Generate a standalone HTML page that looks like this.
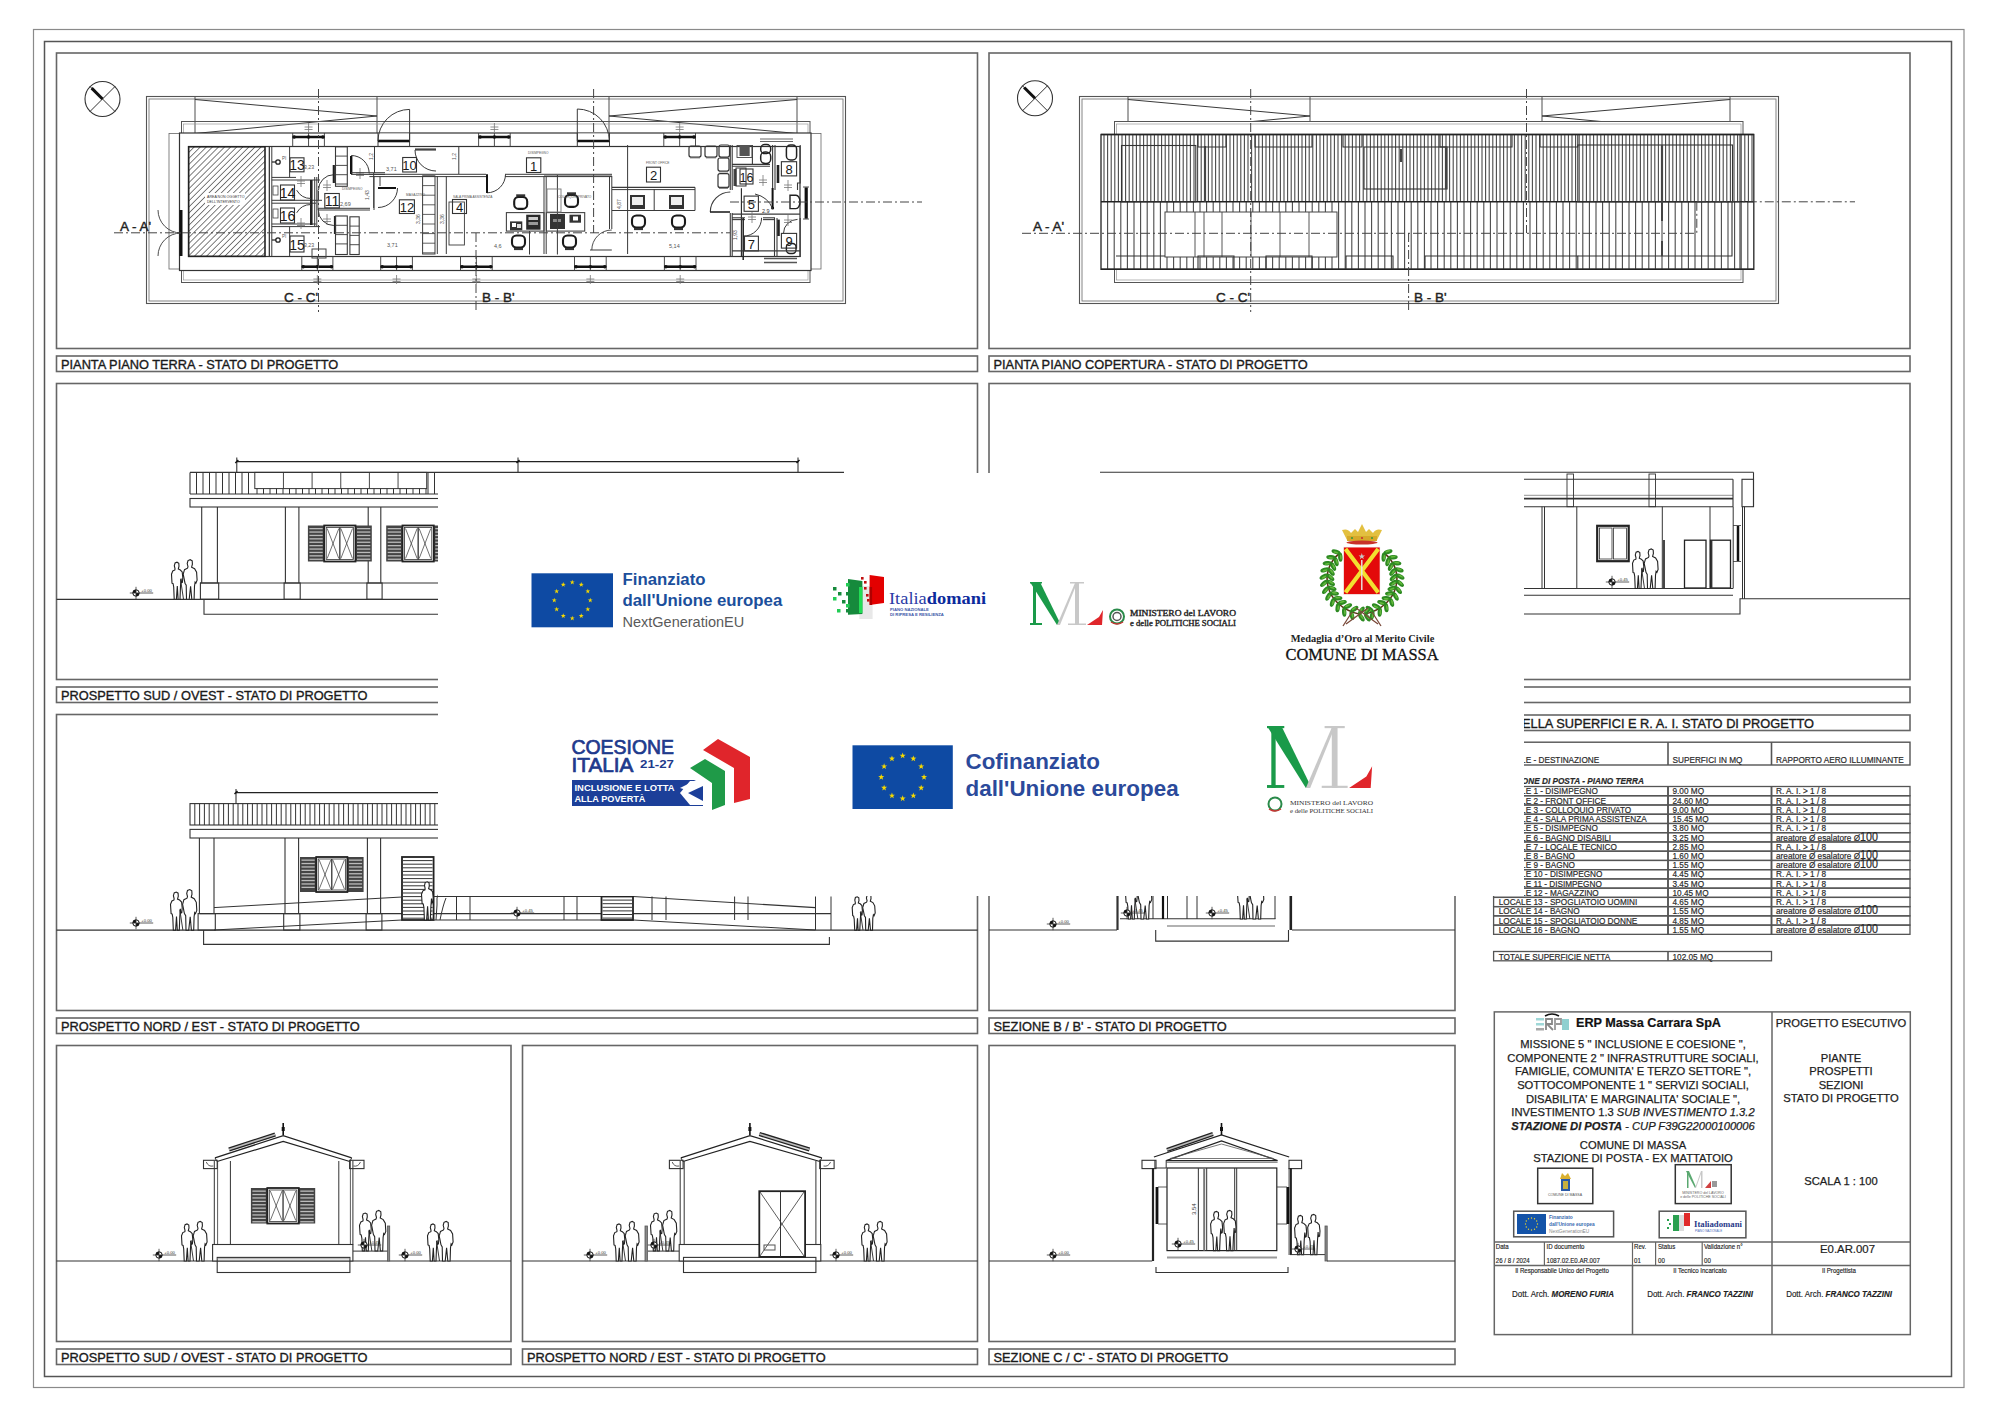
<!DOCTYPE html>
<html><head><meta charset="utf-8"><style>
html,body{margin:0;padding:0;background:#fff;width:2000px;height:1414px;overflow:hidden}
svg{display:block}
</style></head><body>
<svg width="2000" height="1414" viewBox="0 0 2000 1414" shape-rendering="auto">
<rect width="2000" height="1414" fill="#fff"/>
<rect x="33.5" y="29.5" width="1930.5" height="1358" stroke="#8a8a8a" stroke-width="1.2" fill="none" />
<rect x="44.5" y="41.5" width="1907" height="1335" stroke="#555" stroke-width="1.5" fill="none" />
<rect x="56.5" y="53" width="921.0" height="295.5" stroke="#666" stroke-width="1.6" fill="none" />
<rect x="56.5" y="356" width="921.0" height="15.5" stroke="#666" stroke-width="1.6" fill="none" />
<text x="61.0" y="368.5" font-family="Liberation Sans" font-size="12.8" font-weight="normal" font-style="normal" fill="#1a1a1a" text-anchor="start" stroke="#1a1a1a" stroke-width="0.35">PIANTA PIANO TERRA - STATO DI PROGETTO</text>
<rect x="989" y="53" width="921" height="295.5" stroke="#666" stroke-width="1.6" fill="none" />
<rect x="989" y="356" width="921" height="15.5" stroke="#666" stroke-width="1.6" fill="none" />
<text x="993.5" y="368.5" font-family="Liberation Sans" font-size="12.8" font-weight="normal" font-style="normal" fill="#1a1a1a" text-anchor="start" stroke="#1a1a1a" stroke-width="0.35">PIANTA PIANO COPERTURA - STATO DI PROGETTO</text>
<rect x="56.5" y="383.5" width="921.0" height="296.0" stroke="#666" stroke-width="1.6" fill="none" />
<rect x="56.5" y="687" width="921.0" height="15.5" stroke="#666" stroke-width="1.6" fill="none" />
<text x="61.0" y="699.5" font-family="Liberation Sans" font-size="12.8" font-weight="normal" font-style="normal" fill="#1a1a1a" text-anchor="start" stroke="#1a1a1a" stroke-width="0.35">PROSPETTO SUD / OVEST - STATO DI PROGETTO</text>
<rect x="989" y="383.5" width="921" height="296.0" stroke="#666" stroke-width="1.6" fill="none" />
<rect x="989" y="687" width="921" height="15.5" stroke="#666" stroke-width="1.6" fill="none" />
<text x="993.5" y="699.5" font-family="Liberation Sans" font-size="12.8" font-weight="normal" font-style="normal" fill="#1a1a1a" text-anchor="start" stroke="#1a1a1a" stroke-width="0.35">SEZIONE A / A' - STATO DI PROGETTO</text>
<rect x="56.5" y="714.5" width="921.0" height="296.0" stroke="#666" stroke-width="1.6" fill="none" />
<rect x="56.5" y="1018" width="921.0" height="15.5" stroke="#666" stroke-width="1.6" fill="none" />
<text x="61.0" y="1030.5" font-family="Liberation Sans" font-size="12.8" font-weight="normal" font-style="normal" fill="#1a1a1a" text-anchor="start" stroke="#1a1a1a" stroke-width="0.35">PROSPETTO NORD / EST - STATO DI PROGETTO</text>
<rect x="989" y="714.5" width="466" height="296.0" stroke="#666" stroke-width="1.6" fill="none" />
<rect x="989" y="1018" width="466" height="15.5" stroke="#666" stroke-width="1.6" fill="none" />
<text x="993.5" y="1030.5" font-family="Liberation Sans" font-size="12.8" font-weight="normal" font-style="normal" fill="#1a1a1a" text-anchor="start" stroke="#1a1a1a" stroke-width="0.35">SEZIONE B / B' - STATO DI PROGETTO</text>
<rect x="1493.6" y="715" width="416.4000000000001" height="15.5" stroke="#666" stroke-width="1.6" fill="none" />
<text x="1498.1" y="727.5" font-family="Liberation Sans" font-size="12.8" font-weight="normal" font-style="normal" fill="#1a1a1a" text-anchor="start" stroke="#1a1a1a" stroke-width="0.35">TABELLA SUPERFICI E R. A. I. STATO DI PROGETTO</text>
<rect x="56.5" y="1045.5" width="454.5" height="296.0" stroke="#666" stroke-width="1.6" fill="none" />
<rect x="56.5" y="1349" width="454.5" height="15.5" stroke="#666" stroke-width="1.6" fill="none" />
<text x="61.0" y="1361.5" font-family="Liberation Sans" font-size="12.8" font-weight="normal" font-style="normal" fill="#1a1a1a" text-anchor="start" stroke="#1a1a1a" stroke-width="0.35">PROSPETTO SUD / OVEST - STATO DI PROGETTO</text>
<rect x="522.5" y="1045.5" width="455.0" height="296.0" stroke="#666" stroke-width="1.6" fill="none" />
<rect x="522.5" y="1349" width="455.0" height="15.5" stroke="#666" stroke-width="1.6" fill="none" />
<text x="527.0" y="1361.5" font-family="Liberation Sans" font-size="12.8" font-weight="normal" font-style="normal" fill="#1a1a1a" text-anchor="start" stroke="#1a1a1a" stroke-width="0.35">PROSPETTO NORD / EST - STATO DI PROGETTO</text>
<rect x="989" y="1045.5" width="466" height="296.0" stroke="#666" stroke-width="1.6" fill="none" />
<rect x="989" y="1349" width="466" height="15.5" stroke="#666" stroke-width="1.6" fill="none" />
<text x="993.5" y="1361.5" font-family="Liberation Sans" font-size="12.8" font-weight="normal" font-style="normal" fill="#1a1a1a" text-anchor="start" stroke="#1a1a1a" stroke-width="0.35">SEZIONE C / C' - STATO DI PROGETTO</text>
<circle cx="102.5" cy="99" r="17.5" fill="none" stroke="#333" stroke-width="1.1"/>
<line x1="89.9" y1="86.4" x2="115.1" y2="111.6" stroke="#333" stroke-width="1" />
<line x1="89.9" y1="111.6" x2="115.1" y2="86.4" stroke="#333" stroke-width="1" />
<line x1="91.65" y1="88.15" x2="102.5" y2="99" stroke="#111" stroke-width="3" />
<rect x="146.5" y="96.5" width="699" height="207" stroke="#555" stroke-width="1.1" fill="none" />
<rect x="149" y="99" width="694" height="202" stroke="#777" stroke-width="0.9" fill="none" />
<line x1="195" y1="97" x2="195" y2="134" stroke="#3a3a3a" stroke-width="0.9" />
<line x1="377" y1="97" x2="377" y2="141" stroke="#3a3a3a" stroke-width="0.9" />
<line x1="195" y1="99.5" x2="377" y2="116" stroke="#3a3a3a" stroke-width="1" />
<line x1="195" y1="133.5" x2="377" y2="116" stroke="#3a3a3a" stroke-width="1" />
<line x1="609" y1="97" x2="609" y2="141" stroke="#3a3a3a" stroke-width="0.9" />
<line x1="797" y1="97" x2="797" y2="134" stroke="#3a3a3a" stroke-width="0.9" />
<line x1="797" y1="99.5" x2="609" y2="116" stroke="#3a3a3a" stroke-width="1" />
<line x1="797" y1="133.5" x2="609" y2="116" stroke="#3a3a3a" stroke-width="1" />
<rect x="181.5" y="121.5" width="628.5" height="161" stroke="#555" stroke-width="1" fill="none" />
<rect x="183.5" y="124" width="624.5" height="156" stroke="#999" stroke-width="0.7" fill="none" />
<rect x="169" y="133.5" width="652" height="135.5" stroke="#666" stroke-width="0.8" fill="none" />
<rect x="179.5" y="133" width="631.5" height="137.5" stroke="#333" stroke-width="1.2" fill="#fff" />
<rect x="188.5" y="146.5" width="611.5" height="110" stroke="#333" stroke-width="1.2" fill="none" />
<defs><pattern id="hatch" width="4.3" height="4.3" patternUnits="userSpaceOnUse" patternTransform="rotate(45)"><rect width="4.3" height="4.3" fill="#fff"/><line x1="0" y1="0" x2="0" y2="4.3" stroke="#333" stroke-width="1.25"/></pattern></defs>
<rect x="188.7" y="146.8" width="76.3" height="109.5" fill="url(#hatch)" stroke="#222" stroke-width="1.6"/>
<line x1="269.5" y1="146.8" x2="269.5" y2="256.3" stroke="#3a3a3a" stroke-width="1" />
<rect x="205" y="193" width="40" height="12" fill="#fff" />
<text x="207" y="198" font-family="Liberation Sans" font-size="3.6" font-weight="normal" font-style="normal" fill="#333" text-anchor="start" >AREA NON OGGETTO</text>
<text x="207" y="203" font-family="Liberation Sans" font-size="3.6" font-weight="normal" font-style="normal" fill="#333" text-anchor="start" >DELL'INTERVENTO</text>
<line x1="181" y1="210" x2="181" y2="256" stroke="#111" stroke-width="3" />
<path d="M158.0,210.0 A23,23 0 0 0 181.0,233.0" stroke="#3a3a3a" stroke-width="0.9" fill="none" />
<path d="M181.0,233.0 A23,23 0 0 0 158.0,256.0" stroke="#3a3a3a" stroke-width="0.9" fill="none" />
<line x1="269.2" y1="147" x2="269.2" y2="256" stroke="#3a3a3a" stroke-width="1" />
<line x1="271.8" y1="147" x2="271.8" y2="256" stroke="#3a3a3a" stroke-width="1" />
<line x1="271.8" y1="177.4" x2="296" y2="177.4" stroke="#3a3a3a" stroke-width="1" />
<line x1="271.8" y1="180" x2="320" y2="180" stroke="#3a3a3a" stroke-width="1" />
<line x1="271.8" y1="200.3" x2="322" y2="200.3" stroke="#3a3a3a" stroke-width="1" />
<line x1="271.8" y1="203.2" x2="316" y2="203.2" stroke="#3a3a3a" stroke-width="1" />
<line x1="271.8" y1="224" x2="316" y2="224" stroke="#3a3a3a" stroke-width="1" />
<line x1="271.8" y1="226.6" x2="320" y2="226.6" stroke="#3a3a3a" stroke-width="1" />
<line x1="289.6" y1="147" x2="289.6" y2="177.4" stroke="#3a3a3a" stroke-width="1" />
<line x1="289.6" y1="226.6" x2="289.6" y2="256" stroke="#3a3a3a" stroke-width="1" />
<line x1="311.3" y1="180" x2="311.3" y2="225" stroke="#222" stroke-width="2.6" />
<line x1="314.7" y1="177" x2="314.7" y2="226.6" stroke="#3a3a3a" stroke-width="1" />
<line x1="316.8" y1="177" x2="316.8" y2="226.6" stroke="#3a3a3a" stroke-width="1" />
<circle cx="278" cy="162" r="2.2" fill="none" stroke="#222" stroke-width="1.3"/>
<line x1="272" y1="162" x2="276" y2="162" stroke="#222" stroke-width="1.2" />
<text x="282" y="160" font-family="Liberation Sans" font-size="4.5" font-weight="normal" font-style="normal" fill="#555" text-anchor="start" >PI</text>
<circle cx="278" cy="240" r="2.2" fill="none" stroke="#222" stroke-width="1.3"/>
<line x1="272" y1="240" x2="276" y2="240" stroke="#222" stroke-width="1.2" />
<text x="282" y="238" font-family="Liberation Sans" font-size="4.5" font-weight="normal" font-style="normal" fill="#555" text-anchor="start" >PI</text>
<rect x="273" y="186" width="5" height="9" stroke="#444" stroke-width="0.8" fill="none" />
<rect x="273" y="209" width="5" height="9" stroke="#444" stroke-width="0.8" fill="none" />
<rect x="290" y="157.8" width="14" height="14" stroke="#333" stroke-width="1.1" fill="none" />
<text x="297.0" y="169.8" font-family="Liberation Sans" font-size="14" font-weight="normal" font-style="normal" fill="#1a1a1a" text-anchor="middle" >13</text>
<rect x="280.5" y="185" width="14" height="15" stroke="#333" stroke-width="1.1" fill="none" />
<text x="287.5" y="198" font-family="Liberation Sans" font-size="14" font-weight="normal" font-style="normal" fill="#1a1a1a" text-anchor="middle" >14</text>
<rect x="280.5" y="208" width="14" height="15" stroke="#333" stroke-width="1.1" fill="none" />
<text x="287.5" y="221" font-family="Liberation Sans" font-size="14" font-weight="normal" font-style="normal" fill="#1a1a1a" text-anchor="middle" >16</text>
<rect x="290" y="236" width="14" height="16" stroke="#333" stroke-width="1.1" fill="none" />
<text x="297.0" y="250" font-family="Liberation Sans" font-size="14" font-weight="normal" font-style="normal" fill="#1a1a1a" text-anchor="middle" >15</text>
<text x="304" y="169" font-family="Liberation Sans" font-size="5.2" font-weight="normal" font-style="normal" fill="#555" text-anchor="start" >3,23</text>
<text x="304" y="247" font-family="Liberation Sans" font-size="5.2" font-weight="normal" font-style="normal" fill="#555" text-anchor="start" >3,23</text>
<path d="M296.7,190.2 A16.5,16.5 0 0 0 311.0,198.5" stroke="#3a3a3a" stroke-width="1" fill="none" />
<path d="M296.7,212.8 A16.5,16.5 0 0 1 311.0,204.5" stroke="#3a3a3a" stroke-width="1" fill="none" />
<line x1="297" y1="181" x2="305" y2="181" stroke="#777" stroke-width="0.8" />
<line x1="297" y1="183.5" x2="305" y2="183.5" stroke="#777" stroke-width="0.8" />
<line x1="301" y1="176" x2="301" y2="187" stroke="#777" stroke-width="0.8" />
<line x1="297" y1="223" x2="305" y2="223" stroke="#777" stroke-width="0.8" />
<line x1="297" y1="225.5" x2="305" y2="225.5" stroke="#777" stroke-width="0.8" />
<line x1="301" y1="218" x2="301" y2="229" stroke="#777" stroke-width="0.8" />
<line x1="323" y1="185" x2="331" y2="185" stroke="#777" stroke-width="0.8" />
<line x1="323" y1="187.5" x2="331" y2="187.5" stroke="#777" stroke-width="0.8" />
<line x1="327" y1="180" x2="327" y2="191" stroke="#777" stroke-width="0.8" />
<line x1="323" y1="219" x2="331" y2="219" stroke="#777" stroke-width="0.8" />
<line x1="323" y1="221.5" x2="331" y2="221.5" stroke="#777" stroke-width="0.8" />
<line x1="327" y1="214" x2="327" y2="225" stroke="#777" stroke-width="0.8" />
<line x1="356" y1="173" x2="364" y2="173" stroke="#777" stroke-width="0.8" />
<line x1="356" y1="175.5" x2="364" y2="175.5" stroke="#777" stroke-width="0.8" />
<line x1="360" y1="168" x2="360" y2="179" stroke="#777" stroke-width="0.8" />
<rect x="312" y="249" width="14" height="9" stroke="#444" stroke-width="1" fill="none" />
<path d="M333.8,174.7 A15.3,15.3 0 0 0 318.5,190.0" stroke="#3a3a3a" stroke-width="1" fill="none" />
<path d="M318.3,210.0 A15.5,15.5 0 0 0 333.8,225.5" stroke="#3a3a3a" stroke-width="1" fill="none" />
<line x1="333.8" y1="165" x2="333.8" y2="183" stroke="#222" stroke-width="2.2" />
<line x1="335" y1="216" x2="335" y2="234" stroke="#222" stroke-width="2.2" />
<line x1="318" y1="190" x2="318" y2="210" stroke="#3a3a3a" stroke-width="0.8" />
<rect x="324.8" y="193.5" width="14.5" height="14.4" stroke="#333" stroke-width="1.1" fill="none" />
<text x="332.05" y="205.9" font-family="Liberation Sans" font-size="14" font-weight="normal" font-style="normal" fill="#1a1a1a" text-anchor="middle" >11</text>
<text x="340" y="206" font-family="Liberation Sans" font-size="5.5" font-weight="normal" font-style="normal" fill="#555" text-anchor="start" >2,69</text>
<text x="342" y="190" font-family="Liberation Sans" font-size="3.2" font-weight="normal" font-style="normal" fill="#555" text-anchor="start" >DISIMPEGNO</text>
<line x1="318" y1="208.3" x2="370" y2="208.3" stroke="#3a3a3a" stroke-width="1" />
<line x1="318" y1="210" x2="370" y2="210" stroke="#3a3a3a" stroke-width="1" />
<line x1="373.7" y1="173" x2="373.7" y2="208" stroke="#3a3a3a" stroke-width="1" />
<rect x="335.5" y="146.8" width="11.8" height="39.5" stroke="#3a3a3a" stroke-width="1.1" fill="none" />
<line x1="335.5" y1="156.10000000000002" x2="347.3" y2="156.10000000000002" stroke="#3a3a3a" stroke-width="0.9" />
<line x1="335.5" y1="165.40000000000003" x2="347.3" y2="165.40000000000003" stroke="#3a3a3a" stroke-width="0.9" />
<line x1="335.5" y1="174.70000000000005" x2="347.3" y2="174.70000000000005" stroke="#3a3a3a" stroke-width="0.9" />
<line x1="335.5" y1="184.00000000000006" x2="347.3" y2="184.00000000000006" stroke="#3a3a3a" stroke-width="0.9" />
<rect x="335.5" y="216" width="11.8" height="38.5" stroke="#3a3a3a" stroke-width="1.1" fill="none" />
<line x1="335.5" y1="225.3" x2="347.3" y2="225.3" stroke="#3a3a3a" stroke-width="0.9" />
<line x1="335.5" y1="234.60000000000002" x2="347.3" y2="234.60000000000002" stroke="#3a3a3a" stroke-width="0.9" />
<line x1="335.5" y1="243.90000000000003" x2="347.3" y2="243.90000000000003" stroke="#3a3a3a" stroke-width="0.9" />
<rect x="349.9" y="216.8" width="9.3" height="37.69999999999999" stroke="#3a3a3a" stroke-width="1.1" fill="none" />
<line x1="349.9" y1="226.10000000000002" x2="359.2" y2="226.10000000000002" stroke="#3a3a3a" stroke-width="0.9" />
<line x1="349.9" y1="235.40000000000003" x2="359.2" y2="235.40000000000003" stroke="#3a3a3a" stroke-width="0.9" />
<line x1="349.9" y1="244.70000000000005" x2="359.2" y2="244.70000000000005" stroke="#3a3a3a" stroke-width="0.9" />
<line x1="351.2" y1="156" x2="351.2" y2="174" stroke="#111" stroke-width="2.4" />
<path d="M351.2,155.5 A18,18 0 0 1 369.2,173.5" stroke="#3a3a3a" stroke-width="1" fill="none" />
<line x1="351" y1="172.7" x2="385" y2="172.7" stroke="#3a3a3a" stroke-width="1" />
<line x1="351" y1="174.4" x2="385" y2="174.4" stroke="#3a3a3a" stroke-width="1" />
<line x1="374.5" y1="147" x2="374.5" y2="173" stroke="#3a3a3a" stroke-width="1" />
<line x1="369.4" y1="174.3" x2="486" y2="174.3" stroke="#3a3a3a" stroke-width="1" />
<line x1="505" y1="174.3" x2="612" y2="174.3" stroke="#3a3a3a" stroke-width="1" />
<line x1="369.4" y1="176.6" x2="486" y2="176.6" stroke="#3a3a3a" stroke-width="1" />
<line x1="505" y1="176.6" x2="612" y2="176.6" stroke="#3a3a3a" stroke-width="1" />
<line x1="458.8" y1="147" x2="458.8" y2="174" stroke="#3a3a3a" stroke-width="1" />
<path d="M397.5,188.0 A19.5,19.5 0 0 1 378.0,207.5" stroke="#3a3a3a" stroke-width="1" fill="none" />
<line x1="374" y1="176" x2="374" y2="210" stroke="#3a3a3a" stroke-width="1" />
<line x1="380" y1="176" x2="380" y2="186" stroke="#3a3a3a" stroke-width="1" />
<path d="M415.0,150.0 A21,21 0 0 0 436.0,171.0" stroke="#3a3a3a" stroke-width="1" fill="none" />
<line x1="415" y1="149.5" x2="436" y2="149.5" stroke="#444" stroke-width="2.2" />
<line x1="378" y1="188" x2="396" y2="188" stroke="#111" stroke-width="2" />
<rect x="402.7" y="157.5" width="13.8" height="14.5" stroke="#333" stroke-width="1.1" fill="none" />
<text x="409.59999999999997" y="170.0" font-family="Liberation Sans" font-size="13" font-weight="normal" font-style="normal" fill="#1a1a1a" text-anchor="middle" >10</text>
<rect x="399.4" y="199.8" width="15" height="13.7" stroke="#333" stroke-width="1.1" fill="none" />
<text x="406.9" y="211.5" font-family="Liberation Sans" font-size="13" font-weight="normal" font-style="normal" fill="#1a1a1a" text-anchor="middle" >12</text>
<rect x="452.5" y="199.5" width="14" height="14" stroke="#333" stroke-width="1.1" fill="none" />
<text x="459.5" y="211.5" font-family="Liberation Sans" font-size="13" font-weight="normal" font-style="normal" fill="#1a1a1a" text-anchor="middle" >4</text>
<text x="386" y="171" font-family="Liberation Sans" font-size="5.5" font-weight="normal" font-style="normal" fill="#555" text-anchor="start" >3,71</text>
<text x="387" y="247" font-family="Liberation Sans" font-size="5.5" font-weight="normal" font-style="normal" fill="#555" text-anchor="start" >3,71</text>
<text x="494" y="248" font-family="Liberation Sans" font-size="5.5" font-weight="normal" font-style="normal" fill="#555" text-anchor="start" >4,6</text>
<text x="373" y="160" font-family="Liberation Sans" font-size="5" font-weight="normal" font-style="normal" fill="#555" text-anchor="start" transform="rotate(-90 373 160)">1,2</text>
<text x="456" y="160" font-family="Liberation Sans" font-size="5" font-weight="normal" font-style="normal" fill="#555" text-anchor="start" transform="rotate(-90 456 160)">1,2</text>
<text x="369" y="200" font-family="Liberation Sans" font-size="5" font-weight="normal" font-style="normal" fill="#555" text-anchor="start" transform="rotate(-90 369 200)">1,43</text>
<text x="420" y="224" font-family="Liberation Sans" font-size="5" font-weight="normal" font-style="normal" fill="#555" text-anchor="start" transform="rotate(-90 420 224)">3,36</text>
<text x="444" y="224" font-family="Liberation Sans" font-size="5" font-weight="normal" font-style="normal" fill="#555" text-anchor="start" transform="rotate(-90 444 224)">3,36</text>
<text x="406" y="196" font-family="Liberation Sans" font-size="3.2" font-weight="normal" font-style="normal" fill="#555" text-anchor="start" >MAGAZZINO</text>
<text x="453" y="198" font-family="Liberation Sans" font-size="3.2" font-weight="normal" font-style="normal" fill="#555" text-anchor="start" >SALA PRIMA ASSISTENZA</text>
<rect x="422.6" y="176" width="12.4" height="78" stroke="#3a3a3a" stroke-width="1" fill="none" />
<line x1="422.6" y1="176" x2="435" y2="176" stroke="#3a3a3a" stroke-width="0.8" />
<line x1="422.6" y1="185.6" x2="435" y2="185.6" stroke="#3a3a3a" stroke-width="0.8" />
<line x1="422.6" y1="195.2" x2="435" y2="195.2" stroke="#3a3a3a" stroke-width="0.8" />
<line x1="422.6" y1="204.79999999999998" x2="435" y2="204.79999999999998" stroke="#3a3a3a" stroke-width="0.8" />
<line x1="422.6" y1="214.39999999999998" x2="435" y2="214.39999999999998" stroke="#3a3a3a" stroke-width="0.8" />
<line x1="422.6" y1="223.99999999999997" x2="435" y2="223.99999999999997" stroke="#3a3a3a" stroke-width="0.8" />
<line x1="422.6" y1="233.59999999999997" x2="435" y2="233.59999999999997" stroke="#3a3a3a" stroke-width="0.8" />
<line x1="422.6" y1="243.19999999999996" x2="435" y2="243.19999999999996" stroke="#3a3a3a" stroke-width="0.8" />
<line x1="422.6" y1="252.79999999999995" x2="435" y2="252.79999999999995" stroke="#3a3a3a" stroke-width="0.8" />
<line x1="437.3" y1="176" x2="437.3" y2="254" stroke="#3a3a3a" stroke-width="1" />
<line x1="446.3" y1="176" x2="446.3" y2="254" stroke="#3a3a3a" stroke-width="1" />
<rect x="449" y="202" width="15.4" height="43" stroke="#3a3a3a" stroke-width="0.9" fill="none" />
<path d="M487.0,192.8 A18.5,18.5 0 0 0 505.5,174.3" stroke="#3a3a3a" stroke-width="1" fill="none" />
<line x1="487" y1="174.3" x2="487" y2="193" stroke="#111" stroke-width="2" />
<line x1="544" y1="176" x2="544" y2="254" stroke="#3a3a3a" stroke-width="1" />
<line x1="546.2" y1="176" x2="546.2" y2="254" stroke="#3a3a3a" stroke-width="1" />
<line x1="544" y1="176" x2="612" y2="176" stroke="#3a3a3a" stroke-width="1" />
<line x1="609.5" y1="176" x2="609.5" y2="229" stroke="#3a3a3a" stroke-width="1" />
<line x1="611.8" y1="176" x2="611.8" y2="229" stroke="#3a3a3a" stroke-width="1" />
<path d="M591.8,250.0 A20,20 0 0 1 611.8,230.0" stroke="#3a3a3a" stroke-width="0.9" fill="none" />
<line x1="590" y1="250" x2="611.8" y2="250" stroke="#3a3a3a" stroke-width="1" />
<rect x="506.4" y="212.6" width="37.6" height="18.5" stroke="#444" stroke-width="1.1" fill="none" />
<rect x="546.4" y="212.6" width="38.3" height="18.5" stroke="#444" stroke-width="1.1" fill="none" />
<rect x="514.2" y="196.9" width="13" height="12" rx="4.5" fill="none" stroke="#1a1a1a" stroke-width="2.1"/>
<line x1="516.2" y1="195.4" x2="525.2" y2="195.4" stroke="#333" stroke-width="2.2" />
<rect x="512" y="235.5" width="13" height="12" rx="4.5" fill="none" stroke="#1a1a1a" stroke-width="2.1"/>
<line x1="514" y1="249" x2="523" y2="249" stroke="#333" stroke-width="2.2" />
<rect x="563" y="235.5" width="13" height="12" rx="4.5" fill="none" stroke="#1a1a1a" stroke-width="2.1"/>
<line x1="565" y1="249" x2="574" y2="249" stroke="#333" stroke-width="2.2" />
<rect x="565" y="194.9" width="13" height="12" rx="4.5" fill="none" stroke="#1a1a1a" stroke-width="2.1"/>
<line x1="567" y1="193.4" x2="576" y2="193.4" stroke="#333" stroke-width="2.2" />
<rect x="510" y="221.4" width="12.3" height="8.9" fill="#333" />
<rect x="512" y="223" width="4" height="4" fill="#fff" />
<rect x="517" y="224" width="4" height="4" fill="#ddd" />
<rect x="526.2" y="214.7" width="14.3" height="15" fill="#2a2a2a" />
<rect x="528.5" y="217" width="9.5" height="3" fill="#ccc" />
<rect x="528.5" y="222" width="9.5" height="3" fill="#999" />
<rect x="550" y="214" width="15" height="15" fill="#333" />
<rect x="553" y="219" width="8" height="3" fill="#888" />
<rect x="569.5" y="214.7" width="11.5" height="8" fill="#333" />
<rect x="573" y="216.5" width="5" height="4" fill="#fff" />
<line x1="529.5" y1="231" x2="529.5" y2="254.5" stroke="#3a3a3a" stroke-width="1" />
<line x1="557.4" y1="175" x2="557.4" y2="254.5" stroke="#3a3a3a" stroke-width="1" />
<rect x="547" y="189" width="14" height="23" stroke="#777" stroke-width="0.9" fill="none" />
<rect x="526.5" y="157.8" width="14.3" height="14.7" stroke="#333" stroke-width="1.1" fill="none" />
<text x="533.65" y="170.5" font-family="Liberation Sans" font-size="13" font-weight="normal" font-style="normal" fill="#1a1a1a" text-anchor="middle" >1</text>
<rect x="646.5" y="167.2" width="14" height="14.8" stroke="#333" stroke-width="1.1" fill="none" />
<text x="653.5" y="180.0" font-family="Liberation Sans" font-size="13" font-weight="normal" font-style="normal" fill="#1a1a1a" text-anchor="middle" >2</text>
<text x="528" y="154" font-family="Liberation Sans" font-size="3.2" font-weight="normal" font-style="normal" fill="#555" text-anchor="start" >DISIMPEGNO</text>
<text x="646" y="164" font-family="Liberation Sans" font-size="3.2" font-weight="normal" font-style="normal" fill="#555" text-anchor="start" >FRONT OFFICE</text>
<text x="558" y="198" font-family="Liberation Sans" font-size="3.2" font-weight="normal" font-style="normal" fill="#555" text-anchor="start" >COLLOQUIO PRIVATO</text>
<line x1="627.6" y1="145" x2="627.6" y2="254" stroke="#3a3a3a" stroke-width="1" />
<line x1="612" y1="187.3" x2="695" y2="187.3" stroke="#3a3a3a" stroke-width="1.2" />
<line x1="612" y1="189.6" x2="695" y2="189.6" stroke="#3a3a3a" stroke-width="1" />
<line x1="612" y1="210.5" x2="695" y2="210.5" stroke="#3a3a3a" stroke-width="1" />
<line x1="695" y1="187.3" x2="695" y2="210.5" stroke="#3a3a3a" stroke-width="1" />
<line x1="654.2" y1="189" x2="654.2" y2="210" stroke="#3a3a3a" stroke-width="1" />
<rect x="630" y="195" width="15" height="14" fill="#333" />
<rect x="632" y="197" width="11" height="8" fill="#eee" />
<rect x="669" y="195" width="15" height="14" fill="#333" />
<rect x="671" y="197" width="11" height="8" fill="#eee" />
<rect x="632" y="215.5" width="13" height="12" rx="4.5" fill="none" stroke="#1a1a1a" stroke-width="2.1"/>
<line x1="634" y1="229" x2="643" y2="229" stroke="#333" stroke-width="2.2" />
<rect x="672" y="215.5" width="13" height="12" rx="4.5" fill="none" stroke="#1a1a1a" stroke-width="2.1"/>
<line x1="674" y1="229" x2="683" y2="229" stroke="#333" stroke-width="2.2" />
<text x="669" y="248" font-family="Liberation Sans" font-size="5.5" font-weight="normal" font-style="normal" fill="#555" text-anchor="start" >5,14</text>
<text x="621" y="209" font-family="Liberation Sans" font-size="5" font-weight="normal" font-style="normal" fill="#555" text-anchor="start" transform="rotate(-90 621 209)">4,87</text>
<rect x="689" y="146" width="12" height="11" rx="2" fill="none" stroke="#333" stroke-width="1.2"/>
<line x1="690" y1="157.8" x2="700" y2="157.8" stroke="#555" stroke-width="1" />
<rect x="705" y="146" width="12" height="11" rx="2" fill="none" stroke="#333" stroke-width="1.2"/>
<line x1="706" y1="157.8" x2="716" y2="157.8" stroke="#555" stroke-width="1" />
<rect x="719" y="145" width="10.5" height="12" rx="2" fill="none" stroke="#333" stroke-width="1.2"/>
<line x1="720" y1="157.8" x2="728.5" y2="157.8" stroke="#555" stroke-width="1" />
<rect x="718" y="158" width="11" height="13" rx="2" fill="none" stroke="#333" stroke-width="1.2"/>
<line x1="719" y1="171.8" x2="728" y2="171.8" stroke="#555" stroke-width="1" />
<rect x="718" y="173.6" width="11" height="13.8" rx="2" fill="none" stroke="#333" stroke-width="1.2"/>
<line x1="719" y1="188.20000000000002" x2="728" y2="188.20000000000002" stroke="#555" stroke-width="1" />
<line x1="730.3" y1="145" x2="730.3" y2="190" stroke="#3a3a3a" stroke-width="1.1" />
<line x1="732.2" y1="145" x2="732.2" y2="190" stroke="#3a3a3a" stroke-width="1.1" />
<line x1="730.3" y1="213" x2="730.3" y2="257" stroke="#3a3a3a" stroke-width="1.1" />
<line x1="732.2" y1="213" x2="732.2" y2="257" stroke="#3a3a3a" stroke-width="1.1" />
<path d="M710.3,212.0 A20,20 0 0 1 730.3,192.0" stroke="#3a3a3a" stroke-width="1.1" fill="none" />
<line x1="710" y1="212" x2="730" y2="212" stroke="#222" stroke-width="1.6" />
<line x1="732" y1="164.4" x2="770" y2="164.4" stroke="#3a3a3a" stroke-width="1.1" />
<line x1="732" y1="166.2" x2="770" y2="166.2" stroke="#3a3a3a" stroke-width="1.1" />
<line x1="752.4" y1="145" x2="752.4" y2="164" stroke="#3a3a3a" stroke-width="1.1" />
<rect x="739.5" y="146" width="10.2" height="10" fill="#555" />
<rect x="737" y="145.5" width="15" height="12" stroke="#444" stroke-width="0.9" fill="none" />
<rect x="733.5" y="169" width="3" height="17" fill="#444" />
<rect x="736" y="168" width="10" height="18" stroke="#333" stroke-width="1" fill="none" />
<rect x="740" y="169" width="13" height="15" stroke="#333" stroke-width="1.1" fill="none" />
<text x="746.5" y="182" font-family="Liberation Sans" font-size="12.5" font-weight="normal" font-style="normal" fill="#1a1a1a" text-anchor="middle" >16</text>
<rect x="760.7" y="144.5" width="10" height="9" rx="4" fill="none" stroke="#222" stroke-width="1.5"/>
<rect x="760.7" y="152" width="10" height="11.5" rx="4.5" fill="none" stroke="#222" stroke-width="1.5"/>
<line x1="772.6" y1="145" x2="772.6" y2="190" stroke="#3a3a3a" stroke-width="1.1" />
<line x1="775" y1="145" x2="775" y2="190" stroke="#3a3a3a" stroke-width="1.1" />
<line x1="778" y1="165" x2="778" y2="183" stroke="#222" stroke-width="2.6" />
<rect x="781.4" y="161.7" width="15.2" height="14.2" stroke="#333" stroke-width="1.1" fill="none" />
<text x="789.0" y="173.89999999999998" font-family="Liberation Sans" font-size="13" font-weight="normal" font-style="normal" fill="#1a1a1a" text-anchor="middle" >8</text>
<rect x="786.4" y="145" width="10.2" height="15" rx="4" fill="none" stroke="#222" stroke-width="1.5"/>
<polyline points="800.2,145 800.2,183 797.5,183 797.5,190" stroke="#3a3a3a" stroke-width="1.1" fill="none" />
<line x1="806.2" y1="187.4" x2="806.2" y2="218.7" stroke="#111" stroke-width="3.2" />
<line x1="803" y1="187" x2="809" y2="187" stroke="#3a3a3a" stroke-width="0.9" />
<line x1="803" y1="219" x2="809" y2="219" stroke="#3a3a3a" stroke-width="0.9" />
<path d="M790,195.2 H796 A4,6.7 0 0 1 796,208.6 H790 Z" fill="none" stroke="#222" stroke-width="1.4"/>
<rect x="744.1" y="196.1" width="14.3" height="15.2" stroke="#333" stroke-width="1.1" fill="none" />
<text x="751.25" y="209.29999999999998" font-family="Liberation Sans" font-size="13" font-weight="normal" font-style="normal" fill="#1a1a1a" text-anchor="middle" >5</text>
<line x1="741.4" y1="188.3" x2="741.4" y2="257" stroke="#222" stroke-width="1.1" />
<line x1="772.6" y1="188" x2="772.6" y2="208.6" stroke="#111" stroke-width="2" />
<circle cx="772.6" cy="208" r="1.5" fill="#111"/>
<path d="M755,194 Q768,197 772.6,208.6" stroke="#3a3a3a" stroke-width="1" fill="none" />
<text x="762" y="213" font-family="Liberation Sans" font-size="5.5" font-weight="normal" font-style="normal" fill="#333" text-anchor="start" >2,9</text>
<line x1="732" y1="214.1" x2="800" y2="214.1" stroke="#3a3a3a" stroke-width="1.1" />
<line x1="732" y1="217.8" x2="745" y2="217.8" stroke="#3a3a3a" stroke-width="1.1" />
<line x1="732" y1="219.6" x2="745" y2="219.6" stroke="#3a3a3a" stroke-width="1.1" />
<line x1="763" y1="217.8" x2="775" y2="217.8" stroke="#3a3a3a" stroke-width="1.1" />
<line x1="763" y1="219.6" x2="775" y2="219.6" stroke="#3a3a3a" stroke-width="1.1" />
<path d="M761.6,217.8 A18.4,18.4 0 0 1 743.2,236.2" stroke="#3a3a3a" stroke-width="1" fill="none" />
<line x1="743.2" y1="218" x2="743.2" y2="260" stroke="#222" stroke-width="1.5" />
<rect x="744.5" y="236.2" width="13.9" height="14.7" stroke="#333" stroke-width="1.1" fill="none" />
<text x="751.45" y="248.89999999999998" font-family="Liberation Sans" font-size="13" font-weight="normal" font-style="normal" fill="#1a1a1a" text-anchor="middle" >7</text>
<line x1="774.5" y1="218" x2="774.5" y2="257" stroke="#3a3a3a" stroke-width="1.1" />
<line x1="777" y1="218" x2="777" y2="257" stroke="#3a3a3a" stroke-width="1.1" />
<line x1="778.5" y1="219.6" x2="778.5" y2="236" stroke="#222" stroke-width="2.6" />
<rect x="781.4" y="233.4" width="15.2" height="14.7" stroke="#333" stroke-width="1.1" fill="none" />
<text x="789.0" y="246.1" font-family="Liberation Sans" font-size="13" font-weight="normal" font-style="normal" fill="#1a1a1a" text-anchor="middle" >9</text>
<path d="M797.5,219.4 A14,14 0 0 0 783.5,233.4" stroke="#3a3a3a" stroke-width="1" fill="none" />
<rect x="786.4" y="243.5" width="9.6" height="10" rx="3.5" fill="none" stroke="#222" stroke-width="1.4"/>
<line x1="732" y1="250.9" x2="800" y2="250.9" stroke="#3a3a3a" stroke-width="1.1" />
<polyline points="800.2,218 800.2,257" stroke="#3a3a3a" stroke-width="1.1" fill="none" />
<text x="737" y="240" font-family="Liberation Sans" font-size="5" font-weight="normal" font-style="normal" fill="#444" text-anchor="start" transform="rotate(-90 737 240)">1,93</text>
<line x1="759" y1="180" x2="767" y2="180" stroke="#777" stroke-width="0.8" />
<line x1="759" y1="182.5" x2="767" y2="182.5" stroke="#777" stroke-width="0.8" />
<line x1="763" y1="175" x2="763" y2="186" stroke="#777" stroke-width="0.8" />
<line x1="748" y1="217" x2="756" y2="217" stroke="#777" stroke-width="0.8" />
<line x1="748" y1="219.5" x2="756" y2="219.5" stroke="#777" stroke-width="0.8" />
<line x1="752" y1="212" x2="752" y2="223" stroke="#777" stroke-width="0.8" />
<line x1="784" y1="185" x2="792" y2="185" stroke="#777" stroke-width="0.8" />
<line x1="784" y1="187.5" x2="792" y2="187.5" stroke="#777" stroke-width="0.8" />
<line x1="788" y1="180" x2="788" y2="191" stroke="#777" stroke-width="0.8" />
<line x1="784" y1="220" x2="792" y2="220" stroke="#777" stroke-width="0.8" />
<line x1="784" y1="222.5" x2="792" y2="222.5" stroke="#777" stroke-width="0.8" />
<line x1="788" y1="215" x2="788" y2="226" stroke="#777" stroke-width="0.8" />
<line x1="764" y1="258.5" x2="797" y2="258.5" stroke="#555" stroke-width="1.6" />
<line x1="764" y1="262.5" x2="797" y2="262.5" stroke="#555" stroke-width="1.6" />
<line x1="760" y1="139" x2="793" y2="139" stroke="#666" stroke-width="1.2" />
<line x1="760" y1="141.5" x2="793" y2="141.5" stroke="#666" stroke-width="1.2" />
<line x1="292.7" y1="133" x2="292.7" y2="147" stroke="#3a3a3a" stroke-width="0.9" />
<line x1="308.54999999999995" y1="133" x2="308.54999999999995" y2="147" stroke="#3a3a3a" stroke-width="0.9" />
<line x1="324.4" y1="133" x2="324.4" y2="147" stroke="#3a3a3a" stroke-width="0.9" />
<line x1="292.7" y1="137" x2="324.4" y2="137" stroke="#111" stroke-width="2.6" />
<circle cx="294.2" cy="137" r="1.8" fill="#111"/>
<circle cx="308.54999999999995" cy="137" r="1.8" fill="#111"/>
<circle cx="322.9" cy="137" r="1.8" fill="#111"/>
<line x1="304.54999999999995" y1="127" x2="312.54999999999995" y2="127" stroke="#777" stroke-width="0.8" />
<line x1="304.54999999999995" y1="129.5" x2="312.54999999999995" y2="129.5" stroke="#777" stroke-width="0.8" />
<line x1="308.54999999999995" y1="123" x2="308.54999999999995" y2="132" stroke="#777" stroke-width="0.8" />
<line x1="478.6" y1="133" x2="478.6" y2="147" stroke="#3a3a3a" stroke-width="0.9" />
<line x1="494.4" y1="133" x2="494.4" y2="147" stroke="#3a3a3a" stroke-width="0.9" />
<line x1="510.2" y1="133" x2="510.2" y2="147" stroke="#3a3a3a" stroke-width="0.9" />
<line x1="478.6" y1="137" x2="510.2" y2="137" stroke="#111" stroke-width="2.6" />
<circle cx="480.1" cy="137" r="1.8" fill="#111"/>
<circle cx="494.4" cy="137" r="1.8" fill="#111"/>
<circle cx="508.7" cy="137" r="1.8" fill="#111"/>
<line x1="490.4" y1="127" x2="498.4" y2="127" stroke="#777" stroke-width="0.8" />
<line x1="490.4" y1="129.5" x2="498.4" y2="129.5" stroke="#777" stroke-width="0.8" />
<line x1="494.4" y1="123" x2="494.4" y2="132" stroke="#777" stroke-width="0.8" />
<line x1="663.8" y1="133" x2="663.8" y2="147" stroke="#3a3a3a" stroke-width="0.9" />
<line x1="679.65" y1="133" x2="679.65" y2="147" stroke="#3a3a3a" stroke-width="0.9" />
<line x1="695.5" y1="133" x2="695.5" y2="147" stroke="#3a3a3a" stroke-width="0.9" />
<line x1="663.8" y1="137" x2="695.5" y2="137" stroke="#111" stroke-width="2.6" />
<circle cx="665.3" cy="137" r="1.8" fill="#111"/>
<circle cx="679.65" cy="137" r="1.8" fill="#111"/>
<circle cx="694.0" cy="137" r="1.8" fill="#111"/>
<line x1="675.65" y1="127" x2="683.65" y2="127" stroke="#777" stroke-width="0.8" />
<line x1="675.65" y1="129.5" x2="683.65" y2="129.5" stroke="#777" stroke-width="0.8" />
<line x1="679.65" y1="123" x2="679.65" y2="132" stroke="#777" stroke-width="0.8" />
<rect x="378" y="133.5" width="31.600000000000023" height="11" fill="#fff" />
<line x1="378" y1="133" x2="378" y2="147" stroke="#3a3a3a" stroke-width="1" />
<line x1="409.6" y1="133" x2="409.6" y2="147" stroke="#3a3a3a" stroke-width="1" />
<line x1="378" y1="141" x2="409.6" y2="141" stroke="#111" stroke-width="2.6" />
<rect x="577.3" y="133.5" width="32.200000000000045" height="11" fill="#fff" />
<line x1="577.3" y1="133" x2="577.3" y2="147" stroke="#3a3a3a" stroke-width="1" />
<line x1="609.5" y1="133" x2="609.5" y2="147" stroke="#3a3a3a" stroke-width="1" />
<line x1="577.3" y1="141" x2="609.5" y2="141" stroke="#111" stroke-width="2.6" />
<path d="M378.0,141.0 A31.6,31.6 0 0 1 409.6,109.4" stroke="#3a3a3a" stroke-width="1" fill="none" />
<line x1="409.6" y1="109.4" x2="409.6" y2="141" stroke="#3a3a3a" stroke-width="1" />
<path d="M577.3,109.0 A32,32 0 0 1 609.3,141.0" stroke="#3a3a3a" stroke-width="1" fill="none" />
<line x1="577.3" y1="109" x2="577.3" y2="141" stroke="#3a3a3a" stroke-width="1" />
<line x1="301.8" y1="256" x2="301.8" y2="270.5" stroke="#3a3a3a" stroke-width="0.9" />
<line x1="317.35" y1="256" x2="317.35" y2="270.5" stroke="#3a3a3a" stroke-width="0.9" />
<line x1="332.9" y1="256" x2="332.9" y2="270.5" stroke="#3a3a3a" stroke-width="0.9" />
<line x1="301.8" y1="266.7" x2="332.9" y2="266.7" stroke="#111" stroke-width="2.6" />
<circle cx="303.3" cy="266.7" r="1.8" fill="#111"/>
<circle cx="317.35" cy="266.7" r="1.8" fill="#111"/>
<circle cx="331.4" cy="266.7" r="1.8" fill="#111"/>
<line x1="313.35" y1="279" x2="321.35" y2="279" stroke="#777" stroke-width="0.8" />
<line x1="313.35" y1="281.5" x2="321.35" y2="281.5" stroke="#777" stroke-width="0.8" />
<line x1="317.35" y1="275" x2="317.35" y2="284" stroke="#777" stroke-width="0.8" />
<line x1="380.7" y1="256" x2="380.7" y2="270.5" stroke="#3a3a3a" stroke-width="0.9" />
<line x1="396.54999999999995" y1="256" x2="396.54999999999995" y2="270.5" stroke="#3a3a3a" stroke-width="0.9" />
<line x1="412.4" y1="256" x2="412.4" y2="270.5" stroke="#3a3a3a" stroke-width="0.9" />
<line x1="380.7" y1="266.7" x2="412.4" y2="266.7" stroke="#111" stroke-width="2.6" />
<circle cx="382.2" cy="266.7" r="1.8" fill="#111"/>
<circle cx="396.54999999999995" cy="266.7" r="1.8" fill="#111"/>
<circle cx="410.9" cy="266.7" r="1.8" fill="#111"/>
<line x1="392.54999999999995" y1="279" x2="400.54999999999995" y2="279" stroke="#777" stroke-width="0.8" />
<line x1="392.54999999999995" y1="281.5" x2="400.54999999999995" y2="281.5" stroke="#777" stroke-width="0.8" />
<line x1="396.54999999999995" y1="275" x2="396.54999999999995" y2="284" stroke="#777" stroke-width="0.8" />
<line x1="460.5" y1="256" x2="460.5" y2="270.5" stroke="#3a3a3a" stroke-width="0.9" />
<line x1="476.35" y1="256" x2="476.35" y2="270.5" stroke="#3a3a3a" stroke-width="0.9" />
<line x1="492.2" y1="256" x2="492.2" y2="270.5" stroke="#3a3a3a" stroke-width="0.9" />
<line x1="460.5" y1="266.7" x2="492.2" y2="266.7" stroke="#111" stroke-width="2.6" />
<circle cx="462.0" cy="266.7" r="1.8" fill="#111"/>
<circle cx="476.35" cy="266.7" r="1.8" fill="#111"/>
<circle cx="490.7" cy="266.7" r="1.8" fill="#111"/>
<line x1="472.35" y1="279" x2="480.35" y2="279" stroke="#777" stroke-width="0.8" />
<line x1="472.35" y1="281.5" x2="480.35" y2="281.5" stroke="#777" stroke-width="0.8" />
<line x1="476.35" y1="275" x2="476.35" y2="284" stroke="#777" stroke-width="0.8" />
<line x1="574.5" y1="256" x2="574.5" y2="270.5" stroke="#3a3a3a" stroke-width="0.9" />
<line x1="590.35" y1="256" x2="590.35" y2="270.5" stroke="#3a3a3a" stroke-width="0.9" />
<line x1="606.2" y1="256" x2="606.2" y2="270.5" stroke="#3a3a3a" stroke-width="0.9" />
<line x1="574.5" y1="266.7" x2="606.2" y2="266.7" stroke="#111" stroke-width="2.6" />
<circle cx="576.0" cy="266.7" r="1.8" fill="#111"/>
<circle cx="590.35" cy="266.7" r="1.8" fill="#111"/>
<circle cx="604.7" cy="266.7" r="1.8" fill="#111"/>
<line x1="586.35" y1="279" x2="594.35" y2="279" stroke="#777" stroke-width="0.8" />
<line x1="586.35" y1="281.5" x2="594.35" y2="281.5" stroke="#777" stroke-width="0.8" />
<line x1="590.35" y1="275" x2="590.35" y2="284" stroke="#777" stroke-width="0.8" />
<line x1="664.4" y1="256" x2="664.4" y2="270.5" stroke="#3a3a3a" stroke-width="0.9" />
<line x1="680.2" y1="256" x2="680.2" y2="270.5" stroke="#3a3a3a" stroke-width="0.9" />
<line x1="696" y1="256" x2="696" y2="270.5" stroke="#3a3a3a" stroke-width="0.9" />
<line x1="664.4" y1="266.7" x2="696" y2="266.7" stroke="#111" stroke-width="2.6" />
<circle cx="665.9" cy="266.7" r="1.8" fill="#111"/>
<circle cx="680.2" cy="266.7" r="1.8" fill="#111"/>
<circle cx="694.5" cy="266.7" r="1.8" fill="#111"/>
<line x1="676.2" y1="279" x2="684.2" y2="279" stroke="#777" stroke-width="0.8" />
<line x1="676.2" y1="281.5" x2="684.2" y2="281.5" stroke="#777" stroke-width="0.8" />
<line x1="680.2" y1="275" x2="680.2" y2="284" stroke="#777" stroke-width="0.8" />
<line x1="318.5" y1="89" x2="318.5" y2="312" stroke="#444" stroke-width="1" stroke-dasharray="9,3,2,3"/>
<line x1="476" y1="233" x2="476" y2="312" stroke="#444" stroke-width="1" stroke-dasharray="9,3,2,3"/>
<line x1="593.6" y1="89" x2="593.6" y2="233" stroke="#444" stroke-width="1" stroke-dasharray="9,3,2,3"/>
<line x1="114" y1="232.8" x2="730" y2="232.8" stroke="#444" stroke-width="1" stroke-dasharray="9,3,2,3"/>
<line x1="730" y1="202" x2="922" y2="202" stroke="#444" stroke-width="1" stroke-dasharray="9,3,2,3"/>
<text x="120" y="231" font-family="Liberation Sans" font-size="13.5" font-weight="normal" font-style="normal" fill="#222" text-anchor="start" stroke="#222" stroke-width="0.4">A - A'</text>
<text x="284" y="302" font-family="Liberation Sans" font-size="13.5" font-weight="normal" font-style="normal" fill="#222" text-anchor="start" stroke="#222" stroke-width="0.4">C - C'</text>
<text x="482" y="302" font-family="Liberation Sans" font-size="13.5" font-weight="normal" font-style="normal" fill="#222" text-anchor="start" stroke="#222" stroke-width="0.4">B - B'</text>
<circle cx="1035" cy="98.3" r="17.5" fill="none" stroke="#333" stroke-width="1.1"/>
<line x1="1022.4" y1="85.7" x2="1047.6" y2="110.89999999999999" stroke="#333" stroke-width="1" />
<line x1="1022.4" y1="110.89999999999999" x2="1047.6" y2="85.7" stroke="#333" stroke-width="1" />
<line x1="1024.15" y1="87.45" x2="1035" y2="98.3" stroke="#111" stroke-width="3" />
<rect x="1079.5" y="96.5" width="699" height="207" stroke="#555" stroke-width="1.1" fill="none" />
<rect x="1082" y="99" width="694" height="202" stroke="#777" stroke-width="0.9" fill="none" />
<line x1="1128" y1="97" x2="1128" y2="134" stroke="#3a3a3a" stroke-width="0.9" />
<line x1="1310" y1="97" x2="1310" y2="141" stroke="#3a3a3a" stroke-width="0.9" />
<line x1="1128" y1="99.5" x2="1310" y2="116" stroke="#3a3a3a" stroke-width="1" />
<line x1="1128" y1="133.5" x2="1310" y2="116" stroke="#3a3a3a" stroke-width="1" />
<line x1="1542" y1="97" x2="1542" y2="141" stroke="#3a3a3a" stroke-width="0.9" />
<line x1="1730" y1="97" x2="1730" y2="134" stroke="#3a3a3a" stroke-width="0.9" />
<line x1="1730" y1="99.5" x2="1542" y2="116" stroke="#3a3a3a" stroke-width="1" />
<line x1="1730" y1="133.5" x2="1542" y2="116" stroke="#3a3a3a" stroke-width="1" />
<rect x="1114.5" y="121.5" width="628.5" height="161" stroke="#555" stroke-width="1" fill="#fff" />
<rect x="1116.5" y="124" width="624.5" height="156" stroke="#999" stroke-width="0.7" fill="none" />
<rect x="1101" y="134.5" width="652.8" height="134.8" stroke="#333" stroke-width="1.4" fill="#fff" />
<path d="M1104.0,134.5V201.8M1107.6,134.5V201.8M1111.2,134.5V201.8M1114.8,134.5V201.8M1118.4,134.5V201.8M1122.0,134.5V201.8M1125.6,134.5V201.8M1129.2,134.5V201.8M1132.8,134.5V201.8M1136.4,134.5V201.8M1140.0,134.5V201.8M1143.6,134.5V201.8M1147.2,134.5V201.8M1150.8,134.5V201.8M1154.4,134.5V201.8M1158.0,134.5V201.8M1161.6,134.5V201.8M1165.2,134.5V201.8M1168.8,134.5V201.8M1172.4,134.5V201.8M1176.0,134.5V201.8M1179.6,134.5V201.8M1183.2,134.5V201.8M1186.8,134.5V201.8M1190.4,134.5V201.8M1194.0,134.5V201.8M1197.6,134.5V201.8M1201.2,134.5V201.8M1204.8,134.5V201.8M1208.4,134.5V201.8M1212.0,134.5V201.8M1215.6,134.5V201.8M1219.2,134.5V201.8M1222.8,134.5V201.8M1226.4,134.5V201.8M1230.0,134.5V201.8M1233.6,134.5V201.8M1237.2,134.5V201.8M1240.8,134.5V201.8M1244.4,134.5V201.8M1248.0,134.5V201.8M1251.6,134.5V201.8M1255.2,134.5V201.8M1258.8,134.5V201.8M1262.4,134.5V201.8M1266.0,134.5V201.8M1269.6,134.5V201.8M1273.2,134.5V201.8M1276.8,134.5V201.8M1280.4,134.5V201.8M1284.0,134.5V201.8M1287.6,134.5V201.8M1291.2,134.5V201.8M1294.8,134.5V201.8M1298.4,134.5V201.8M1302.0,134.5V201.8M1305.6,134.5V201.8M1309.2,134.5V201.8M1312.8,134.5V201.8M1316.4,134.5V201.8M1320.0,134.5V201.8M1323.6,134.5V201.8M1327.2,134.5V201.8M1330.8,134.5V201.8M1334.4,134.5V201.8M1338.0,134.5V201.8M1341.6,134.5V201.8M1345.2,134.5V201.8M1348.8,134.5V201.8M1352.4,134.5V201.8M1356.0,134.5V201.8M1359.6,134.5V201.8M1363.2,134.5V201.8M1366.8,134.5V201.8M1370.4,134.5V201.8M1374.0,134.5V201.8M1377.6,134.5V201.8M1381.2,134.5V201.8M1384.8,134.5V201.8M1388.4,134.5V201.8M1392.0,134.5V201.8M1395.6,134.5V201.8M1399.2,134.5V201.8M1402.8,134.5V201.8M1406.4,134.5V201.8M1410.0,134.5V201.8M1413.6,134.5V201.8M1417.2,134.5V201.8M1420.8,134.5V201.8M1424.4,134.5V201.8M1428.0,134.5V201.8M1431.6,134.5V201.8M1435.2,134.5V201.8M1438.8,134.5V201.8M1442.4,134.5V201.8M1446.0,134.5V201.8M1449.6,134.5V201.8M1453.2,134.5V201.8M1456.8,134.5V201.8M1460.4,134.5V201.8M1464.0,134.5V201.8M1467.6,134.5V201.8M1471.2,134.5V201.8M1474.8,134.5V201.8M1478.4,134.5V201.8M1482.0,134.5V201.8M1485.6,134.5V201.8M1489.2,134.5V201.8M1492.8,134.5V201.8M1496.4,134.5V201.8M1500.0,134.5V201.8M1503.6,134.5V201.8M1507.2,134.5V201.8M1510.8,134.5V201.8M1514.4,134.5V201.8M1518.0,134.5V201.8M1521.6,134.5V201.8M1525.2,134.5V201.8M1528.8,134.5V201.8M1532.4,134.5V201.8M1536.0,134.5V201.8M1539.6,134.5V201.8M1543.2,134.5V201.8M1546.8,134.5V201.8M1550.4,134.5V201.8M1554.0,134.5V201.8M1557.6,134.5V201.8M1561.2,134.5V201.8M1564.8,134.5V201.8M1568.4,134.5V201.8M1572.0,134.5V201.8M1575.6,134.5V201.8M1579.2,134.5V201.8M1582.8,134.5V201.8M1586.4,134.5V201.8M1590.0,134.5V201.8M1593.6,134.5V201.8M1597.2,134.5V201.8M1600.8,134.5V201.8M1604.4,134.5V201.8M1608.0,134.5V201.8M1611.6,134.5V201.8M1615.2,134.5V201.8M1618.8,134.5V201.8M1622.4,134.5V201.8M1626.0,134.5V201.8M1629.6,134.5V201.8M1633.2,134.5V201.8M1636.8,134.5V201.8M1640.4,134.5V201.8M1644.0,134.5V201.8M1647.6,134.5V201.8M1651.2,134.5V201.8M1654.8,134.5V201.8M1658.4,134.5V201.8M1662.0,134.5V201.8M1665.6,134.5V201.8M1669.2,134.5V201.8M1672.8,134.5V201.8M1676.4,134.5V201.8M1680.0,134.5V201.8M1683.6,134.5V201.8M1687.2,134.5V201.8M1690.8,134.5V201.8M1694.4,134.5V201.8M1698.0,134.5V201.8M1701.6,134.5V201.8M1705.2,134.5V201.8M1708.8,134.5V201.8M1712.4,134.5V201.8M1716.0,134.5V201.8M1719.6,134.5V201.8M1723.2,134.5V201.8M1726.8,134.5V201.8M1730.4,134.5V201.8M1734.0,134.5V201.8M1737.6,134.5V201.8M1741.2,134.5V201.8M1744.8,134.5V201.8M1748.4,134.5V201.8M1752.0,134.5V201.8" stroke="#4a4a4a" stroke-width="1.1" fill="none"/>
<path d="M1107.6,201.8V269.3M1114.2,201.8V269.3M1120.8,201.8V269.3M1127.4,201.8V269.3M1134.0,201.8V269.3M1140.6,201.8V269.3M1147.2,201.8V269.3M1153.8,201.8V269.3M1160.4,201.8V269.3M1167.0,201.8V269.3M1173.6,201.8V269.3M1180.2,201.8V269.3M1186.8,201.8V269.3M1193.4,201.8V269.3M1200.0,201.8V269.3M1206.6,201.8V269.3M1213.2,201.8V269.3M1219.8,201.8V269.3M1226.4,201.8V269.3M1233.0,201.8V269.3M1239.6,201.8V269.3M1246.2,201.8V269.3M1252.8,201.8V269.3M1259.4,201.8V269.3M1266.0,201.8V269.3M1272.6,201.8V269.3M1279.2,201.8V269.3M1285.8,201.8V269.3M1292.4,201.8V269.3M1299.0,201.8V269.3M1305.6,201.8V269.3M1312.2,201.8V269.3M1318.8,201.8V269.3M1325.4,201.8V269.3M1332.0,201.8V269.3M1338.6,201.8V269.3M1345.2,201.8V269.3M1351.8,201.8V269.3M1358.4,201.8V269.3M1365.0,201.8V269.3M1371.6,201.8V269.3M1378.2,201.8V269.3M1384.8,201.8V269.3M1391.4,201.8V269.3M1398.0,201.8V269.3M1404.6,201.8V269.3M1411.2,201.8V269.3M1417.8,201.8V269.3M1424.4,201.8V269.3M1431.0,201.8V269.3M1437.6,201.8V269.3M1444.2,201.8V269.3M1450.8,201.8V269.3M1457.4,201.8V269.3M1464.0,201.8V269.3M1470.6,201.8V269.3M1477.2,201.8V269.3M1483.8,201.8V269.3M1490.4,201.8V269.3M1497.0,201.8V269.3M1503.6,201.8V269.3M1510.2,201.8V269.3M1516.8,201.8V269.3M1523.4,201.8V269.3M1530.0,201.8V269.3M1536.6,201.8V269.3M1543.2,201.8V269.3M1549.8,201.8V269.3M1556.4,201.8V269.3M1563.0,201.8V269.3M1569.6,201.8V269.3M1576.2,201.8V269.3M1582.8,201.8V269.3M1589.4,201.8V269.3M1596.0,201.8V269.3M1602.6,201.8V269.3M1609.2,201.8V269.3M1615.8,201.8V269.3M1622.4,201.8V269.3M1629.0,201.8V269.3M1635.6,201.8V269.3M1642.2,201.8V269.3M1648.8,201.8V269.3M1655.4,201.8V269.3M1662.0,201.8V269.3M1668.6,201.8V269.3M1675.2,201.8V269.3M1681.8,201.8V269.3M1688.4,201.8V269.3M1695.0,201.8V269.3M1701.6,201.8V269.3M1708.2,201.8V269.3M1714.8,201.8V269.3M1721.4,201.8V269.3M1728.0,201.8V269.3M1734.6,201.8V269.3M1741.2,201.8V269.3M1747.8,201.8V269.3" stroke="#4a4a4a" stroke-width="1.1" fill="none"/>
<line x1="1101" y1="201.8" x2="1753.8" y2="201.8" stroke="#222" stroke-width="1.6" />
<line x1="1101" y1="134.5" x2="1753.8" y2="134.5" stroke="#222" stroke-width="1.4" />
<line x1="1101" y1="269.3" x2="1753.8" y2="269.3" stroke="#222" stroke-width="1.6" />
<rect x="1165" y="212" width="172" height="45" stroke="#444" stroke-width="1" fill="#fff" />
<line x1="1195" y1="212" x2="1195" y2="257" stroke="#444" stroke-width="0.9" />
<line x1="1204" y1="212" x2="1204" y2="257" stroke="#444" stroke-width="0.9" />
<line x1="1222" y1="212" x2="1222" y2="257" stroke="#444" stroke-width="0.9" />
<line x1="1251" y1="212" x2="1251" y2="257" stroke="#444" stroke-width="0.9" />
<line x1="1280" y1="212" x2="1280" y2="257" stroke="#444" stroke-width="0.9" />
<line x1="1309" y1="212" x2="1309" y2="257" stroke="#444" stroke-width="0.9" />
<rect x="1121.5" y="145.5" width="74.3" height="56.3" stroke="#333" stroke-width="1.1" fill="none" />
<line x1="1205" y1="146" x2="1205" y2="201.8" stroke="#444" stroke-width="2.2" />
<polyline points="1198,134.5 1198,147 1226,147 1226,134.5" stroke="#333" stroke-width="1.1" fill="none" />
<polyline points="1255,134.5 1255,147 1312,147 1312,134.5" stroke="#333" stroke-width="1.1" fill="none" />
<polyline points="1343,134.5 1343,147 1362,147 1362,134.5" stroke="#333" stroke-width="1.1" fill="none" />
<polyline points="1440,134.5 1440,147 1512,147 1512,134.5" stroke="#333" stroke-width="1.1" fill="none" />
<polyline points="1540,134.5 1540,147 1577.8,147 1577.8,134.5" stroke="#333" stroke-width="1.1" fill="none" />
<rect x="1364" y="147" width="83" height="42" stroke="#333" stroke-width="1.1" fill="none" />
<line x1="1401" y1="149" x2="1401" y2="162" stroke="#444" stroke-width="2" />
<line x1="1446" y1="147" x2="1446" y2="189" stroke="#444" stroke-width="2.2" />
<rect x="1577.8" y="145" width="154.7" height="56.8" stroke="#333" stroke-width="1.1" fill="none" />
<line x1="1662" y1="145" x2="1662" y2="201.8" stroke="#444" stroke-width="2.2" />
<line x1="1740" y1="135" x2="1740" y2="269" stroke="#333" stroke-width="1.1" />
<line x1="1116" y1="256" x2="1165" y2="256" stroke="#333" stroke-width="1.1" />
<polyline points="1198,269.3 1198,256 1234,256 1234,269.3" stroke="#333" stroke-width="1.1" fill="none" />
<polyline points="1266,269.3 1266,256 1312,256 1312,269.3" stroke="#333" stroke-width="1.1" fill="none" />
<polyline points="1346,269.3 1346,256 1393,256 1393,269.3" stroke="#333" stroke-width="1.1" fill="none" />
<polyline points="1425,269.3 1425,256 1577.8,256 1577.8,269.3" stroke="#333" stroke-width="1.1" fill="none" />
<polyline points="1577.8,256 1732,256 1732,201.8" stroke="#333" stroke-width="1.1" fill="none" />
<line x1="1662" y1="201.8" x2="1662" y2="221" stroke="#444" stroke-width="2" />
<line x1="1662" y1="241" x2="1662" y2="256" stroke="#444" stroke-width="2" />
<line x1="1250.7" y1="89" x2="1250.7" y2="312" stroke="#444" stroke-width="1" stroke-dasharray="9,3,2,3"/>
<line x1="1408.6" y1="233" x2="1408.6" y2="312" stroke="#444" stroke-width="1" stroke-dasharray="9,3,2,3"/>
<line x1="1526.5" y1="89" x2="1526.5" y2="233" stroke="#444" stroke-width="1" stroke-dasharray="9,3,2,3"/>
<line x1="1022" y1="233.3" x2="1696.8" y2="233.3" stroke="#444" stroke-width="1" stroke-dasharray="9,3,2,3"/>
<line x1="1696.8" y1="201.8" x2="1696.8" y2="233.3" stroke="#444" stroke-width="1" stroke-dasharray="9,3,2,3"/>
<line x1="1696.8" y1="201.8" x2="1855" y2="201.8" stroke="#444" stroke-width="1" stroke-dasharray="9,3,2,3"/>
<text x="1033" y="231" font-family="Liberation Sans" font-size="13.5" font-weight="normal" font-style="normal" fill="#222" text-anchor="start" stroke="#222" stroke-width="0.4">A - A'</text>
<text x="1216" y="302" font-family="Liberation Sans" font-size="13.5" font-weight="normal" font-style="normal" fill="#222" text-anchor="start" stroke="#222" stroke-width="0.4">C - C'</text>
<text x="1414" y="302" font-family="Liberation Sans" font-size="13.5" font-weight="normal" font-style="normal" fill="#222" text-anchor="start" stroke="#222" stroke-width="0.4">B - B'</text>
<line x1="236.8" y1="461.6" x2="798" y2="461.6" stroke="#222" stroke-width="1.2" />
<line x1="236.8" y1="457.5" x2="236.8" y2="473" stroke="#222" stroke-width="1" />
<line x1="235.3" y1="463.1" x2="238.3" y2="460.1" stroke="#111" stroke-width="1.4" />
<line x1="518" y1="457.5" x2="518" y2="473" stroke="#222" stroke-width="1" />
<line x1="516.5" y1="463.1" x2="519.5" y2="460.1" stroke="#111" stroke-width="1.4" />
<line x1="798" y1="457.5" x2="798" y2="473" stroke="#222" stroke-width="1" />
<line x1="796.5" y1="463.1" x2="799.5" y2="460.1" stroke="#111" stroke-width="1.4" />
<line x1="190" y1="472.4" x2="844" y2="472.4" stroke="#333" stroke-width="1.1" />
<line x1="190" y1="494" x2="438" y2="494" stroke="#333" stroke-width="1.1" />
<line x1="190" y1="472.4" x2="190" y2="494" stroke="#333" stroke-width="1.1" />
<path d="M196.5,472.4V494M203.0,472.4V494M209.5,472.4V494M216.0,472.4V494M222.5,472.4V494M229.0,472.4V494M235.5,472.4V494M242.0,472.4V494M248.5,472.4V494" stroke="#333" stroke-width="1" fill="none"/>
<rect x="254.8" y="472.4" width="171.9" height="16.2" stroke="#333" stroke-width="1" fill="none" />
<line x1="283.45" y1="472.4" x2="283.45" y2="488.6" stroke="#333" stroke-width="0.9" />
<line x1="312.1" y1="472.4" x2="312.1" y2="488.6" stroke="#333" stroke-width="0.9" />
<line x1="340.75" y1="472.4" x2="340.75" y2="488.6" stroke="#333" stroke-width="0.9" />
<line x1="369.4" y1="472.4" x2="369.4" y2="488.6" stroke="#333" stroke-width="0.9" />
<line x1="398.05" y1="472.4" x2="398.05" y2="488.6" stroke="#333" stroke-width="0.9" />
<path d="M257.0,488.6V494M263.5,488.6V494M270.0,488.6V494M276.5,488.6V494M283.0,488.6V494M289.5,488.6V494M296.0,488.6V494M302.5,488.6V494M309.0,488.6V494M315.5,488.6V494M322.0,488.6V494M328.5,488.6V494M335.0,488.6V494M341.5,488.6V494M348.0,488.6V494M354.5,488.6V494M361.0,488.6V494M367.5,488.6V494M374.0,488.6V494M380.5,488.6V494M387.0,488.6V494M393.5,488.6V494M400.0,488.6V494M406.5,488.6V494M413.0,488.6V494M419.5,488.6V494M426.0,488.6V494" stroke="#333" stroke-width="1" fill="none"/>
<path d="M428.0,472.4V494M434.5,472.4V494" stroke="#333" stroke-width="1" fill="none"/>
<rect x="190" y="498.5" width="260" height="8.5" stroke="#333" stroke-width="1.1" fill="none" />
<line x1="201.7" y1="507" x2="201.7" y2="583" stroke="#333" stroke-width="1.1" />
<line x1="217.4" y1="507" x2="217.4" y2="583" stroke="#333" stroke-width="1.1" />
<rect x="200.39999999999998" y="583" width="18.30000000000002" height="16.3" stroke="#333" stroke-width="1.1" fill="#fff" />
<line x1="285.4" y1="507" x2="285.4" y2="583" stroke="#333" stroke-width="1.1" />
<line x1="298.9" y1="507" x2="298.9" y2="583" stroke="#333" stroke-width="1.1" />
<rect x="284.09999999999997" y="583" width="16.1" height="16.3" stroke="#333" stroke-width="1.1" fill="#fff" />
<line x1="368.2" y1="507" x2="368.2" y2="583" stroke="#333" stroke-width="1.1" />
<line x1="380.8" y1="507" x2="380.8" y2="583" stroke="#333" stroke-width="1.1" />
<rect x="366.9" y="583" width="15.200000000000022" height="16.3" stroke="#333" stroke-width="1.1" fill="#fff" />
<line x1="200" y1="583" x2="438" y2="583" stroke="#333" stroke-width="1" />
<rect x="307.9" y="525.5" width="16.2945" height="36" fill="#444" />
<rect x="309.4" y="528.0" width="13.2945" height="1.3" fill="#bbb" />
<rect x="309.4" y="531.4" width="13.2945" height="1.3" fill="#bbb" />
<rect x="309.4" y="534.8" width="13.2945" height="1.3" fill="#bbb" />
<rect x="309.4" y="538.1999999999999" width="13.2945" height="1.3" fill="#bbb" />
<rect x="309.4" y="541.5999999999999" width="13.2945" height="1.3" fill="#bbb" />
<rect x="309.4" y="544.9999999999999" width="13.2945" height="1.3" fill="#bbb" />
<rect x="309.4" y="548.3999999999999" width="13.2945" height="1.3" fill="#bbb" />
<rect x="309.4" y="551.7999999999998" width="13.2945" height="1.3" fill="#bbb" />
<rect x="309.4" y="555.1999999999998" width="13.2945" height="1.3" fill="#bbb" />
<rect x="309.4" y="558.5999999999998" width="13.2945" height="1.3" fill="#bbb" />
<rect x="355.5055" y="525.5" width="16.2945" height="36" fill="#444" />
<rect x="357.0055" y="528.0" width="13.2945" height="1.3" fill="#bbb" />
<rect x="357.0055" y="531.4" width="13.2945" height="1.3" fill="#bbb" />
<rect x="357.0055" y="534.8" width="13.2945" height="1.3" fill="#bbb" />
<rect x="357.0055" y="538.1999999999999" width="13.2945" height="1.3" fill="#bbb" />
<rect x="357.0055" y="541.5999999999999" width="13.2945" height="1.3" fill="#bbb" />
<rect x="357.0055" y="544.9999999999999" width="13.2945" height="1.3" fill="#bbb" />
<rect x="357.0055" y="548.3999999999999" width="13.2945" height="1.3" fill="#bbb" />
<rect x="357.0055" y="551.7999999999998" width="13.2945" height="1.3" fill="#bbb" />
<rect x="357.0055" y="555.1999999999998" width="13.2945" height="1.3" fill="#bbb" />
<rect x="357.0055" y="558.5999999999998" width="13.2945" height="1.3" fill="#bbb" />
<rect x="324.19449999999995" y="525.5" width="31.311" height="36" stroke="#222" stroke-width="1.8" fill="#fff" />
<rect x="326.19449999999995" y="527.5" width="27.311" height="32" stroke="#333" stroke-width="0.8" fill="none" />
<line x1="339.84999999999997" y1="527.5" x2="339.84999999999997" y2="559.5" stroke="#222" stroke-width="1.2" />
<line x1="327.19449999999995" y1="528.5" x2="338.84999999999997" y2="558.5" stroke="#333" stroke-width="0.7" />
<line x1="338.84999999999997" y1="528.5" x2="327.19449999999995" y2="558.5" stroke="#333" stroke-width="0.7" />
<line x1="340.84999999999997" y1="528.5" x2="352.5054999999999" y2="558.5" stroke="#333" stroke-width="0.7" />
<line x1="352.5054999999999" y1="528.5" x2="340.84999999999997" y2="558.5" stroke="#333" stroke-width="0.7" />
<rect x="386.2" y="525.5" width="16.2945" height="36" fill="#444" />
<rect x="387.7" y="528.0" width="13.2945" height="1.3" fill="#bbb" />
<rect x="387.7" y="531.4" width="13.2945" height="1.3" fill="#bbb" />
<rect x="387.7" y="534.8" width="13.2945" height="1.3" fill="#bbb" />
<rect x="387.7" y="538.1999999999999" width="13.2945" height="1.3" fill="#bbb" />
<rect x="387.7" y="541.5999999999999" width="13.2945" height="1.3" fill="#bbb" />
<rect x="387.7" y="544.9999999999999" width="13.2945" height="1.3" fill="#bbb" />
<rect x="387.7" y="548.3999999999999" width="13.2945" height="1.3" fill="#bbb" />
<rect x="387.7" y="551.7999999999998" width="13.2945" height="1.3" fill="#bbb" />
<rect x="387.7" y="555.1999999999998" width="13.2945" height="1.3" fill="#bbb" />
<rect x="387.7" y="558.5999999999998" width="13.2945" height="1.3" fill="#bbb" />
<rect x="433.80549999999994" y="525.5" width="16.2945" height="36" fill="#444" />
<rect x="435.30549999999994" y="528.0" width="13.2945" height="1.3" fill="#bbb" />
<rect x="435.30549999999994" y="531.4" width="13.2945" height="1.3" fill="#bbb" />
<rect x="435.30549999999994" y="534.8" width="13.2945" height="1.3" fill="#bbb" />
<rect x="435.30549999999994" y="538.1999999999999" width="13.2945" height="1.3" fill="#bbb" />
<rect x="435.30549999999994" y="541.5999999999999" width="13.2945" height="1.3" fill="#bbb" />
<rect x="435.30549999999994" y="544.9999999999999" width="13.2945" height="1.3" fill="#bbb" />
<rect x="435.30549999999994" y="548.3999999999999" width="13.2945" height="1.3" fill="#bbb" />
<rect x="435.30549999999994" y="551.7999999999998" width="13.2945" height="1.3" fill="#bbb" />
<rect x="435.30549999999994" y="555.1999999999998" width="13.2945" height="1.3" fill="#bbb" />
<rect x="435.30549999999994" y="558.5999999999998" width="13.2945" height="1.3" fill="#bbb" />
<rect x="402.4945" y="525.5" width="31.311" height="36" stroke="#222" stroke-width="1.8" fill="#fff" />
<rect x="404.4945" y="527.5" width="27.311" height="32" stroke="#333" stroke-width="0.8" fill="none" />
<line x1="418.15000000000003" y1="527.5" x2="418.15000000000003" y2="559.5" stroke="#222" stroke-width="1.2" />
<line x1="405.4945" y1="528.5" x2="417.15000000000003" y2="558.5" stroke="#333" stroke-width="0.7" />
<line x1="417.15000000000003" y1="528.5" x2="405.4945" y2="558.5" stroke="#333" stroke-width="0.7" />
<line x1="419.15000000000003" y1="528.5" x2="430.8055" y2="558.5" stroke="#333" stroke-width="0.7" />
<line x1="430.8055" y1="528.5" x2="419.15000000000003" y2="558.5" stroke="#333" stroke-width="0.7" />
<line x1="56.5" y1="599.3" x2="438" y2="599.3" stroke="#333" stroke-width="1.2" />
<polyline points="204,599.3 204,614.2 438,614.2" stroke="#333" stroke-width="1.1" fill="none" />
<path d="M174.2,599.3 L173.7,587.0 L173.1,583.7 L172.0,583.2 L171.5,574.2 L172.8,570.9 L174.9,570.0 L175.0,568.6 L174.3,565.7 L175.1,563.0 L177.0,562.2 L178.8,563.4 L179.0,566.2 L178.3,569.0 L180.3,570.0 L182.2,571.9 L182.8,577.5 L182.4,582.3 L181.5,582.7 L181.1,578.5 L180.5,586.1 L180.0,599.3 L178.1,599.3 L177.3,586.1 L176.4,599.3 Z" stroke="#222" stroke-width="1.1" fill="#fff" />
<path d="M186.5,599.3 L186.2,585.2 L185.0,583.2 L183.2,574.2 L184.5,569.7 L187.5,568.2 L188.0,566.7 L187.2,563.6 L188.0,560.6 L190.2,559.7 L192.2,560.9 L192.4,564.2 L191.6,567.2 L194.6,568.7 L196.6,572.2 L197.1,580.2 L195.9,583.2 L195.1,582.2 L194.5,586.2 L194.1,599.3 L191.8,599.3 L190.6,586.2 L189.2,599.3 Z" stroke="#222" stroke-width="1.1" fill="#fff" />
<line x1="180.5" y1="579.3" x2="183.5" y2="599.3" stroke="#222" stroke-width="0.9" />
<circle cx="136" cy="593" r="3.2" fill="#fff" stroke="#111" stroke-width="1"/>
<path d="M136,593 L139.2,593 A3.2,3.2 0 0 1 136,596.2 Z M136,593 L132.8,593 A3.2,3.2 0 0 1 136,589.8 Z" fill="#111"/>
<line x1="129.8" y1="593" x2="153.2" y2="593" stroke="#333" stroke-width="0.8" />
<line x1="136" y1="586.8" x2="136" y2="599.2" stroke="#333" stroke-width="0.8" />
<text x="141.2" y="591.8" font-family="Liberation Sans" font-size="4.2" font-weight="normal" font-style="normal" fill="#333" text-anchor="start" >+0.00</text>
<line x1="1100" y1="472.3" x2="1753.5" y2="472.3" stroke="#333" stroke-width="1.1" />
<line x1="1524" y1="479.3" x2="1733" y2="479.3" stroke="#333" stroke-width="1.1" />
<line x1="1524" y1="495.3" x2="1733" y2="495.3" stroke="#888" stroke-width="0.9" />
<line x1="1524" y1="498.6" x2="1733" y2="498.6" stroke="#333" stroke-width="1.8" />
<line x1="1524" y1="506.7" x2="1733" y2="506.7" stroke="#333" stroke-width="1.1" />
<line x1="1733" y1="479.3" x2="1733" y2="506.7" stroke="#333" stroke-width="1.1" />
<rect x="1742" y="479.3" width="11.5" height="27.4" stroke="#333" stroke-width="1.1" fill="none" />
<line x1="1753.5" y1="472.3" x2="1753.5" y2="506.7" stroke="#333" stroke-width="1.1" />
<rect x="1567" y="474" width="6.5" height="32.7" stroke="#333" stroke-width="0.9" fill="none" />
<rect x="1649" y="474" width="6.5" height="32.7" stroke="#333" stroke-width="0.9" fill="none" />
<line x1="1542" y1="506.7" x2="1542" y2="588.5" stroke="#333" stroke-width="1.0" />
<line x1="1544.5" y1="506.7" x2="1544.5" y2="588.5" stroke="#333" stroke-width="1.0" />
<line x1="1576.8" y1="506.7" x2="1576.8" y2="588.5" stroke="#333" stroke-width="1.0" />
<line x1="1662.3" y1="506.7" x2="1662.3" y2="588.5" stroke="#333" stroke-width="1.0" />
<line x1="1710" y1="506.7" x2="1710" y2="588.5" stroke="#333" stroke-width="1.0" />
<line x1="1733.2" y1="506.7" x2="1733.2" y2="588.5" stroke="#333" stroke-width="1.0" />
<line x1="1742.5" y1="506.7" x2="1742.5" y2="598.8" stroke="#333" stroke-width="1.0" />
<line x1="1744.5" y1="506.7" x2="1744.5" y2="598.8" stroke="#333" stroke-width="1.0" />
<line x1="1664" y1="540" x2="1664" y2="588" stroke="#333" stroke-width="1.8" />
<rect x="1597.2" y="525.8" width="31.5" height="35.4" stroke="#222" stroke-width="2.2" fill="none" />
<rect x="1599.5" y="528" width="12.5" height="31" stroke="#333" stroke-width="0.8" fill="none" />
<rect x="1613.5" y="528" width="13" height="31" stroke="#333" stroke-width="0.8" fill="none" />
<rect x="1684.5" y="540.2" width="21.5" height="47.8" stroke="#222" stroke-width="1.3" fill="none" />
<rect x="1710.5" y="540.2" width="20" height="47.8" stroke="#222" stroke-width="1.3" fill="none" />
<line x1="1711.5" y1="540" x2="1711.5" y2="588" stroke="#333" stroke-width="1.8" />
<line x1="1738" y1="526" x2="1738" y2="561" stroke="#111" stroke-width="2.5" />
<line x1="1733" y1="525.5" x2="1741" y2="525.5" stroke="#333" stroke-width="0.8" />
<line x1="1733" y1="561.5" x2="1741" y2="561.5" stroke="#333" stroke-width="0.8" />
<line x1="1524" y1="588.5" x2="1733" y2="588.5" stroke="#333" stroke-width="1.1" />
<line x1="1524" y1="595.2" x2="1733" y2="595.2" stroke="#333" stroke-width="1.1" />
<polyline points="1524,614 1740,614 1740,598.8 1910,598.8" stroke="#333" stroke-width="1.1" fill="none" />
<path d="M1635.2,588.5 L1634.7,576.2 L1634.1,572.9 L1633.0,572.4 L1632.5,563.4 L1633.8,560.1 L1635.9,559.2 L1636.0,557.8 L1635.3,554.9 L1636.1,552.2 L1638.0,551.4 L1639.8,552.6 L1640.0,555.4 L1639.3,558.2 L1641.3,559.2 L1643.2,561.1 L1643.8,566.7 L1643.4,571.5 L1642.5,571.9 L1642.1,567.7 L1641.5,575.3 L1641.0,588.5 L1639.1,588.5 L1638.3,575.3 L1637.4,588.5 Z" stroke="#222" stroke-width="1.1" fill="#fff" />
<path d="M1647.5,588.5 L1647.2,574.4 L1646.0,572.4 L1644.2,563.4 L1645.5,558.9 L1648.5,557.4 L1649.0,555.9 L1648.2,552.8 L1649.0,549.8 L1651.2,548.9 L1653.2,550.1 L1653.4,553.4 L1652.6,556.4 L1655.6,557.9 L1657.6,561.4 L1658.1,569.4 L1656.9,572.4 L1656.1,571.4 L1655.5,575.4 L1655.1,588.5 L1652.8,588.5 L1651.6,575.4 L1650.2,588.5 Z" stroke="#222" stroke-width="1.1" fill="#fff" />
<line x1="1641.5" y1="568.5" x2="1644.5" y2="588.5" stroke="#222" stroke-width="0.9" />
<circle cx="1612" cy="582" r="3.2" fill="#fff" stroke="#111" stroke-width="1"/>
<path d="M1612,582 L1615.2,582 A3.2,3.2 0 0 1 1612,585.2 Z M1612,582 L1608.8,582 A3.2,3.2 0 0 1 1612,578.8 Z" fill="#111"/>
<line x1="1605.8" y1="582" x2="1629.2" y2="582" stroke="#333" stroke-width="0.8" />
<line x1="1612" y1="575.8" x2="1612" y2="588.2" stroke="#333" stroke-width="0.8" />
<text x="1617.2" y="580.8" font-family="Liberation Sans" font-size="4.2" font-weight="normal" font-style="normal" fill="#333" text-anchor="start" >+0.45</text>
<line x1="236" y1="792.6" x2="840" y2="792.6" stroke="#222" stroke-width="1.2" />
<line x1="236" y1="789" x2="236" y2="804" stroke="#222" stroke-width="1" />
<line x1="234.5" y1="794.1" x2="237.5" y2="791.1" stroke="#111" stroke-width="1.4" />
<rect x="190" y="803.6" width="650" height="21.4" stroke="#333" stroke-width="1.1" fill="none" />
<path d="M194.8,803.6V825M199.6,803.6V825M204.4,803.6V825M209.2,803.6V825M214.0,803.6V825M218.8,803.6V825M223.6,803.6V825M228.4,803.6V825M233.2,803.6V825M238.0,803.6V825M242.8,803.6V825M247.6,803.6V825M252.4,803.6V825M257.2,803.6V825M262.0,803.6V825M266.8,803.6V825M271.6,803.6V825M276.4,803.6V825M281.2,803.6V825M286.0,803.6V825M290.8,803.6V825M295.6,803.6V825M300.4,803.6V825M305.2,803.6V825M310.0,803.6V825M314.8,803.6V825M319.6,803.6V825M324.4,803.6V825M329.2,803.6V825M334.0,803.6V825M338.8,803.6V825M343.6,803.6V825M348.4,803.6V825M353.2,803.6V825M358.0,803.6V825M362.8,803.6V825M367.6,803.6V825M372.4,803.6V825M377.2,803.6V825M382.0,803.6V825M386.8,803.6V825M391.6,803.6V825M396.4,803.6V825M401.2,803.6V825M406.0,803.6V825M410.8,803.6V825M415.6,803.6V825M420.4,803.6V825M425.2,803.6V825M430.0,803.6V825M434.8,803.6V825M439.6,803.6V825M444.4,803.6V825M449.2,803.6V825M454.0,803.6V825M458.8,803.6V825M463.6,803.6V825M468.4,803.6V825M473.2,803.6V825M478.0,803.6V825M482.8,803.6V825M487.6,803.6V825M492.4,803.6V825M497.2,803.6V825M502.0,803.6V825M506.8,803.6V825M511.6,803.6V825M516.4,803.6V825M521.2,803.6V825M526.0,803.6V825M530.8,803.6V825M535.6,803.6V825M540.4,803.6V825M545.2,803.6V825M550.0,803.6V825M554.8,803.6V825M559.6,803.6V825M564.4,803.6V825M569.2,803.6V825M574.0,803.6V825M578.8,803.6V825M583.6,803.6V825M588.4,803.6V825M593.2,803.6V825M598.0,803.6V825M602.8,803.6V825M607.6,803.6V825M612.4,803.6V825M617.2,803.6V825M622.0,803.6V825M626.8,803.6V825M631.6,803.6V825M636.4,803.6V825M641.2,803.6V825M646.0,803.6V825M650.8,803.6V825M655.6,803.6V825M660.4,803.6V825M665.2,803.6V825M670.0,803.6V825M674.8,803.6V825M679.6,803.6V825M684.4,803.6V825M689.2,803.6V825M694.0,803.6V825M698.8,803.6V825M703.6,803.6V825M708.4,803.6V825M713.2,803.6V825M718.0,803.6V825M722.8,803.6V825M727.6,803.6V825M732.4,803.6V825M737.2,803.6V825M742.0,803.6V825M746.8,803.6V825M751.6,803.6V825M756.4,803.6V825M761.2,803.6V825M766.0,803.6V825M770.8,803.6V825M775.6,803.6V825M780.4,803.6V825M785.2,803.6V825M790.0,803.6V825M794.8,803.6V825M799.6,803.6V825M804.4,803.6V825M809.2,803.6V825M814.0,803.6V825M818.8,803.6V825M823.6,803.6V825M828.4,803.6V825M833.2,803.6V825M838.0,803.6V825" stroke="#333" stroke-width="1" fill="none"/>
<rect x="190" y="829.4" width="650" height="8.6" stroke="#333" stroke-width="1.1" fill="none" />
<line x1="199.4" y1="838" x2="199.4" y2="913.6" stroke="#333" stroke-width="1.1" />
<line x1="214" y1="838" x2="214" y2="913.6" stroke="#333" stroke-width="1.1" />
<rect x="198.1" y="913.6" width="17.199999999999996" height="16.5" stroke="#333" stroke-width="1.1" fill="none" />
<line x1="285" y1="838" x2="285" y2="913.6" stroke="#333" stroke-width="1.1" />
<line x1="298.6" y1="838" x2="298.6" y2="913.6" stroke="#333" stroke-width="1.1" />
<rect x="283.7" y="913.6" width="16.200000000000024" height="16.5" stroke="#333" stroke-width="1.1" fill="none" />
<line x1="367.4" y1="838" x2="367.4" y2="913.6" stroke="#333" stroke-width="1.1" />
<line x1="380.6" y1="838" x2="380.6" y2="913.6" stroke="#333" stroke-width="1.1" />
<rect x="366.09999999999997" y="913.6" width="15.800000000000045" height="16.5" stroke="#333" stroke-width="1.1" fill="none" />
<line x1="199.4" y1="913.6" x2="831" y2="913.6" stroke="#333" stroke-width="1.1" />
<rect x="300" y="857" width="16.218" height="35" fill="#444" />
<rect x="301.5" y="859.5" width="13.218" height="1.3" fill="#bbb" />
<rect x="301.5" y="862.9" width="13.218" height="1.3" fill="#bbb" />
<rect x="301.5" y="866.3" width="13.218" height="1.3" fill="#bbb" />
<rect x="301.5" y="869.6999999999999" width="13.218" height="1.3" fill="#bbb" />
<rect x="301.5" y="873.0999999999999" width="13.218" height="1.3" fill="#bbb" />
<rect x="301.5" y="876.4999999999999" width="13.218" height="1.3" fill="#bbb" />
<rect x="301.5" y="879.8999999999999" width="13.218" height="1.3" fill="#bbb" />
<rect x="301.5" y="883.2999999999998" width="13.218" height="1.3" fill="#bbb" />
<rect x="301.5" y="886.6999999999998" width="13.218" height="1.3" fill="#bbb" />
<rect x="347.382" y="857" width="16.218" height="35" fill="#444" />
<rect x="348.882" y="859.5" width="13.218" height="1.3" fill="#bbb" />
<rect x="348.882" y="862.9" width="13.218" height="1.3" fill="#bbb" />
<rect x="348.882" y="866.3" width="13.218" height="1.3" fill="#bbb" />
<rect x="348.882" y="869.6999999999999" width="13.218" height="1.3" fill="#bbb" />
<rect x="348.882" y="873.0999999999999" width="13.218" height="1.3" fill="#bbb" />
<rect x="348.882" y="876.4999999999999" width="13.218" height="1.3" fill="#bbb" />
<rect x="348.882" y="879.8999999999999" width="13.218" height="1.3" fill="#bbb" />
<rect x="348.882" y="883.2999999999998" width="13.218" height="1.3" fill="#bbb" />
<rect x="348.882" y="886.6999999999998" width="13.218" height="1.3" fill="#bbb" />
<rect x="316.218" y="857" width="31.164" height="35" stroke="#222" stroke-width="1.8" fill="#fff" />
<rect x="318.218" y="859" width="27.164" height="31" stroke="#333" stroke-width="0.8" fill="none" />
<line x1="331.8" y1="859" x2="331.8" y2="890" stroke="#222" stroke-width="1.2" />
<line x1="319.218" y1="860" x2="330.8" y2="889" stroke="#333" stroke-width="0.7" />
<line x1="330.8" y1="860" x2="319.218" y2="889" stroke="#333" stroke-width="0.7" />
<line x1="332.8" y1="860" x2="344.382" y2="889" stroke="#333" stroke-width="0.7" />
<line x1="344.382" y1="860" x2="332.8" y2="889" stroke="#333" stroke-width="0.7" />
<rect x="402" y="857" width="31.6" height="63" stroke="#222" stroke-width="1.8" fill="#fff" />
<path d="M403.0,860.6H432.6M403.0,864.2H432.6M403.0,867.8H432.6M403.0,871.4H432.6M403.0,875.0H432.6M403.0,878.6H432.6M403.0,882.2H432.6M403.0,885.8H432.6M403.0,889.4H432.6M403.0,893.0H432.6M403.0,896.6H432.6M403.0,900.2H432.6M403.0,903.8H432.6M403.0,907.4H432.6M403.0,911.0H432.6M403.0,914.6H432.6M403.0,918.2H432.6" stroke="#333" stroke-width="1" fill="none"/>
<line x1="214" y1="907.6" x2="402" y2="897" stroke="#333" stroke-width="1" />
<line x1="214" y1="930" x2="402" y2="920" stroke="#333" stroke-width="1" />
<line x1="433.6" y1="896.5" x2="633" y2="896.5" stroke="#333" stroke-width="1.1" />
<line x1="633" y1="896.5" x2="815.5" y2="907.6" stroke="#333" stroke-width="1.1" />
<line x1="633" y1="920" x2="815.5" y2="930" stroke="#333" stroke-width="1.1" />
<line x1="420" y1="920" x2="633" y2="920" stroke="#333" stroke-width="1.1" />
<line x1="456.5" y1="896.5" x2="456.5" y2="920" stroke="#333" stroke-width="1.0" />
<line x1="470" y1="896.5" x2="470" y2="920" stroke="#333" stroke-width="1.0" />
<line x1="564" y1="896.5" x2="564" y2="920" stroke="#333" stroke-width="1.0" />
<line x1="577" y1="896.5" x2="577" y2="920" stroke="#333" stroke-width="1.0" />
<line x1="652" y1="896.5" x2="652" y2="920" stroke="#333" stroke-width="1.0" />
<line x1="666" y1="896.5" x2="666" y2="920" stroke="#333" stroke-width="1.0" />
<line x1="734.6" y1="896.5" x2="734.6" y2="920" stroke="#333" stroke-width="1.0" />
<line x1="748" y1="896.5" x2="748" y2="920" stroke="#333" stroke-width="1.0" />
<line x1="815.5" y1="896.5" x2="815.5" y2="930" stroke="#333" stroke-width="1.0" />
<line x1="831" y1="896.5" x2="831" y2="930" stroke="#333" stroke-width="1.0" />
<rect x="601.5" y="896.5" width="31.5" height="23.5" stroke="#222" stroke-width="1.8" fill="#fff" />
<path d="M602.5,900.1H632.0M602.5,903.7H632.0M602.5,907.3H632.0M602.5,910.9H632.0M602.5,914.5H632.0M602.5,918.1H632.0" stroke="#333" stroke-width="1" fill="none"/>
<line x1="56.5" y1="930.1" x2="977.5" y2="930.1" stroke="#333" stroke-width="1.2" />
<polyline points="203.6,930 203.6,944.4 829.4,944.4 829.4,937" stroke="#333" stroke-width="1.1" fill="none" />
<path d="M173.3,930.1 L172.8,917.5 L172.2,914.1 L171.1,913.6 L170.5,904.4 L171.9,901.0 L174.0,900.0 L174.1,898.6 L173.4,895.7 L174.2,892.9 L176.2,892.1 L178.1,893.2 L178.3,896.1 L177.5,899.1 L179.6,900.0 L181.6,902.0 L182.2,907.8 L181.8,912.6 L180.8,913.1 L180.4,908.8 L179.8,916.5 L179.3,930.1 L177.3,930.1 L176.5,916.5 L175.6,930.1 Z" stroke="#222" stroke-width="1.1" fill="#fff" />
<path d="M186.0,930.1 L185.7,915.7 L184.4,913.6 L182.6,904.4 L183.9,899.7 L187.0,898.2 L187.5,896.6 L186.7,893.5 L187.5,890.4 L189.8,889.5 L191.8,890.8 L192.0,894.1 L191.2,897.1 L194.2,898.7 L196.3,902.3 L196.8,910.5 L195.5,913.6 L194.7,912.6 L194.1,916.7 L193.7,930.1 L191.4,930.1 L190.2,916.7 L188.7,930.1 Z" stroke="#222" stroke-width="1.1" fill="#fff" />
<line x1="179.7948717948718" y1="909.5871794871795" x2="182.87179487179486" y2="930.1" stroke="#222" stroke-width="0.9" />
<path d="M854.7,930.1 L854.2,919.1 L853.6,916.1 L852.7,915.7 L852.2,907.6 L853.4,904.6 L855.3,903.8 L855.3,902.5 L854.8,900.0 L855.4,897.5 L857.2,896.8 L858.8,897.8 L859.0,900.4 L858.3,902.9 L860.2,903.8 L861.9,905.5 L862.4,910.6 L862.1,914.8 L861.2,915.2 L860.9,911.4 L860.4,918.2 L859.8,930.1 L858.1,930.1 L857.5,918.2 L856.6,930.1 Z" stroke="#222" stroke-width="1.1" fill="#fff" />
<path d="M865.7,930.1 L865.5,917.5 L864.4,915.7 L862.7,907.6 L863.9,903.5 L866.6,902.2 L867.1,900.8 L866.4,898.1 L867.1,895.4 L869.1,894.6 L870.9,895.7 L871.0,898.6 L870.3,901.3 L872.9,902.6 L874.7,905.8 L875.2,913.0 L874.1,915.7 L873.4,914.8 L872.8,918.4 L872.5,930.1 L870.5,930.1 L869.4,918.4 L868.2,930.1 Z" stroke="#222" stroke-width="1.1" fill="#fff" />
<line x1="860.3205128205128" y1="912.1512820512821" x2="863.0128205128206" y2="930.1" stroke="#222" stroke-width="0.9" />
<path d="M424.4,920.0 L423.9,907.3 L423.2,903.9 L422.1,903.4 L421.5,894.2 L422.9,890.8 L425.0,889.8 L425.1,888.3 L424.5,885.4 L425.2,882.6 L427.3,881.8 L429.1,883.0 L429.3,885.9 L428.6,888.8 L430.7,889.8 L432.6,891.7 L433.2,897.6 L432.8,902.5 L431.9,902.9 L431.5,898.5 L430.9,906.4 L430.3,920.0 L428.4,920.0 L427.6,906.4 L426.6,920.0 Z" stroke="#222" stroke-width="1.1" fill="#fff" />
<path d="M436,920 L437,905 Q436,897 439,893 M440,920 Q443,905 446,898" stroke="#333" stroke-width="1" fill="none" />
<circle cx="136" cy="923" r="3.2" fill="#fff" stroke="#111" stroke-width="1"/>
<path d="M136,923 L139.2,923 A3.2,3.2 0 0 1 136,926.2 Z M136,923 L132.8,923 A3.2,3.2 0 0 1 136,919.8 Z" fill="#111"/>
<line x1="129.8" y1="923" x2="153.2" y2="923" stroke="#333" stroke-width="0.8" />
<line x1="136" y1="916.8" x2="136" y2="929.2" stroke="#333" stroke-width="0.8" />
<text x="141.2" y="921.8" font-family="Liberation Sans" font-size="4.2" font-weight="normal" font-style="normal" fill="#333" text-anchor="start" >+0.00</text>
<circle cx="517" cy="913" r="3.2" fill="#fff" stroke="#111" stroke-width="1"/>
<path d="M517,913 L520.2,913 A3.2,3.2 0 0 1 517,916.2 Z M517,913 L513.8,913 A3.2,3.2 0 0 1 517,909.8 Z" fill="#111"/>
<line x1="510.79999999999995" y1="913" x2="534.2" y2="913" stroke="#333" stroke-width="0.8" />
<line x1="517" y1="906.8" x2="517" y2="919.2" stroke="#333" stroke-width="0.8" />
<text x="522.2" y="911.8" font-family="Liberation Sans" font-size="4.2" font-weight="normal" font-style="normal" fill="#333" text-anchor="start" >+0.45</text>
<line x1="989" y1="930" x2="1117" y2="930" stroke="#333" stroke-width="1.2" />
<line x1="1117.5" y1="896" x2="1117.5" y2="930" stroke="#333" stroke-width="2.2" />
<line x1="1120" y1="918.8" x2="1275.5" y2="918.8" stroke="#333" stroke-width="1.1" />
<line x1="1290.8" y1="896" x2="1290.8" y2="930" stroke="#222" stroke-width="2.6" />
<line x1="1292" y1="930" x2="1455" y2="930" stroke="#333" stroke-width="1.2" />
<polyline points="1155.7,930 1155.7,941.1 1288.5,941.1 1288.5,930" stroke="#333" stroke-width="1.1" fill="none" />
<line x1="1167" y1="926" x2="1275" y2="926" stroke="#999" stroke-width="1.6" />
<line x1="1153" y1="896" x2="1153" y2="919" stroke="#333" stroke-width="1.0" />
<line x1="1167.5" y1="896" x2="1167.5" y2="919" stroke="#333" stroke-width="1.0" />
<line x1="1187" y1="896" x2="1187" y2="919" stroke="#333" stroke-width="1.0" />
<line x1="1197" y1="896" x2="1197" y2="919" stroke="#333" stroke-width="1.0" />
<line x1="1275" y1="896" x2="1275" y2="919" stroke="#333" stroke-width="1.0" />
<line x1="1163" y1="896" x2="1163" y2="919" stroke="#111" stroke-width="2.2" />
<line x1="1148" y1="896" x2="1148" y2="919" stroke="#555" stroke-width="1.6" />
<path d="M1128.3,919.0 L1127.8,906.4 L1127.2,903.0 L1126.1,902.5 L1125.5,893.3 L1126.9,889.9 L1129.0,888.9 L1129.1,887.5 L1128.4,884.6 L1129.2,881.8 L1131.2,881.0 L1133.1,882.1 L1133.3,885.0 L1132.5,888.0 L1134.6,888.9 L1136.6,890.9 L1137.2,896.7 L1136.8,901.5 L1135.8,902.0 L1135.4,897.7 L1134.8,905.4 L1134.3,919.0 L1132.3,919.0 L1131.5,905.4 L1130.6,919.0 Z" stroke="#222" stroke-width="1.1" fill="#fff" />
<path d="M1141.0,919.0 L1140.7,904.6 L1139.4,902.5 L1137.6,893.2 L1138.9,888.6 L1142.0,887.1 L1142.5,885.5 L1141.7,882.4 L1142.5,879.3 L1144.8,878.4 L1146.8,879.7 L1147.0,883.0 L1146.2,886.0 L1149.2,887.6 L1151.3,891.2 L1151.8,899.4 L1150.5,902.5 L1149.7,901.5 L1149.1,905.6 L1148.7,919.0 L1146.4,919.0 L1145.2,905.6 L1143.7,919.0 Z" stroke="#222" stroke-width="1.1" fill="#fff" />
<line x1="1134.7948717948718" y1="898.4871794871794" x2="1137.871794871795" y2="919" stroke="#222" stroke-width="0.9" />
<path d="M1240.3,919.0 L1239.8,906.4 L1239.2,903.0 L1238.1,902.5 L1237.5,893.3 L1238.9,889.9 L1241.0,888.9 L1241.1,887.5 L1240.4,884.6 L1241.2,881.8 L1243.2,881.0 L1245.1,882.1 L1245.3,885.0 L1244.5,888.0 L1246.6,888.9 L1248.6,890.9 L1249.2,896.7 L1248.8,901.5 L1247.8,902.0 L1247.4,897.7 L1246.8,905.4 L1246.3,919.0 L1244.3,919.0 L1243.5,905.4 L1242.6,919.0 Z" stroke="#222" stroke-width="1.1" fill="#fff" />
<path d="M1253.0,919.0 L1252.7,904.6 L1251.4,902.5 L1249.6,893.2 L1250.9,888.6 L1254.0,887.1 L1254.5,885.5 L1253.7,882.4 L1254.5,879.3 L1256.8,878.4 L1258.8,879.7 L1259.0,883.0 L1258.2,886.0 L1261.2,887.6 L1263.3,891.2 L1263.8,899.4 L1262.5,902.5 L1261.7,901.5 L1261.1,905.6 L1260.7,919.0 L1258.4,919.0 L1257.2,905.6 L1255.7,919.0 Z" stroke="#222" stroke-width="1.1" fill="#fff" />
<line x1="1246.7948717948718" y1="898.4871794871794" x2="1249.871794871795" y2="919" stroke="#222" stroke-width="0.9" />
<circle cx="1053" cy="924" r="3.2" fill="#fff" stroke="#111" stroke-width="1"/>
<path d="M1053,924 L1056.2,924 A3.2,3.2 0 0 1 1053,927.2 Z M1053,924 L1049.8,924 A3.2,3.2 0 0 1 1053,920.8 Z" fill="#111"/>
<line x1="1046.8" y1="924" x2="1070.2" y2="924" stroke="#333" stroke-width="0.8" />
<line x1="1053" y1="917.8" x2="1053" y2="930.2" stroke="#333" stroke-width="0.8" />
<text x="1058.2" y="922.8" font-family="Liberation Sans" font-size="4.2" font-weight="normal" font-style="normal" fill="#333" text-anchor="start" >+0.00</text>
<circle cx="1127" cy="913" r="3.2" fill="#fff" stroke="#111" stroke-width="1"/>
<path d="M1127,913 L1130.2,913 A3.2,3.2 0 0 1 1127,916.2 Z M1127,913 L1123.8,913 A3.2,3.2 0 0 1 1127,909.8 Z" fill="#111"/>
<line x1="1120.8" y1="913" x2="1144.2" y2="913" stroke="#333" stroke-width="0.8" />
<line x1="1127" y1="906.8" x2="1127" y2="919.2" stroke="#333" stroke-width="0.8" />
<text x="1132.2" y="911.8" font-family="Liberation Sans" font-size="4.2" font-weight="normal" font-style="normal" fill="#333" text-anchor="start" >+0.45</text>
<circle cx="1212" cy="913" r="3.2" fill="#fff" stroke="#111" stroke-width="1"/>
<path d="M1212,913 L1215.2,913 A3.2,3.2 0 0 1 1212,916.2 Z M1212,913 L1208.8,913 A3.2,3.2 0 0 1 1212,909.8 Z" fill="#111"/>
<line x1="1205.8" y1="913" x2="1229.2" y2="913" stroke="#333" stroke-width="0.8" />
<line x1="1212" y1="906.8" x2="1212" y2="919.2" stroke="#333" stroke-width="0.8" />
<text x="1217.2" y="911.8" font-family="Liberation Sans" font-size="4.2" font-weight="normal" font-style="normal" fill="#333" text-anchor="start" >+0.45</text>
<polyline points="215.0,1157.9 283.2,1135.6 351.7,1157.9" stroke="#222" stroke-width="1.2" fill="none" />
<polyline points="217.0,1161.5 283.2,1141.4 349.79999999999995,1161.5" stroke="#222" stroke-width="1.2" fill="none" />
<line x1="215.0" y1="1157.9" x2="217.0" y2="1161.5" stroke="#333" stroke-width="1" />
<line x1="351.7" y1="1157.9" x2="349.79999999999995" y2="1161.5" stroke="#333" stroke-width="1" />
<rect x="203.5" y="1160.3" width="13.7" height="8.3" stroke="#333" stroke-width="1.1" fill="none" />
<rect x="349.59999999999997" y="1160.3" width="14.4" height="8.3" stroke="#333" stroke-width="1.1" fill="none" />
<path d="M206.3,1162 Q208.3,1167 213.3,1166" stroke="#333" stroke-width="0.8" fill="none" />
<path d="M360.4,1162 Q358.4,1167 353.4,1166" stroke="#333" stroke-width="0.8" fill="none" />
<line x1="283.2" y1="1123" x2="283.2" y2="1135" stroke="#111" stroke-width="1.6" />
<rect x="281.7" y="1127" width="3" height="4" fill="#111" />
<line x1="229.0" y1="1149.6" x2="275.2" y2="1134.4" stroke="#222" stroke-width="4.2" />
<line x1="229.0" y1="1149.6" x2="275.2" y2="1134.4" stroke="#bbb" stroke-width="1.6" />
<line x1="56.5" y1="1261" x2="511" y2="1261" stroke="#333" stroke-width="1.2" />
<rect x="212.6" y="1244.5" width="140.3" height="16.5" stroke="#333" stroke-width="1.1" fill="#fff" />
<rect x="217.2" y="1257.4" width="132.7" height="15.1" stroke="#333" stroke-width="1.1" fill="none" />
<line x1="217.2" y1="1258.8" x2="349.9" y2="1258.8" stroke="#888" stroke-width="0.8" />
<line x1="214.3" y1="1161" x2="214.3" y2="1244.5" stroke="#333" stroke-width="1.0" />
<line x1="217.6" y1="1161" x2="217.6" y2="1244.5" stroke="#333" stroke-width="0.8" />
<line x1="230.4" y1="1161" x2="230.4" y2="1244.5" stroke="#333" stroke-width="1.0" />
<line x1="338.8" y1="1161" x2="338.8" y2="1244.5" stroke="#333" stroke-width="1.0" />
<line x1="350.4" y1="1161" x2="350.4" y2="1244.5" stroke="#333" stroke-width="0.8" />
<line x1="352.9" y1="1161" x2="352.9" y2="1244.5" stroke="#333" stroke-width="1.0" />
<rect x="250.9" y="1188" width="16.3965" height="35.5" fill="#444" />
<rect x="252.4" y="1190.5" width="13.3965" height="1.3" fill="#bbb" />
<rect x="252.4" y="1193.9" width="13.3965" height="1.3" fill="#bbb" />
<rect x="252.4" y="1197.3000000000002" width="13.3965" height="1.3" fill="#bbb" />
<rect x="252.4" y="1200.7000000000003" width="13.3965" height="1.3" fill="#bbb" />
<rect x="252.4" y="1204.1000000000004" width="13.3965" height="1.3" fill="#bbb" />
<rect x="252.4" y="1207.5000000000005" width="13.3965" height="1.3" fill="#bbb" />
<rect x="252.4" y="1210.9000000000005" width="13.3965" height="1.3" fill="#bbb" />
<rect x="252.4" y="1214.3000000000006" width="13.3965" height="1.3" fill="#bbb" />
<rect x="252.4" y="1217.7000000000007" width="13.3965" height="1.3" fill="#bbb" />
<rect x="252.4" y="1221.1000000000008" width="13.3965" height="1.3" fill="#bbb" />
<rect x="298.8035" y="1188" width="16.3965" height="35.5" fill="#444" />
<rect x="300.3035" y="1190.5" width="13.3965" height="1.3" fill="#bbb" />
<rect x="300.3035" y="1193.9" width="13.3965" height="1.3" fill="#bbb" />
<rect x="300.3035" y="1197.3000000000002" width="13.3965" height="1.3" fill="#bbb" />
<rect x="300.3035" y="1200.7000000000003" width="13.3965" height="1.3" fill="#bbb" />
<rect x="300.3035" y="1204.1000000000004" width="13.3965" height="1.3" fill="#bbb" />
<rect x="300.3035" y="1207.5000000000005" width="13.3965" height="1.3" fill="#bbb" />
<rect x="300.3035" y="1210.9000000000005" width="13.3965" height="1.3" fill="#bbb" />
<rect x="300.3035" y="1214.3000000000006" width="13.3965" height="1.3" fill="#bbb" />
<rect x="300.3035" y="1217.7000000000007" width="13.3965" height="1.3" fill="#bbb" />
<rect x="300.3035" y="1221.1000000000008" width="13.3965" height="1.3" fill="#bbb" />
<rect x="267.2965" y="1188" width="31.506999999999998" height="35.5" stroke="#222" stroke-width="1.8" fill="#fff" />
<rect x="269.2965" y="1190" width="27.506999999999998" height="31.5" stroke="#333" stroke-width="0.8" fill="none" />
<line x1="283.04999999999995" y1="1190" x2="283.04999999999995" y2="1221.5" stroke="#222" stroke-width="1.2" />
<line x1="270.2965" y1="1191" x2="282.04999999999995" y2="1220.5" stroke="#333" stroke-width="0.7" />
<line x1="282.04999999999995" y1="1191" x2="270.2965" y2="1220.5" stroke="#333" stroke-width="0.7" />
<line x1="284.04999999999995" y1="1191" x2="295.8035" y2="1220.5" stroke="#333" stroke-width="0.7" />
<line x1="295.8035" y1="1191" x2="284.04999999999995" y2="1220.5" stroke="#333" stroke-width="0.7" />
<path d="M184.2,1261.0 L183.7,1248.7 L183.1,1245.4 L182.0,1244.9 L181.5,1235.9 L182.8,1232.6 L184.9,1231.7 L185.0,1230.3 L184.3,1227.4 L185.1,1224.7 L187.0,1223.9 L188.8,1225.1 L189.0,1227.9 L188.3,1230.7 L190.3,1231.7 L192.2,1233.6 L192.8,1239.2 L192.4,1244.0 L191.5,1244.4 L191.1,1240.2 L190.5,1247.8 L190.0,1261.0 L188.1,1261.0 L187.3,1247.8 L186.4,1261.0 Z" stroke="#222" stroke-width="1.1" fill="#fff" />
<path d="M196.5,1261.0 L196.2,1246.9 L195.0,1244.9 L193.2,1235.9 L194.5,1231.4 L197.5,1229.9 L198.0,1228.4 L197.2,1225.3 L198.0,1222.3 L200.2,1221.4 L202.2,1222.6 L202.4,1225.9 L201.6,1228.9 L204.6,1230.4 L206.6,1233.9 L207.1,1241.9 L205.9,1244.9 L205.1,1243.9 L204.5,1247.9 L204.1,1261.0 L201.8,1261.0 L200.6,1247.9 L199.2,1261.0 Z" stroke="#222" stroke-width="1.1" fill="#fff" />
<line x1="190.5" y1="1241.0" x2="193.5" y2="1261" stroke="#222" stroke-width="0.9" />
<path d="M362.3,1251.0 L361.9,1238.4 L361.2,1235.0 L360.1,1234.5 L359.5,1225.3 L360.9,1221.9 L363.0,1220.9 L363.1,1219.5 L362.4,1216.6 L363.2,1213.8 L365.2,1213.0 L367.1,1214.1 L367.3,1217.0 L366.5,1220.0 L368.6,1220.9 L370.6,1222.9 L371.2,1228.7 L370.8,1233.5 L369.8,1234.0 L369.4,1229.7 L368.8,1237.4 L368.3,1251.0 L366.3,1251.0 L365.5,1237.4 L364.6,1251.0 Z" stroke="#222" stroke-width="1.1" fill="#fff" />
<path d="M375.0,1251.0 L374.7,1236.6 L373.4,1234.5 L371.6,1225.2 L372.9,1220.6 L376.0,1219.1 L376.5,1217.5 L375.7,1214.4 L376.5,1211.3 L378.8,1210.4 L380.8,1211.7 L381.0,1215.0 L380.2,1218.0 L383.2,1219.6 L385.3,1223.2 L385.8,1231.4 L384.5,1234.5 L383.7,1233.5 L383.1,1237.6 L382.7,1251.0 L380.4,1251.0 L379.2,1237.6 L377.7,1251.0 Z" stroke="#222" stroke-width="1.1" fill="#fff" />
<line x1="368.7948717948718" y1="1230.4871794871794" x2="371.87179487179486" y2="1251" stroke="#222" stroke-width="0.9" />
<line x1="353" y1="1251.1" x2="389" y2="1251.1" stroke="#333" stroke-width="1" />
<rect x="387.5" y="1226" width="2.2" height="35" stroke="#555" stroke-width="0.8" fill="#888" />
<path d="M430.2,1261.0 L429.7,1248.7 L429.1,1245.4 L428.0,1244.9 L427.5,1235.9 L428.8,1232.6 L430.9,1231.7 L431.0,1230.3 L430.3,1227.4 L431.1,1224.7 L433.0,1223.9 L434.8,1225.1 L435.0,1227.9 L434.3,1230.7 L436.3,1231.7 L438.2,1233.6 L438.8,1239.2 L438.4,1244.0 L437.5,1244.4 L437.1,1240.2 L436.5,1247.8 L436.0,1261.0 L434.1,1261.0 L433.3,1247.8 L432.4,1261.0 Z" stroke="#222" stroke-width="1.1" fill="#fff" />
<path d="M442.5,1261.0 L442.2,1246.9 L441.0,1244.9 L439.2,1235.9 L440.5,1231.4 L443.5,1229.9 L444.0,1228.4 L443.2,1225.3 L444.0,1222.3 L446.2,1221.4 L448.2,1222.6 L448.4,1225.9 L447.6,1228.9 L450.6,1230.4 L452.6,1233.9 L453.1,1241.9 L451.9,1244.9 L451.1,1243.9 L450.5,1247.9 L450.1,1261.0 L447.8,1261.0 L446.6,1247.9 L445.2,1261.0 Z" stroke="#222" stroke-width="1.1" fill="#fff" />
<line x1="436.5" y1="1241.0" x2="439.5" y2="1261" stroke="#222" stroke-width="0.9" />
<circle cx="159" cy="1255" r="3.2" fill="#fff" stroke="#111" stroke-width="1"/>
<path d="M159,1255 L162.2,1255 A3.2,3.2 0 0 1 159,1258.2 Z M159,1255 L155.8,1255 A3.2,3.2 0 0 1 159,1251.8 Z" fill="#111"/>
<line x1="152.8" y1="1255" x2="176.2" y2="1255" stroke="#333" stroke-width="0.8" />
<line x1="159" y1="1248.8" x2="159" y2="1261.2" stroke="#333" stroke-width="0.8" />
<text x="164.2" y="1253.8" font-family="Liberation Sans" font-size="4.2" font-weight="normal" font-style="normal" fill="#333" text-anchor="start" >+0.00</text>
<circle cx="405" cy="1255" r="3.2" fill="#fff" stroke="#111" stroke-width="1"/>
<path d="M405,1255 L408.2,1255 A3.2,3.2 0 0 1 405,1258.2 Z M405,1255 L401.8,1255 A3.2,3.2 0 0 1 405,1251.8 Z" fill="#111"/>
<line x1="398.8" y1="1255" x2="422.2" y2="1255" stroke="#333" stroke-width="0.8" />
<line x1="405" y1="1248.8" x2="405" y2="1261.2" stroke="#333" stroke-width="0.8" />
<text x="410.2" y="1253.8" font-family="Liberation Sans" font-size="4.2" font-weight="normal" font-style="normal" fill="#333" text-anchor="start" >+0.00</text>
<circle cx="364" cy="1245" r="3.2" fill="#fff" stroke="#111" stroke-width="1"/>
<path d="M364,1245 L367.2,1245 A3.2,3.2 0 0 1 364,1248.2 Z M364,1245 L360.8,1245 A3.2,3.2 0 0 1 364,1241.8 Z" fill="#111"/>
<line x1="357.8" y1="1245" x2="381.2" y2="1245" stroke="#333" stroke-width="0.8" />
<line x1="364" y1="1238.8" x2="364" y2="1251.2" stroke="#333" stroke-width="0.8" />
<text x="369.2" y="1243.8" font-family="Liberation Sans" font-size="4.2" font-weight="normal" font-style="normal" fill="#333" text-anchor="start" >+0.45</text>
<polyline points="680.9000000000001,1157.9 749.9,1135.6 821.8,1157.9" stroke="#222" stroke-width="1.2" fill="none" />
<polyline points="682.9000000000001,1161.5 749.9,1141.4 819.9,1161.5" stroke="#222" stroke-width="1.2" fill="none" />
<line x1="680.9000000000001" y1="1157.9" x2="682.9000000000001" y2="1161.5" stroke="#333" stroke-width="1" />
<line x1="821.8" y1="1157.9" x2="819.9" y2="1161.5" stroke="#333" stroke-width="1" />
<rect x="669.4000000000001" y="1160.3" width="13.7" height="8.3" stroke="#333" stroke-width="1.1" fill="none" />
<rect x="819.7" y="1160.3" width="14.4" height="8.3" stroke="#333" stroke-width="1.1" fill="none" />
<path d="M672.2,1162 Q674.2,1167 679.2,1166" stroke="#333" stroke-width="0.8" fill="none" />
<path d="M830.5,1162 Q828.5,1167 823.5,1166" stroke="#333" stroke-width="0.8" fill="none" />
<line x1="749.9" y1="1123" x2="749.9" y2="1135" stroke="#111" stroke-width="1.6" />
<rect x="748.4" y="1127" width="3" height="4" fill="#111" />
<line x1="759.4" y1="1134" x2="809.5" y2="1149.6" stroke="#222" stroke-width="4.2" />
<line x1="759.4" y1="1134" x2="809.5" y2="1149.6" stroke="#bbb" stroke-width="1.6" />
<line x1="522.5" y1="1261" x2="977.5" y2="1261" stroke="#333" stroke-width="1.2" />
<rect x="679.2" y="1244.5" width="141.6" height="16.5" stroke="#333" stroke-width="1.1" fill="#fff" />
<rect x="683.5" y="1257.4" width="132.4" height="15.1" stroke="#333" stroke-width="1.1" fill="none" />
<line x1="680.2" y1="1161" x2="680.2" y2="1244.5" stroke="#333" stroke-width="1.0" />
<line x1="684.2" y1="1161" x2="684.2" y2="1244.5" stroke="#333" stroke-width="1.0" />
<line x1="815.9" y1="1161" x2="815.9" y2="1244.5" stroke="#333" stroke-width="1.0" />
<line x1="820.5" y1="1161" x2="820.5" y2="1244.5" stroke="#333" stroke-width="1.0" />
<rect x="759.3" y="1191.2" width="45.8" height="65.7" stroke="#222" stroke-width="1.8" fill="#fff" />
<line x1="780.5" y1="1191.2" x2="780.5" y2="1256.9" stroke="#333" stroke-width="1" />
<line x1="760" y1="1192" x2="804" y2="1256" stroke="#333" stroke-width="0.8" />
<line x1="804" y1="1192" x2="760" y2="1256" stroke="#333" stroke-width="0.8" />
<rect x="764" y="1245" width="11" height="5" stroke="#555" stroke-width="1" fill="none" />
<path d="M616.2,1261.0 L615.7,1248.7 L615.1,1245.4 L614.0,1244.9 L613.5,1235.9 L614.8,1232.6 L616.9,1231.7 L617.0,1230.3 L616.3,1227.4 L617.1,1224.7 L619.0,1223.9 L620.8,1225.1 L621.0,1227.9 L620.3,1230.7 L622.3,1231.7 L624.2,1233.6 L624.8,1239.2 L624.4,1244.0 L623.5,1244.4 L623.1,1240.2 L622.5,1247.8 L622.0,1261.0 L620.1,1261.0 L619.3,1247.8 L618.4,1261.0 Z" stroke="#222" stroke-width="1.1" fill="#fff" />
<path d="M628.5,1261.0 L628.2,1246.9 L627.0,1244.9 L625.2,1235.9 L626.5,1231.4 L629.5,1229.9 L630.0,1228.4 L629.2,1225.3 L630.0,1222.3 L632.2,1221.4 L634.2,1222.6 L634.4,1225.9 L633.6,1228.9 L636.6,1230.4 L638.6,1233.9 L639.1,1241.9 L637.9,1244.9 L637.1,1243.9 L636.5,1247.9 L636.1,1261.0 L633.8,1261.0 L632.6,1247.9 L631.2,1261.0 Z" stroke="#222" stroke-width="1.1" fill="#fff" />
<line x1="622.5" y1="1241.0" x2="625.5" y2="1261" stroke="#222" stroke-width="0.9" />
<path d="M653.3,1251.0 L652.9,1238.4 L652.2,1235.0 L651.1,1234.5 L650.5,1225.3 L651.9,1221.9 L654.0,1220.9 L654.1,1219.5 L653.4,1216.6 L654.2,1213.8 L656.2,1213.0 L658.1,1214.1 L658.3,1217.0 L657.5,1220.0 L659.6,1220.9 L661.6,1222.9 L662.2,1228.7 L661.8,1233.5 L660.8,1234.0 L660.4,1229.7 L659.8,1237.4 L659.3,1251.0 L657.3,1251.0 L656.5,1237.4 L655.6,1251.0 Z" stroke="#222" stroke-width="1.1" fill="#fff" />
<path d="M666.0,1251.0 L665.7,1236.6 L664.4,1234.5 L662.6,1225.2 L663.9,1220.6 L667.0,1219.1 L667.5,1217.5 L666.7,1214.4 L667.5,1211.3 L669.8,1210.4 L671.8,1211.7 L672.0,1215.0 L671.2,1218.0 L674.2,1219.6 L676.3,1223.2 L676.8,1231.4 L675.5,1234.5 L674.7,1233.5 L674.1,1237.6 L673.7,1251.0 L671.4,1251.0 L670.2,1237.6 L668.7,1251.0 Z" stroke="#222" stroke-width="1.1" fill="#fff" />
<line x1="659.7948717948718" y1="1230.4871794871794" x2="662.8717948717949" y2="1251" stroke="#222" stroke-width="0.9" />
<line x1="648" y1="1251.1" x2="679" y2="1251.1" stroke="#333" stroke-width="1" />
<rect x="645" y="1226" width="2.4" height="35" stroke="#555" stroke-width="0.8" fill="#888" />
<path d="M864.2,1261.0 L863.7,1248.7 L863.1,1245.4 L862.0,1244.9 L861.5,1235.9 L862.8,1232.6 L864.9,1231.7 L865.0,1230.3 L864.3,1227.4 L865.1,1224.7 L867.0,1223.9 L868.8,1225.1 L869.0,1227.9 L868.3,1230.7 L870.3,1231.7 L872.2,1233.6 L872.8,1239.2 L872.4,1244.0 L871.5,1244.4 L871.1,1240.2 L870.5,1247.8 L870.0,1261.0 L868.1,1261.0 L867.3,1247.8 L866.4,1261.0 Z" stroke="#222" stroke-width="1.1" fill="#fff" />
<path d="M876.5,1261.0 L876.2,1246.9 L875.0,1244.9 L873.2,1235.9 L874.5,1231.4 L877.5,1229.9 L878.0,1228.4 L877.2,1225.3 L878.0,1222.3 L880.2,1221.4 L882.2,1222.6 L882.4,1225.9 L881.6,1228.9 L884.6,1230.4 L886.6,1233.9 L887.1,1241.9 L885.9,1244.9 L885.1,1243.9 L884.5,1247.9 L884.1,1261.0 L881.8,1261.0 L880.6,1247.9 L879.2,1261.0 Z" stroke="#222" stroke-width="1.1" fill="#fff" />
<line x1="870.5" y1="1241.0" x2="873.5" y2="1261" stroke="#222" stroke-width="0.9" />
<circle cx="590" cy="1255" r="3.2" fill="#fff" stroke="#111" stroke-width="1"/>
<path d="M590,1255 L593.2,1255 A3.2,3.2 0 0 1 590,1258.2 Z M590,1255 L586.8,1255 A3.2,3.2 0 0 1 590,1251.8 Z" fill="#111"/>
<line x1="583.8" y1="1255" x2="607.2" y2="1255" stroke="#333" stroke-width="0.8" />
<line x1="590" y1="1248.8" x2="590" y2="1261.2" stroke="#333" stroke-width="0.8" />
<text x="595.2" y="1253.8" font-family="Liberation Sans" font-size="4.2" font-weight="normal" font-style="normal" fill="#333" text-anchor="start" >+0.00</text>
<circle cx="836" cy="1255" r="3.2" fill="#fff" stroke="#111" stroke-width="1"/>
<path d="M836,1255 L839.2,1255 A3.2,3.2 0 0 1 836,1258.2 Z M836,1255 L832.8,1255 A3.2,3.2 0 0 1 836,1251.8 Z" fill="#111"/>
<line x1="829.8" y1="1255" x2="853.2" y2="1255" stroke="#333" stroke-width="0.8" />
<line x1="836" y1="1248.8" x2="836" y2="1261.2" stroke="#333" stroke-width="0.8" />
<text x="841.2" y="1253.8" font-family="Liberation Sans" font-size="4.2" font-weight="normal" font-style="normal" fill="#333" text-anchor="start" >+0.00</text>
<circle cx="654" cy="1245" r="3.2" fill="#fff" stroke="#111" stroke-width="1"/>
<path d="M654,1245 L657.2,1245 A3.2,3.2 0 0 1 654,1248.2 Z M654,1245 L650.8,1245 A3.2,3.2 0 0 1 654,1241.8 Z" fill="#111"/>
<line x1="647.8" y1="1245" x2="671.2" y2="1245" stroke="#333" stroke-width="0.8" />
<line x1="654" y1="1238.8" x2="654" y2="1251.2" stroke="#333" stroke-width="0.8" />
<text x="659.2" y="1243.8" font-family="Liberation Sans" font-size="4.2" font-weight="normal" font-style="normal" fill="#333" text-anchor="start" >+0.45</text>
<polyline points="1153.9,1157 1221.5,1135 1289.2,1157" stroke="#222" stroke-width="1.2" fill="none" />
<polyline points="1154.9,1160 1154.9,1168 1166.2,1168 1166.2,1160" stroke="#333" stroke-width="1" fill="none" />
<polyline points="1166.2,1160.6 1221.5,1141 1277.6,1160.6 1166.2,1160.6" stroke="#222" stroke-width="1.2" fill="none" />
<polyline points="1170,1158.5 1221.5,1144 1273.5,1158.5 1170,1158.5" stroke="#555" stroke-width="0.8" fill="none" />
<line x1="1166.2" y1="1162.3" x2="1277.6" y2="1162.3" stroke="#555" stroke-width="0.8" />
<rect x="1142" y="1160.3" width="14" height="8.3" stroke="#333" stroke-width="1.1" fill="none" />
<rect x="1289" y="1160.3" width="12.6" height="8.3" stroke="#333" stroke-width="1.1" fill="none" />
<line x1="1221.5" y1="1123" x2="1221.5" y2="1135" stroke="#111" stroke-width="1.6" />
<rect x="1220" y="1127" width="3" height="4" fill="#111" />
<line x1="1167" y1="1150" x2="1213" y2="1134" stroke="#222" stroke-width="4.2" />
<line x1="1167" y1="1150" x2="1213" y2="1134" stroke="#bbb" stroke-width="1.6" />
<line x1="989" y1="1261" x2="1152.2" y2="1261" stroke="#333" stroke-width="1.2" />
<line x1="1153" y1="1168" x2="1153" y2="1261" stroke="#222" stroke-width="2.2" />
<rect x="1167" y="1168" width="109.8" height="82.6" stroke="#222" stroke-width="1.2" fill="none" />
<line x1="1290.8" y1="1168" x2="1290.8" y2="1255" stroke="#222" stroke-width="2.2" />
<line x1="1289" y1="1168" x2="1289" y2="1255" stroke="#333" stroke-width="0.8" />
<line x1="1167" y1="1257.4" x2="1277" y2="1257.4" stroke="#999" stroke-width="2" />
<polyline points="1156,1267 1156,1272.5 1288,1272.5 1288,1267" stroke="#333" stroke-width="1.1" fill="none" />
<line x1="1198.4" y1="1168" x2="1198.4" y2="1250.6" stroke="#333" stroke-width="1.0" />
<line x1="1206.7" y1="1168" x2="1206.7" y2="1250.6" stroke="#333" stroke-width="1.0" />
<line x1="1234.7" y1="1168" x2="1234.7" y2="1250.6" stroke="#333" stroke-width="1.0" />
<line x1="1204.2" y1="1168" x2="1204.2" y2="1250.6" stroke="#777" stroke-width="2" />
<line x1="1236.7" y1="1168" x2="1236.7" y2="1250.6" stroke="#333" stroke-width="1" />
<line x1="1157" y1="1187" x2="1157" y2="1224" stroke="#111" stroke-width="2.8" />
<line x1="1287.8" y1="1187" x2="1287.8" y2="1224" stroke="#111" stroke-width="2.8" />
<line x1="1158" y1="1187" x2="1167" y2="1187" stroke="#333" stroke-width="0.8" />
<line x1="1158" y1="1224" x2="1167" y2="1224" stroke="#333" stroke-width="0.8" />
<line x1="1277" y1="1187" x2="1287" y2="1187" stroke="#333" stroke-width="0.8" />
<line x1="1277" y1="1224" x2="1287" y2="1224" stroke="#333" stroke-width="0.8" />
<text x="1196" y="1215" font-family="Liberation Sans" font-size="6" font-weight="normal" font-style="normal" fill="#333" text-anchor="start" transform="rotate(-90 1196 1215)">3,54</text>
<line x1="1198.4" y1="1168" x2="1198.4" y2="1250.6" stroke="#555" stroke-width="0.6" />
<path d="M1213.5,1250.6 L1213.0,1237.6 L1212.3,1234.1 L1211.2,1233.6 L1210.6,1224.1 L1212.0,1220.6 L1214.2,1219.6 L1214.3,1218.1 L1213.6,1215.1 L1214.4,1212.2 L1216.5,1211.4 L1218.4,1212.6 L1218.6,1215.6 L1217.8,1218.6 L1220.0,1219.6 L1222.0,1221.6 L1222.6,1227.6 L1222.2,1232.6 L1221.2,1233.1 L1220.8,1228.6 L1220.2,1236.6 L1219.6,1250.6 L1217.6,1250.6 L1216.8,1236.6 L1215.8,1250.6 Z" stroke="#222" stroke-width="1.1" fill="#fff" />
<path d="M1226.6,1250.6 L1226.1,1237.3 L1225.4,1233.7 L1224.3,1233.2 L1223.7,1223.4 L1225.1,1219.8 L1227.4,1218.8 L1227.5,1217.3 L1226.7,1214.2 L1227.6,1211.2 L1229.7,1210.4 L1231.7,1211.6 L1231.9,1214.7 L1231.0,1217.8 L1233.3,1218.8 L1235.3,1220.9 L1236.0,1227.0 L1235.6,1232.1 L1234.5,1232.7 L1234.1,1228.0 L1233.5,1236.2 L1232.9,1250.6 L1230.8,1250.6 L1230.0,1236.2 L1229.0,1250.6 Z" stroke="#222" stroke-width="1.1" fill="#fff" />
<path d="M1297.5,1254.6 L1297.0,1241.6 L1296.3,1238.1 L1295.2,1237.6 L1294.6,1228.1 L1296.0,1224.6 L1298.2,1223.6 L1298.3,1222.1 L1297.6,1219.1 L1298.4,1216.2 L1300.5,1215.4 L1302.4,1216.6 L1302.6,1219.6 L1301.8,1222.6 L1304.0,1223.6 L1306.0,1225.6 L1306.6,1231.6 L1306.2,1236.6 L1305.2,1237.1 L1304.8,1232.6 L1304.2,1240.6 L1303.6,1254.6 L1301.6,1254.6 L1300.8,1240.6 L1299.8,1254.6 Z" stroke="#222" stroke-width="1.1" fill="#fff" />
<path d="M1310.6,1254.6 L1310.1,1241.3 L1309.4,1237.7 L1308.3,1237.2 L1307.7,1227.4 L1309.1,1223.8 L1311.4,1222.8 L1311.5,1221.3 L1310.7,1218.2 L1311.6,1215.2 L1313.7,1214.4 L1315.7,1215.6 L1315.9,1218.7 L1315.0,1221.8 L1317.3,1222.8 L1319.3,1224.9 L1320.0,1231.0 L1319.6,1236.1 L1318.5,1236.7 L1318.1,1232.0 L1317.5,1240.2 L1316.9,1254.6 L1314.8,1254.6 L1314.0,1240.2 L1313.0,1254.6 Z" stroke="#222" stroke-width="1.1" fill="#fff" />
<line x1="1290" y1="1254.6" x2="1325" y2="1254.6" stroke="#333" stroke-width="1" />
<rect x="1325" y="1226" width="2.2" height="35" stroke="#555" stroke-width="0.8" fill="#888" />
<line x1="1327" y1="1261" x2="1455" y2="1261" stroke="#333" stroke-width="1.2" />
<circle cx="1053" cy="1255" r="3.2" fill="#fff" stroke="#111" stroke-width="1"/>
<path d="M1053,1255 L1056.2,1255 A3.2,3.2 0 0 1 1053,1258.2 Z M1053,1255 L1049.8,1255 A3.2,3.2 0 0 1 1053,1251.8 Z" fill="#111"/>
<line x1="1046.8" y1="1255" x2="1070.2" y2="1255" stroke="#333" stroke-width="0.8" />
<line x1="1053" y1="1248.8" x2="1053" y2="1261.2" stroke="#333" stroke-width="0.8" />
<text x="1058.2" y="1253.8" font-family="Liberation Sans" font-size="4.2" font-weight="normal" font-style="normal" fill="#333" text-anchor="start" >+0.00</text>
<circle cx="1178" cy="1244" r="3.2" fill="#fff" stroke="#111" stroke-width="1"/>
<path d="M1178,1244 L1181.2,1244 A3.2,3.2 0 0 1 1178,1247.2 Z M1178,1244 L1174.8,1244 A3.2,3.2 0 0 1 1178,1240.8 Z" fill="#111"/>
<line x1="1171.8" y1="1244" x2="1195.2" y2="1244" stroke="#333" stroke-width="0.8" />
<line x1="1178" y1="1237.8" x2="1178" y2="1250.2" stroke="#333" stroke-width="0.8" />
<text x="1183.2" y="1242.8" font-family="Liberation Sans" font-size="4.2" font-weight="normal" font-style="normal" fill="#333" text-anchor="start" >+0.45</text>
<circle cx="1298" cy="1249" r="3.2" fill="#fff" stroke="#111" stroke-width="1"/>
<path d="M1298,1249 L1301.2,1249 A3.2,3.2 0 0 1 1298,1252.2 Z M1298,1249 L1294.8,1249 A3.2,3.2 0 0 1 1298,1245.8 Z" fill="#111"/>
<line x1="1291.8" y1="1249" x2="1315.2" y2="1249" stroke="#333" stroke-width="0.8" />
<line x1="1298" y1="1242.8" x2="1298" y2="1255.2" stroke="#333" stroke-width="0.8" />
<text x="1303.2" y="1247.8" font-family="Liberation Sans" font-size="4.2" font-weight="normal" font-style="normal" fill="#333" text-anchor="start" >+0.45</text>
<rect x="1493.6" y="742.2" width="416.4" height="22.8" stroke="#555" stroke-width="1.4" fill="none" />
<line x1="1668" y1="742.2" x2="1668" y2="765" stroke="#555" stroke-width="1.6" />
<line x1="1771.5" y1="742.2" x2="1771.5" y2="765" stroke="#555" stroke-width="1.6" />
<g transform="translate(1498.7,762.5) scale(0.895,1)"><text x="0" y="0" font-family="Liberation Sans" font-size="9.2" font-weight="normal" font-style="normal" fill="#2a2a2a" text-anchor="start" stroke="#2a2a2a" stroke-width="0.2" >LOCALE - DESTINAZIONE</text></g>
<g transform="translate(1672.5,762.5) scale(0.895,1)"><text x="0" y="0" font-family="Liberation Sans" font-size="9.2" font-weight="normal" font-style="normal" fill="#2a2a2a" text-anchor="start" stroke="#2a2a2a" stroke-width="0.2" >SUPERFICI IN MQ</text></g>
<g transform="translate(1776,762.5) scale(0.895,1)"><text x="0" y="0" font-family="Liberation Sans" font-size="9.2" font-weight="normal" font-style="normal" fill="#2a2a2a" text-anchor="start" stroke="#2a2a2a" stroke-width="0.2" >RAPPORTO AERO ILLUMINANTE</text></g>
<g transform="translate(1498.7,784) scale(0.895,1)"><text x="0" y="0" font-family="Liberation Sans" font-size="9.2" font-weight="bold" font-style="italic" fill="#2a2a2a" text-anchor="start" stroke="#2a2a2a" stroke-width="0.2" >STAZIONE DI POSTA - PIANO TERRA</text></g>
<rect x="1493.6" y="786.5" width="416.4" height="9.24" stroke="#555" stroke-width="1.3" fill="none" />
<g transform="translate(1498.7,794.3) scale(0.895,1)"><text x="0" y="0" font-family="Liberation Sans" font-size="9.2" font-weight="normal" font-style="normal" fill="#2a2a2a" text-anchor="start" stroke="#2a2a2a" stroke-width="0.2" >LOCALE 1 - DISIMPEGNO</text></g>
<g transform="translate(1672.5,794.3) scale(0.895,1)"><text x="0" y="0" font-family="Liberation Sans" font-size="9.2" font-weight="normal" font-style="normal" fill="#2a2a2a" text-anchor="start" stroke="#2a2a2a" stroke-width="0.2" >9.00 MQ</text></g>
<g transform="translate(1776,794.3) scale(0.895,1)"><text x="0" y="0" font-family="Liberation Sans" font-size="9.2" font-weight="normal" font-style="normal" fill="#2a2a2a" text-anchor="start" stroke="#2a2a2a" stroke-width="0.2" >R. A. I. &gt; 1 / 8</text></g>
<rect x="1493.6" y="795.74" width="416.4" height="9.24" stroke="#555" stroke-width="1.3" fill="none" />
<g transform="translate(1498.7,803.54) scale(0.895,1)"><text x="0" y="0" font-family="Liberation Sans" font-size="9.2" font-weight="normal" font-style="normal" fill="#2a2a2a" text-anchor="start" stroke="#2a2a2a" stroke-width="0.2" >LOCALE 2 - FRONT OFFICE</text></g>
<g transform="translate(1672.5,803.54) scale(0.895,1)"><text x="0" y="0" font-family="Liberation Sans" font-size="9.2" font-weight="normal" font-style="normal" fill="#2a2a2a" text-anchor="start" stroke="#2a2a2a" stroke-width="0.2" >24.60 MQ</text></g>
<g transform="translate(1776,803.54) scale(0.895,1)"><text x="0" y="0" font-family="Liberation Sans" font-size="9.2" font-weight="normal" font-style="normal" fill="#2a2a2a" text-anchor="start" stroke="#2a2a2a" stroke-width="0.2" >R. A. I. &gt; 1 / 8</text></g>
<rect x="1493.6" y="804.98" width="416.4" height="9.24" stroke="#555" stroke-width="1.3" fill="none" />
<g transform="translate(1498.7,812.78) scale(0.895,1)"><text x="0" y="0" font-family="Liberation Sans" font-size="9.2" font-weight="normal" font-style="normal" fill="#2a2a2a" text-anchor="start" stroke="#2a2a2a" stroke-width="0.2" >LOCALE 3 - COLLOQUIO PRIVATO</text></g>
<g transform="translate(1672.5,812.78) scale(0.895,1)"><text x="0" y="0" font-family="Liberation Sans" font-size="9.2" font-weight="normal" font-style="normal" fill="#2a2a2a" text-anchor="start" stroke="#2a2a2a" stroke-width="0.2" >9.00 MQ</text></g>
<g transform="translate(1776,812.78) scale(0.895,1)"><text x="0" y="0" font-family="Liberation Sans" font-size="9.2" font-weight="normal" font-style="normal" fill="#2a2a2a" text-anchor="start" stroke="#2a2a2a" stroke-width="0.2" >R. A. I. &gt; 1 / 8</text></g>
<rect x="1493.6" y="814.22" width="416.4" height="9.24" stroke="#555" stroke-width="1.3" fill="none" />
<g transform="translate(1498.7,822.02) scale(0.895,1)"><text x="0" y="0" font-family="Liberation Sans" font-size="9.2" font-weight="normal" font-style="normal" fill="#2a2a2a" text-anchor="start" stroke="#2a2a2a" stroke-width="0.2" >LOCALE 4 - SALA PRIMA ASSISTENZA</text></g>
<g transform="translate(1672.5,822.02) scale(0.895,1)"><text x="0" y="0" font-family="Liberation Sans" font-size="9.2" font-weight="normal" font-style="normal" fill="#2a2a2a" text-anchor="start" stroke="#2a2a2a" stroke-width="0.2" >15.45 MQ</text></g>
<g transform="translate(1776,822.02) scale(0.895,1)"><text x="0" y="0" font-family="Liberation Sans" font-size="9.2" font-weight="normal" font-style="normal" fill="#2a2a2a" text-anchor="start" stroke="#2a2a2a" stroke-width="0.2" >R. A. I. &gt; 1 / 8</text></g>
<rect x="1493.6" y="823.46" width="416.4" height="9.24" stroke="#555" stroke-width="1.3" fill="none" />
<g transform="translate(1498.7,831.26) scale(0.895,1)"><text x="0" y="0" font-family="Liberation Sans" font-size="9.2" font-weight="normal" font-style="normal" fill="#2a2a2a" text-anchor="start" stroke="#2a2a2a" stroke-width="0.2" >LOCALE 5 - DISIMPEGNO</text></g>
<g transform="translate(1672.5,831.26) scale(0.895,1)"><text x="0" y="0" font-family="Liberation Sans" font-size="9.2" font-weight="normal" font-style="normal" fill="#2a2a2a" text-anchor="start" stroke="#2a2a2a" stroke-width="0.2" >3.80 MQ</text></g>
<g transform="translate(1776,831.26) scale(0.895,1)"><text x="0" y="0" font-family="Liberation Sans" font-size="9.2" font-weight="normal" font-style="normal" fill="#2a2a2a" text-anchor="start" stroke="#2a2a2a" stroke-width="0.2" >R. A. I. &gt; 1 / 8</text></g>
<rect x="1493.6" y="832.7" width="416.4" height="9.24" stroke="#555" stroke-width="1.3" fill="none" />
<g transform="translate(1498.7,840.5) scale(0.895,1)"><text x="0" y="0" font-family="Liberation Sans" font-size="9.2" font-weight="normal" font-style="normal" fill="#2a2a2a" text-anchor="start" stroke="#2a2a2a" stroke-width="0.2" >LOCALE 6 - BAGNO DISABILI</text></g>
<g transform="translate(1672.5,840.5) scale(0.895,1)"><text x="0" y="0" font-family="Liberation Sans" font-size="9.2" font-weight="normal" font-style="normal" fill="#2a2a2a" text-anchor="start" stroke="#2a2a2a" stroke-width="0.2" >3.25 MQ</text></g>
<g transform="translate(1776,840.5) scale(0.895,1)"><text x="0" y="0" font-family="Liberation Sans" font-size="9.2" font-weight="normal" font-style="normal" fill="#2a2a2a" text-anchor="start" stroke="#2a2a2a" stroke-width="0.2" >areatore Ø esalatore Ø<tspan font-size="12">100</tspan></text></g>
<rect x="1493.6" y="841.94" width="416.4" height="9.24" stroke="#555" stroke-width="1.3" fill="none" />
<g transform="translate(1498.7,849.74) scale(0.895,1)"><text x="0" y="0" font-family="Liberation Sans" font-size="9.2" font-weight="normal" font-style="normal" fill="#2a2a2a" text-anchor="start" stroke="#2a2a2a" stroke-width="0.2" >LOCALE 7 - LOCALE TECNICO</text></g>
<g transform="translate(1672.5,849.74) scale(0.895,1)"><text x="0" y="0" font-family="Liberation Sans" font-size="9.2" font-weight="normal" font-style="normal" fill="#2a2a2a" text-anchor="start" stroke="#2a2a2a" stroke-width="0.2" >2.85 MQ</text></g>
<g transform="translate(1776,849.74) scale(0.895,1)"><text x="0" y="0" font-family="Liberation Sans" font-size="9.2" font-weight="normal" font-style="normal" fill="#2a2a2a" text-anchor="start" stroke="#2a2a2a" stroke-width="0.2" >R. A. I. &gt; 1 / 8</text></g>
<rect x="1493.6" y="851.1800000000001" width="416.4" height="9.24" stroke="#555" stroke-width="1.3" fill="none" />
<g transform="translate(1498.7,858.98) scale(0.895,1)"><text x="0" y="0" font-family="Liberation Sans" font-size="9.2" font-weight="normal" font-style="normal" fill="#2a2a2a" text-anchor="start" stroke="#2a2a2a" stroke-width="0.2" >LOCALE 8 - BAGNO</text></g>
<g transform="translate(1672.5,858.98) scale(0.895,1)"><text x="0" y="0" font-family="Liberation Sans" font-size="9.2" font-weight="normal" font-style="normal" fill="#2a2a2a" text-anchor="start" stroke="#2a2a2a" stroke-width="0.2" >1.60 MQ</text></g>
<g transform="translate(1776,858.98) scale(0.895,1)"><text x="0" y="0" font-family="Liberation Sans" font-size="9.2" font-weight="normal" font-style="normal" fill="#2a2a2a" text-anchor="start" stroke="#2a2a2a" stroke-width="0.2" >areatore Ø esalatore Ø<tspan font-size="12">100</tspan></text></g>
<rect x="1493.6" y="860.42" width="416.4" height="9.24" stroke="#555" stroke-width="1.3" fill="none" />
<g transform="translate(1498.7,868.2199999999999) scale(0.895,1)"><text x="0" y="0" font-family="Liberation Sans" font-size="9.2" font-weight="normal" font-style="normal" fill="#2a2a2a" text-anchor="start" stroke="#2a2a2a" stroke-width="0.2" >LOCALE 9 - BAGNO</text></g>
<g transform="translate(1672.5,868.2199999999999) scale(0.895,1)"><text x="0" y="0" font-family="Liberation Sans" font-size="9.2" font-weight="normal" font-style="normal" fill="#2a2a2a" text-anchor="start" stroke="#2a2a2a" stroke-width="0.2" >1.55 MQ</text></g>
<g transform="translate(1776,868.2199999999999) scale(0.895,1)"><text x="0" y="0" font-family="Liberation Sans" font-size="9.2" font-weight="normal" font-style="normal" fill="#2a2a2a" text-anchor="start" stroke="#2a2a2a" stroke-width="0.2" >areatore Ø esalatore Ø<tspan font-size="12">100</tspan></text></g>
<rect x="1493.6" y="869.66" width="416.4" height="9.24" stroke="#555" stroke-width="1.3" fill="none" />
<g transform="translate(1498.7,877.4599999999999) scale(0.895,1)"><text x="0" y="0" font-family="Liberation Sans" font-size="9.2" font-weight="normal" font-style="normal" fill="#2a2a2a" text-anchor="start" stroke="#2a2a2a" stroke-width="0.2" >LOCALE 10 - DISIMPEGNO</text></g>
<g transform="translate(1672.5,877.4599999999999) scale(0.895,1)"><text x="0" y="0" font-family="Liberation Sans" font-size="9.2" font-weight="normal" font-style="normal" fill="#2a2a2a" text-anchor="start" stroke="#2a2a2a" stroke-width="0.2" >4.45 MQ</text></g>
<g transform="translate(1776,877.4599999999999) scale(0.895,1)"><text x="0" y="0" font-family="Liberation Sans" font-size="9.2" font-weight="normal" font-style="normal" fill="#2a2a2a" text-anchor="start" stroke="#2a2a2a" stroke-width="0.2" >R. A. I. &gt; 1 / 8</text></g>
<rect x="1493.6" y="878.9" width="416.4" height="9.24" stroke="#555" stroke-width="1.3" fill="none" />
<g transform="translate(1498.7,886.6999999999999) scale(0.895,1)"><text x="0" y="0" font-family="Liberation Sans" font-size="9.2" font-weight="normal" font-style="normal" fill="#2a2a2a" text-anchor="start" stroke="#2a2a2a" stroke-width="0.2" >LOCALE 11 - DISIMPEGNO</text></g>
<g transform="translate(1672.5,886.6999999999999) scale(0.895,1)"><text x="0" y="0" font-family="Liberation Sans" font-size="9.2" font-weight="normal" font-style="normal" fill="#2a2a2a" text-anchor="start" stroke="#2a2a2a" stroke-width="0.2" >3.45 MQ</text></g>
<g transform="translate(1776,886.6999999999999) scale(0.895,1)"><text x="0" y="0" font-family="Liberation Sans" font-size="9.2" font-weight="normal" font-style="normal" fill="#2a2a2a" text-anchor="start" stroke="#2a2a2a" stroke-width="0.2" >R. A. I. &gt; 1 / 8</text></g>
<rect x="1493.6" y="888.14" width="416.4" height="9.24" stroke="#555" stroke-width="1.3" fill="none" />
<g transform="translate(1498.7,895.9399999999999) scale(0.895,1)"><text x="0" y="0" font-family="Liberation Sans" font-size="9.2" font-weight="normal" font-style="normal" fill="#2a2a2a" text-anchor="start" stroke="#2a2a2a" stroke-width="0.2" >LOCALE 12 - MAGAZZINO</text></g>
<g transform="translate(1672.5,895.9399999999999) scale(0.895,1)"><text x="0" y="0" font-family="Liberation Sans" font-size="9.2" font-weight="normal" font-style="normal" fill="#2a2a2a" text-anchor="start" stroke="#2a2a2a" stroke-width="0.2" >10.45 MQ</text></g>
<g transform="translate(1776,895.9399999999999) scale(0.895,1)"><text x="0" y="0" font-family="Liberation Sans" font-size="9.2" font-weight="normal" font-style="normal" fill="#2a2a2a" text-anchor="start" stroke="#2a2a2a" stroke-width="0.2" >R. A. I. &gt; 1 / 8</text></g>
<rect x="1493.6" y="897.38" width="416.4" height="9.24" stroke="#555" stroke-width="1.3" fill="none" />
<g transform="translate(1498.7,905.18) scale(0.895,1)"><text x="0" y="0" font-family="Liberation Sans" font-size="9.2" font-weight="normal" font-style="normal" fill="#2a2a2a" text-anchor="start" stroke="#2a2a2a" stroke-width="0.2" >LOCALE 13 - SPOGLIATOIO UOMINI</text></g>
<g transform="translate(1672.5,905.18) scale(0.895,1)"><text x="0" y="0" font-family="Liberation Sans" font-size="9.2" font-weight="normal" font-style="normal" fill="#2a2a2a" text-anchor="start" stroke="#2a2a2a" stroke-width="0.2" >4.65 MQ</text></g>
<g transform="translate(1776,905.18) scale(0.895,1)"><text x="0" y="0" font-family="Liberation Sans" font-size="9.2" font-weight="normal" font-style="normal" fill="#2a2a2a" text-anchor="start" stroke="#2a2a2a" stroke-width="0.2" >R. A. I. &gt; 1 / 8</text></g>
<rect x="1493.6" y="906.62" width="416.4" height="9.24" stroke="#555" stroke-width="1.3" fill="none" />
<g transform="translate(1498.7,914.42) scale(0.895,1)"><text x="0" y="0" font-family="Liberation Sans" font-size="9.2" font-weight="normal" font-style="normal" fill="#2a2a2a" text-anchor="start" stroke="#2a2a2a" stroke-width="0.2" >LOCALE 14 - BAGNO</text></g>
<g transform="translate(1672.5,914.42) scale(0.895,1)"><text x="0" y="0" font-family="Liberation Sans" font-size="9.2" font-weight="normal" font-style="normal" fill="#2a2a2a" text-anchor="start" stroke="#2a2a2a" stroke-width="0.2" >1.55 MQ</text></g>
<g transform="translate(1776,914.42) scale(0.895,1)"><text x="0" y="0" font-family="Liberation Sans" font-size="9.2" font-weight="normal" font-style="normal" fill="#2a2a2a" text-anchor="start" stroke="#2a2a2a" stroke-width="0.2" >areatore Ø esalatore Ø<tspan font-size="12">100</tspan></text></g>
<rect x="1493.6" y="915.86" width="416.4" height="9.24" stroke="#555" stroke-width="1.3" fill="none" />
<g transform="translate(1498.7,923.66) scale(0.895,1)"><text x="0" y="0" font-family="Liberation Sans" font-size="9.2" font-weight="normal" font-style="normal" fill="#2a2a2a" text-anchor="start" stroke="#2a2a2a" stroke-width="0.2" >LOCALE 15 - SPOGLIATOIO DONNE</text></g>
<g transform="translate(1672.5,923.66) scale(0.895,1)"><text x="0" y="0" font-family="Liberation Sans" font-size="9.2" font-weight="normal" font-style="normal" fill="#2a2a2a" text-anchor="start" stroke="#2a2a2a" stroke-width="0.2" >4.85 MQ</text></g>
<g transform="translate(1776,923.66) scale(0.895,1)"><text x="0" y="0" font-family="Liberation Sans" font-size="9.2" font-weight="normal" font-style="normal" fill="#2a2a2a" text-anchor="start" stroke="#2a2a2a" stroke-width="0.2" >R. A. I. &gt; 1 / 8</text></g>
<rect x="1493.6" y="925.1" width="416.4" height="9.24" stroke="#555" stroke-width="1.3" fill="none" />
<g transform="translate(1498.7,932.9) scale(0.895,1)"><text x="0" y="0" font-family="Liberation Sans" font-size="9.2" font-weight="normal" font-style="normal" fill="#2a2a2a" text-anchor="start" stroke="#2a2a2a" stroke-width="0.2" >LOCALE 16 - BAGNO</text></g>
<g transform="translate(1672.5,932.9) scale(0.895,1)"><text x="0" y="0" font-family="Liberation Sans" font-size="9.2" font-weight="normal" font-style="normal" fill="#2a2a2a" text-anchor="start" stroke="#2a2a2a" stroke-width="0.2" >1.55 MQ</text></g>
<g transform="translate(1776,932.9) scale(0.895,1)"><text x="0" y="0" font-family="Liberation Sans" font-size="9.2" font-weight="normal" font-style="normal" fill="#2a2a2a" text-anchor="start" stroke="#2a2a2a" stroke-width="0.2" >areatore Ø esalatore Ø<tspan font-size="12">100</tspan></text></g>
<line x1="1668" y1="786.5" x2="1668" y2="934.3" stroke="#555" stroke-width="1.9" />
<line x1="1771.5" y1="786.5" x2="1771.5" y2="934.3" stroke="#555" stroke-width="1.9" />
<rect x="1493.6" y="951.5" width="277.9" height="9.3" stroke="#555" stroke-width="1.3" fill="none" />
<line x1="1668" y1="951.5" x2="1668" y2="960.8" stroke="#555" stroke-width="1.6" />
<g transform="translate(1498.7,959.6) scale(0.895,1)"><text x="0" y="0" font-family="Liberation Sans" font-size="9.2" font-weight="normal" font-style="normal" fill="#2a2a2a" text-anchor="start" stroke="#2a2a2a" stroke-width="0.2" >TOTALE SUPERFICIE NETTA</text></g>
<g transform="translate(1672.5,959.6) scale(0.895,1)"><text x="0" y="0" font-family="Liberation Sans" font-size="9.2" font-weight="normal" font-style="normal" fill="#2a2a2a" text-anchor="start" stroke="#2a2a2a" stroke-width="0.2" >102.05 MQ</text></g>
<rect x="1494.3" y="1011.9" width="416" height="322.7" stroke="#666" stroke-width="1.5" fill="none" />
<line x1="1772" y1="1011.9" x2="1772" y2="1242.1" stroke="#666" stroke-width="1.5" />
<line x1="1494.3" y1="1242.1" x2="1910.3" y2="1242.1" stroke="#666" stroke-width="1.5" />
<line x1="1494.3" y1="1265.4" x2="1910.3" y2="1265.4" stroke="#666" stroke-width="1.5" />
<line x1="1544.4" y1="1242.1" x2="1544.4" y2="1265.4" stroke="#666" stroke-width="1.2" />
<line x1="1632.5" y1="1242.1" x2="1632.5" y2="1265.4" stroke="#666" stroke-width="1.2" />
<line x1="1655.6" y1="1242.1" x2="1655.6" y2="1265.4" stroke="#666" stroke-width="1.2" />
<line x1="1702.2" y1="1242.1" x2="1702.2" y2="1265.4" stroke="#666" stroke-width="1.2" />
<line x1="1772" y1="1242.1" x2="1772" y2="1334.6" stroke="#666" stroke-width="1.5" />
<line x1="1632.5" y1="1265.4" x2="1632.5" y2="1334.6" stroke="#666" stroke-width="1.5" />
<rect x="1536" y="1018" width="8" height="2.5" fill="#9fd8d8" />
<rect x="1536" y="1023" width="8" height="2.5" fill="#9fd8d8" />
<rect x="1536" y="1028" width="8" height="2.5" fill="#a8a8a8" />
<path d="M1546,1030 V1019 H1552 V1024 H1547 L1553,1030" stroke="#888" stroke-width="1.8" fill="none" />
<path d="M1555,1030 V1019 H1561 V1024 H1556" stroke="#999" stroke-width="1.8" fill="none" />
<rect x="1562" y="1019" width="7" height="11" fill="#8fd0d0" />
<path d="M1545,1016 Q1552,1012 1559,1016" stroke="#111" stroke-width="1.5" fill="none" />
<g transform="translate(1576,1027) scale(1.0,1)"><text x="0" y="0" font-family="Liberation Sans" font-size="12.2" font-weight="bold" font-style="normal" fill="#111" text-anchor="start" stroke="#111" stroke-width="0.2" textLength="145" lengthAdjust="spacingAndGlyphs">ERP Massa Carrara SpA</text></g>
<g transform="translate(1633,1048.0) scale(1.0,1)"><text x="0" y="0" font-family="Liberation Sans" font-size="11.2" font-weight="normal" font-style="normal" fill="#1e1e1e" text-anchor="middle" stroke="#1e1e1e" stroke-width="0.25" >MISSIONE 5 " INCLUSIONE E COESIONE ",</text></g>
<g transform="translate(1633,1061.65) scale(1.0,1)"><text x="0" y="0" font-family="Liberation Sans" font-size="11.2" font-weight="normal" font-style="normal" fill="#1e1e1e" text-anchor="middle" stroke="#1e1e1e" stroke-width="0.25" >COMPONENTE 2 " INFRASTRUTTURE SOCIALI,</text></g>
<g transform="translate(1633,1075.3) scale(1.0,1)"><text x="0" y="0" font-family="Liberation Sans" font-size="11.2" font-weight="normal" font-style="normal" fill="#1e1e1e" text-anchor="middle" stroke="#1e1e1e" stroke-width="0.25" >FAMIGLIE, COMUNITA' E TERZO SETTORE ",</text></g>
<g transform="translate(1633,1088.95) scale(1.0,1)"><text x="0" y="0" font-family="Liberation Sans" font-size="11.2" font-weight="normal" font-style="normal" fill="#1e1e1e" text-anchor="middle" stroke="#1e1e1e" stroke-width="0.25" >SOTTOCOMPONENTE 1 " SERVIZI SOCIALI,</text></g>
<g transform="translate(1633,1102.6) scale(1.0,1)"><text x="0" y="0" font-family="Liberation Sans" font-size="11.2" font-weight="normal" font-style="normal" fill="#1e1e1e" text-anchor="middle" stroke="#1e1e1e" stroke-width="0.25" >DISABILITA' E MARGINALITA' SOCIALE ",</text></g>
<g transform="translate(1633,1116.25) scale(1.0,1)"><text x="0" y="0" font-family="Liberation Sans" font-size="11.2" font-weight="normal" font-style="normal" fill="#1e1e1e" text-anchor="middle" stroke="#1e1e1e" stroke-width="0.25" >INVESTIMENTO 1.3 <tspan font-style="italic">SUB INVESTIMENTO 1.3.2</tspan></text></g>
<g transform="translate(1633,1129.9) scale(1.0,1)"><text x="0" y="0" font-family="Liberation Sans" font-size="11.2" font-weight="normal" font-style="normal" fill="#1e1e1e" text-anchor="middle" stroke="#1e1e1e" stroke-width="0.25" ><tspan font-weight="bold" font-style="italic">STAZIONE DI POSTA</tspan> - <tspan font-style="italic">CUP F39G22000100006</tspan></text></g>
<g transform="translate(1633,1148.6) scale(1.0,1)"><text x="0" y="0" font-family="Liberation Sans" font-size="11.2" font-weight="normal" font-style="normal" fill="#1e1e1e" text-anchor="middle" stroke="#1e1e1e" stroke-width="0.25" >COMUNE DI MASSA</text></g>
<g transform="translate(1633,1162) scale(1.0,1)"><text x="0" y="0" font-family="Liberation Sans" font-size="11.2" font-weight="normal" font-style="normal" fill="#1e1e1e" text-anchor="middle" stroke="#1e1e1e" stroke-width="0.25" >STAZIONE DI POSTA - EX MATTATOIO</text></g>
<g transform="translate(1841,1026.5) scale(1.0,1)"><text x="0" y="0" font-family="Liberation Sans" font-size="11.2" font-weight="normal" font-style="normal" fill="#1e1e1e" text-anchor="middle" stroke="#1e1e1e" stroke-width="0.25" >PROGETTO ESECUTIVO</text></g>
<g transform="translate(1841,1061.5) scale(1.0,1)"><text x="0" y="0" font-family="Liberation Sans" font-size="11.2" font-weight="normal" font-style="normal" fill="#1e1e1e" text-anchor="middle" stroke="#1e1e1e" stroke-width="0.25" >PIANTE</text></g>
<g transform="translate(1841,1075.1) scale(1.0,1)"><text x="0" y="0" font-family="Liberation Sans" font-size="11.2" font-weight="normal" font-style="normal" fill="#1e1e1e" text-anchor="middle" stroke="#1e1e1e" stroke-width="0.25" >PROSPETTI</text></g>
<g transform="translate(1841,1088.7) scale(1.0,1)"><text x="0" y="0" font-family="Liberation Sans" font-size="11.2" font-weight="normal" font-style="normal" fill="#1e1e1e" text-anchor="middle" stroke="#1e1e1e" stroke-width="0.25" >SEZIONI</text></g>
<g transform="translate(1841,1102.3) scale(1.0,1)"><text x="0" y="0" font-family="Liberation Sans" font-size="11.2" font-weight="normal" font-style="normal" fill="#1e1e1e" text-anchor="middle" stroke="#1e1e1e" stroke-width="0.25" >STATO DI PROGETTO</text></g>
<g transform="translate(1841,1185.4) scale(1.0,1)"><text x="0" y="0" font-family="Liberation Sans" font-size="11.2" font-weight="normal" font-style="normal" fill="#1e1e1e" text-anchor="middle" stroke="#1e1e1e" stroke-width="0.25" >SCALA 1 : 100</text></g>
<g transform="translate(1847.5,1252.9) scale(1.0,1)"><text x="0" y="0" font-family="Liberation Sans" font-size="11.4" font-weight="normal" font-style="normal" fill="#1e1e1e" text-anchor="middle" stroke="#1e1e1e" stroke-width="0.2" >E0.AR.007</text></g>
<rect x="1537.7" y="1168.2" width="55.1" height="35.4" stroke="#333" stroke-width="1.5" fill="none" />
<rect x="1561" y="1179" width="9" height="12" fill="#2a5aa8" />
<rect x="1563" y="1181" width="5" height="8" fill="#c8b040" />
<polygon points="1560,1179 1562,1173 1565,1176 1568,1173 1571,1179" fill="#d9b030" stroke="none" stroke-width="0" />
<text x="1565" y="1196" font-family="Liberation Sans" font-size="3.6" font-weight="normal" font-style="normal" fill="#555" text-anchor="middle" >COMUNE DI MASSA</text>
<rect x="1675.3" y="1164.7" width="55.9" height="38.9" stroke="#333" stroke-width="1.5" fill="none" />
<polygon points="1686,1171 1689,1171 1696,1187 1695,1188" fill="#5aa870" stroke="none" stroke-width="0" />
<rect x="1687" y="1171" width="1.5" height="17" fill="#5aa870" />
<rect x="1701" y="1171" width="1.5" height="17" fill="#c8c8c8" />
<polygon points="1695,1188 1701,1171 1702,1171 1696,1188" fill="#c8c8c8" stroke="none" stroke-width="0" />
<polygon points="1705,1188 1711,1188 1711,1181" fill="#d04040" stroke="none" stroke-width="0" />
<rect x="1712" y="1181" width="5" height="6" fill="#999" />
<text x="1703" y="1194" font-family="Liberation Sans" font-size="3.6" font-weight="normal" font-style="normal" fill="#666" text-anchor="middle" >MINISTERO del LAVORO</text>
<text x="1703" y="1198" font-family="Liberation Sans" font-size="3.6" font-weight="normal" font-style="normal" fill="#666" text-anchor="middle" >e delle POLITICHE SOCIALI</text>
<rect x="1513.7" y="1211.2" width="99.9" height="25.6" stroke="#555" stroke-width="1.5" fill="none" />
<rect x="1517" y="1214" width="29" height="20" fill="#1453a8" />
<circle cx="1537.5" cy="1224.0" r="0.7" fill="#e8d030"/>
<circle cx="1536.7" cy="1227.0" r="0.7" fill="#e8d030"/>
<circle cx="1534.5" cy="1229.2" r="0.7" fill="#e8d030"/>
<circle cx="1531.5" cy="1230.0" r="0.7" fill="#e8d030"/>
<circle cx="1528.5" cy="1229.2" r="0.7" fill="#e8d030"/>
<circle cx="1526.3" cy="1227.0" r="0.7" fill="#e8d030"/>
<circle cx="1525.5" cy="1224.0" r="0.7" fill="#e8d030"/>
<circle cx="1526.3" cy="1221.0" r="0.7" fill="#e8d030"/>
<circle cx="1528.5" cy="1218.8" r="0.7" fill="#e8d030"/>
<circle cx="1531.5" cy="1218.0" r="0.7" fill="#e8d030"/>
<circle cx="1534.5" cy="1218.8" r="0.7" fill="#e8d030"/>
<circle cx="1536.7" cy="1221.0" r="0.7" fill="#e8d030"/>
<text x="1549" y="1219" font-family="Liberation Sans" font-size="4.8" font-weight="bold" font-style="normal" fill="#3a6ab0" text-anchor="start" >Finanziato</text>
<text x="1549" y="1226" font-family="Liberation Sans" font-size="4.8" font-weight="bold" font-style="normal" fill="#3a6ab0" text-anchor="start" >dall'Unione europea</text>
<text x="1549" y="1233" font-family="Liberation Sans" font-size="4.8" font-weight="normal" font-style="normal" fill="#888" text-anchor="start" >NextGenerationEU</text>
<rect x="1659.2" y="1211.2" width="86.7" height="26.6" stroke="#555" stroke-width="1.5" fill="none" />
<rect x="1673" y="1215" width="6" height="16" fill="#2aa050" />
<rect x="1679" y="1215" width="5" height="16" fill="#ddd" />
<rect x="1684" y="1213" width="6" height="13" fill="#e02a2a" />
<rect x="1667" y="1219" width="2" height="2" fill="#2aa050" />
<rect x="1669" y="1223" width="2" height="2" fill="#2aa050" />
<rect x="1667" y="1227" width="2" height="2" fill="#2aa050" />
<text x="1694" y="1227" font-family="Liberation Serif" font-size="8.5" font-weight="bold" font-style="normal" fill="#2a3a8a" text-anchor="start" textLength="48" lengthAdjust="spacingAndGlyphs">Italiadomani</text>
<text x="1695" y="1232" font-family="Liberation Sans" font-size="3" font-weight="normal" font-style="normal" fill="#4a6aba" text-anchor="start" >PIANO NAZIONALE</text>
<g transform="translate(1495.8,1249.2) scale(0.9,1)"><text x="0" y="0" font-family="Liberation Sans" font-size="6.8" font-weight="normal" font-style="normal" fill="#222" text-anchor="start" stroke="#222" stroke-width="0.15" >Data</text></g>
<g transform="translate(1495.8,1262.8) scale(0.9,1)"><text x="0" y="0" font-family="Liberation Sans" font-size="6.8" font-weight="normal" font-style="normal" fill="#222" text-anchor="start" stroke="#222" stroke-width="0.15" >26 / 8 / 2024</text></g>
<g transform="translate(1546.5,1249.2) scale(0.9,1)"><text x="0" y="0" font-family="Liberation Sans" font-size="6.8" font-weight="normal" font-style="normal" fill="#222" text-anchor="start" stroke="#222" stroke-width="0.15" >ID documento</text></g>
<g transform="translate(1546.5,1262.8) scale(0.9,1)"><text x="0" y="0" font-family="Liberation Sans" font-size="6.8" font-weight="normal" font-style="normal" fill="#222" text-anchor="start" stroke="#222" stroke-width="0.15" >1087.02.E0.AR.007</text></g>
<g transform="translate(1634,1249.2) scale(0.9,1)"><text x="0" y="0" font-family="Liberation Sans" font-size="6.8" font-weight="normal" font-style="normal" fill="#222" text-anchor="start" stroke="#222" stroke-width="0.15" >Rev.</text></g>
<g transform="translate(1634,1262.8) scale(0.9,1)"><text x="0" y="0" font-family="Liberation Sans" font-size="6.8" font-weight="normal" font-style="normal" fill="#222" text-anchor="start" stroke="#222" stroke-width="0.15" >01</text></g>
<g transform="translate(1658,1249.2) scale(0.9,1)"><text x="0" y="0" font-family="Liberation Sans" font-size="6.8" font-weight="normal" font-style="normal" fill="#222" text-anchor="start" stroke="#222" stroke-width="0.15" >Status</text></g>
<g transform="translate(1658,1262.8) scale(0.9,1)"><text x="0" y="0" font-family="Liberation Sans" font-size="6.8" font-weight="normal" font-style="normal" fill="#222" text-anchor="start" stroke="#222" stroke-width="0.15" >00</text></g>
<g transform="translate(1704,1249.2) scale(0.9,1)"><text x="0" y="0" font-family="Liberation Sans" font-size="6.8" font-weight="normal" font-style="normal" fill="#222" text-anchor="start" stroke="#222" stroke-width="0.15" >Validazione n°</text></g>
<g transform="translate(1704,1262.8) scale(0.9,1)"><text x="0" y="0" font-family="Liberation Sans" font-size="6.8" font-weight="normal" font-style="normal" fill="#222" text-anchor="start" stroke="#222" stroke-width="0.15" >00</text></g>
<g transform="translate(1562,1272.5) scale(0.9,1)"><text x="0" y="0" font-family="Liberation Sans" font-size="6.8" font-weight="normal" font-style="normal" fill="#222" text-anchor="middle" stroke="#222" stroke-width="0.15" >Il Responsabile Unico del Progetto</text></g>
<g transform="translate(1700,1272.5) scale(0.9,1)"><text x="0" y="0" font-family="Liberation Sans" font-size="6.8" font-weight="normal" font-style="normal" fill="#222" text-anchor="middle" stroke="#222" stroke-width="0.15" >Il Tecnico Incaricato</text></g>
<g transform="translate(1839,1272.5) scale(0.9,1)"><text x="0" y="0" font-family="Liberation Sans" font-size="6.8" font-weight="normal" font-style="normal" fill="#222" text-anchor="middle" stroke="#222" stroke-width="0.15" >Il Progettista</text></g>
<g transform="translate(1563,1296.5) scale(0.95,1)"><text x="0" y="0" font-family="Liberation Sans" font-size="8.4" font-weight="normal" font-style="normal" fill="#222" text-anchor="middle" stroke="#222" stroke-width="0.15" >Dott. Arch. <tspan font-weight="bold" font-style="italic">MORENO FURIA</tspan></text></g>
<g transform="translate(1700,1296.5) scale(0.95,1)"><text x="0" y="0" font-family="Liberation Sans" font-size="8.4" font-weight="normal" font-style="normal" fill="#222" text-anchor="middle" stroke="#222" stroke-width="0.15" >Dott. Arch. <tspan font-weight="bold" font-style="italic">FRANCO TAZZINI</tspan></text></g>
<g transform="translate(1839,1296.5) scale(0.95,1)"><text x="0" y="0" font-family="Liberation Sans" font-size="8.4" font-weight="normal" font-style="normal" fill="#222" text-anchor="middle" stroke="#222" stroke-width="0.15" >Dott. Arch. <tspan font-weight="bold" font-style="italic">FRANCO TAZZINI</tspan></text></g>
<rect x="438" y="473" width="1086" height="423" fill="#fff" />
<rect x="531.5" y="573.3" width="81.5" height="54" fill="#0e4aa3" />
<polygon points="590.25,597.7 590.86,599.46 592.72,599.5 591.24,600.62 591.78,602.4 590.25,601.34 588.72,602.4 589.26,600.62 587.78,599.5 589.64,599.46" fill="#f5d800" stroke="none" stroke-width="0" />
<polygon points="587.84,606.7 588.45,608.46 590.31,608.5 588.83,609.62 589.37,611.4 587.84,610.34 586.31,611.4 586.85,609.62 585.37,608.5 587.23,608.46" fill="#f5d800" stroke="none" stroke-width="0" />
<polygon points="581.25,613.29 581.86,615.05 583.72,615.09 582.24,616.21 582.78,617.99 581.25,616.93 579.72,617.99 580.26,616.21 578.78,615.09 580.64,615.05" fill="#f5d800" stroke="none" stroke-width="0" />
<polygon points="572.25,615.7 572.86,617.46 574.72,617.5 573.24,618.62 573.78,620.4 572.25,619.34 570.72,620.4 571.26,618.62 569.78,617.5 571.64,617.46" fill="#f5d800" stroke="none" stroke-width="0" />
<polygon points="563.25,613.29 563.86,615.05 565.72,615.09 564.24,616.21 564.78,617.99 563.25,616.93 561.72,617.99 562.26,616.21 560.78,615.09 562.64,615.05" fill="#f5d800" stroke="none" stroke-width="0" />
<polygon points="556.66,606.7 557.27,608.46 559.13,608.5 557.65,609.62 558.19,611.4 556.66,610.34 555.13,611.4 555.67,609.62 554.19,608.5 556.05,608.46" fill="#f5d800" stroke="none" stroke-width="0" />
<polygon points="554.25,597.7 554.86,599.46 556.72,599.5 555.24,600.62 555.78,602.4 554.25,601.34 552.72,602.4 553.26,600.62 551.78,599.5 553.64,599.46" fill="#f5d800" stroke="none" stroke-width="0" />
<polygon points="556.66,588.7 557.27,590.46 559.13,590.5 557.65,591.62 558.19,593.4 556.66,592.34 555.13,593.4 555.67,591.62 554.19,590.5 556.05,590.46" fill="#f5d800" stroke="none" stroke-width="0" />
<polygon points="563.25,582.11 563.86,583.87 565.72,583.91 564.24,585.03 564.78,586.81 563.25,585.75 561.72,586.81 562.26,585.03 560.78,583.91 562.64,583.87" fill="#f5d800" stroke="none" stroke-width="0" />
<polygon points="572.25,579.7 572.86,581.46 574.72,581.5 573.24,582.62 573.78,584.4 572.25,583.34 570.72,584.4 571.26,582.62 569.78,581.5 571.64,581.46" fill="#f5d800" stroke="none" stroke-width="0" />
<polygon points="581.25,582.11 581.86,583.87 583.72,583.91 582.24,585.03 582.78,586.81 581.25,585.75 579.72,586.81 580.26,585.03 578.78,583.91 580.64,583.87" fill="#f5d800" stroke="none" stroke-width="0" />
<polygon points="587.84,588.7 588.45,590.46 590.31,590.5 588.83,591.62 589.37,593.4 587.84,592.34 586.31,593.4 586.85,591.62 585.37,590.5 587.23,590.46" fill="#f5d800" stroke="none" stroke-width="0" />
<text x="622.5" y="585" font-family="Liberation Sans" font-size="16.8" font-weight="bold" font-style="normal" fill="#1b4f9c" text-anchor="start" >Finanziato</text>
<text x="622.5" y="605.5" font-family="Liberation Sans" font-size="16.8" font-weight="bold" font-style="normal" fill="#1b4f9c" text-anchor="start" >dall'Unione europea</text>
<text x="622.5" y="627" font-family="Liberation Sans" font-size="14.5" font-weight="normal" font-style="normal" fill="#5a5a5a" text-anchor="start" >NextGenerationEU</text>
<polygon points="859.3,586 872.6,586 872.6,619 859.3,619" fill="#e8e8e8" stroke="none" stroke-width="0" />
<polygon points="848,579 862.4,581 862.4,614 848,614.7" fill="#168a3c" stroke="none" stroke-width="0" />
<rect x="859" y="587" width="3.4" height="26" fill="#22dd55" />
<polygon points="869.6,575 884,577 884,603 869.6,605" fill="#e30000" stroke="none" stroke-width="0" />
<rect x="869.6" y="587" width="2.5" height="18" fill="#b00000" />
<rect x="833" y="587" width="3.5" height="3.5" fill="#168a3c" />
<rect x="838" y="592" width="3.5" height="3.5" fill="#168a3c" />
<rect x="842" y="600" width="3.5" height="3.5" fill="#168a3c" />
<rect x="833" y="597" width="3.5" height="3.5" fill="#22cc55" />
<rect x="837" y="609" width="3.5" height="3.5" fill="#22cc55" />
<rect x="846" y="583" width="3.5" height="3.5" fill="#22cc55" />
<rect x="846" y="604" width="3.5" height="3.5" fill="#22cc55" />
<rect x="846" y="592" width="3.5" height="3.5" fill="#168a3c" />
<rect x="846" y="609" width="3.5" height="3.5" fill="#168a3c" />
<rect x="861" y="577" width="2.6" height="2.6" fill="#c01010" />
<rect x="864" y="581" width="2.6" height="2.6" fill="#c01010" />
<rect x="864" y="587" width="2.6" height="2.6" fill="#c01010" />
<rect x="866" y="594" width="2.6" height="2.6" fill="#c01010" />
<rect x="867" y="599" width="2.6" height="2.6" fill="#c01010" />
<text x="889" y="603.5" font-family="Liberation Serif" font-size="17.5" font-weight="normal" font-style="normal" fill="#2a3ba6" text-anchor="start" textLength="97" lengthAdjust="spacingAndGlyphs">Italia<tspan font-weight="bold" fill="#0b2a9c">domani</tspan></text>
<text x="890" y="611" font-family="Liberation Sans" font-size="4.2" font-weight="bold" font-style="normal" fill="#3b57a8" text-anchor="start" >PIANO NAZIONALE</text>
<text x="890" y="616" font-family="Liberation Sans" font-size="4.2" font-weight="bold" font-style="normal" fill="#3b57a8" text-anchor="start" >DI RIPRESA E RESILIENZA</text>
<polygon points="1030,582 1040.0,582 1060.0,623.0 1057.0,625.0" fill="#1a9a49" stroke="none" stroke-width="0" />
<polygon points="1033.0,582 1036.0,582 1036.0,625.0 1033.0,625.0" fill="#1a9a49" stroke="none" stroke-width="0" />
<rect x="1030" y="623.0" width="12.0" height="2.0" fill="#1a9a49" />
<rect x="1030" y="582" width="12.0" height="1.5" fill="#1a9a49" />
<polygon points="1057.0,625.0 1075.0,583.0 1077.0,583.0 1060.0,625.0" fill="#c8c8c8" stroke="none" stroke-width="0" />
<polygon points="1072.0,582 1083.0,582 1083.0,625.0 1072.0,625.0" fill="none" stroke="none" stroke-width="0" />
<rect x="1075.0" y="582" width="4.0" height="43.0" fill="#c8c8c8" />
<rect x="1070.0" y="582" width="14.0" height="1.5" fill="#c8c8c8" />
<rect x="1068.0" y="623.5" width="18.0" height="1.5" fill="#c8c8c8" />
<polygon points="1087.0,625.0 1102.0,625.0 1103.0,610.0 1099.0,617.0" fill="#e0262b" stroke="none" stroke-width="0" />
<circle cx="1117" cy="616.5" r="7" fill="none" stroke="#2a8a4a" stroke-width="2"/>
<circle cx="1117" cy="616.5" r="4" fill="none" stroke="#555" stroke-width="1.5"/>
<path d="M1111,622 Q1117,626 1123,622" stroke="#c33" stroke-width="1.5" fill="none"/>
<text x="1130" y="616" font-family="Liberation Serif" font-size="8" font-weight="normal" font-style="normal" fill="#222" text-anchor="start" stroke="#222" stroke-width="0.35" textLength="106" lengthAdjust="spacingAndGlyphs">MINISTERO del LAVORO</text>
<text x="1130" y="625.5" font-family="Liberation Serif" font-size="8" font-weight="normal" font-style="normal" fill="#222" text-anchor="start" stroke="#222" stroke-width="0.35" textLength="106" lengthAdjust="spacingAndGlyphs">e delle POLITICHE SOCIALI</text>
<path d="M1384.0,553.0 C1406.0,570.0 1400.0,606.0 1365.0,614.0" stroke="#5a3a1a" stroke-width="1.6" fill="none" />
<ellipse cx="1388.0" cy="551.8" rx="4.6" ry="2.2" fill="#2d8a22" transform="rotate(-16.0 1388.0 551.8)"/>
<ellipse cx="1388.0" cy="551.2" rx="2.6" ry="0.9" fill="#62b83a" transform="rotate(-16.0 1388.0 551.8)"/>
<ellipse cx="1383.7" cy="557.2" rx="4.6" ry="2.2" fill="#2d8a22" transform="rotate(94.0 1383.7 557.2)"/>
<ellipse cx="1383.7" cy="556.6" rx="2.6" ry="0.9" fill="#62b83a" transform="rotate(94.0 1383.7 557.2)"/>
<ellipse cx="1393.1" cy="557.3" rx="4.6" ry="2.2" fill="#2d8a22" transform="rotate(-4.8 1393.1 557.3)"/>
<ellipse cx="1393.1" cy="556.7" rx="2.6" ry="0.9" fill="#62b83a" transform="rotate(-4.8 1393.1 557.3)"/>
<ellipse cx="1387.8" cy="561.7" rx="4.6" ry="2.2" fill="#2d8a22" transform="rotate(105.2 1387.8 561.7)"/>
<ellipse cx="1387.8" cy="561.1" rx="2.6" ry="0.9" fill="#62b83a" transform="rotate(105.2 1387.8 561.7)"/>
<ellipse cx="1396.8" cy="563.3" rx="4.6" ry="2.2" fill="#2d8a22" transform="rotate(6.5 1396.8 563.3)"/>
<ellipse cx="1396.8" cy="562.7" rx="2.6" ry="0.9" fill="#62b83a" transform="rotate(6.5 1396.8 563.3)"/>
<ellipse cx="1390.8" cy="566.6" rx="4.6" ry="2.2" fill="#2d8a22" transform="rotate(116.5 1390.8 566.6)"/>
<ellipse cx="1390.8" cy="566.0" rx="2.6" ry="0.9" fill="#62b83a" transform="rotate(116.5 1390.8 566.6)"/>
<ellipse cx="1399.2" cy="569.9" rx="4.6" ry="2.2" fill="#2d8a22" transform="rotate(17.7 1399.2 569.9)"/>
<ellipse cx="1399.2" cy="569.3" rx="2.6" ry="0.9" fill="#62b83a" transform="rotate(17.7 1399.2 569.9)"/>
<ellipse cx="1392.7" cy="571.9" rx="4.6" ry="2.2" fill="#2d8a22" transform="rotate(127.7 1392.7 571.9)"/>
<ellipse cx="1392.7" cy="571.3" rx="2.6" ry="0.9" fill="#62b83a" transform="rotate(127.7 1392.7 571.9)"/>
<ellipse cx="1400.3" cy="576.6" rx="4.6" ry="2.2" fill="#2d8a22" transform="rotate(28.8 1400.3 576.6)"/>
<ellipse cx="1400.3" cy="576.0" rx="2.6" ry="0.9" fill="#62b83a" transform="rotate(28.8 1400.3 576.6)"/>
<ellipse cx="1393.5" cy="577.4" rx="4.6" ry="2.2" fill="#2d8a22" transform="rotate(138.8 1393.5 577.4)"/>
<ellipse cx="1393.5" cy="576.8" rx="2.6" ry="0.9" fill="#62b83a" transform="rotate(138.8 1393.5 577.4)"/>
<ellipse cx="1400.1" cy="583.4" rx="4.6" ry="2.2" fill="#2d8a22" transform="rotate(39.8 1400.1 583.4)"/>
<ellipse cx="1400.1" cy="582.8" rx="2.6" ry="0.9" fill="#62b83a" transform="rotate(39.8 1400.1 583.4)"/>
<ellipse cx="1393.2" cy="582.9" rx="4.6" ry="2.2" fill="#2d8a22" transform="rotate(149.8 1393.2 582.9)"/>
<ellipse cx="1393.2" cy="582.3" rx="2.6" ry="0.9" fill="#62b83a" transform="rotate(149.8 1393.2 582.9)"/>
<ellipse cx="1398.5" cy="590.1" rx="4.6" ry="2.2" fill="#2d8a22" transform="rotate(50.8 1398.5 590.1)"/>
<ellipse cx="1398.5" cy="589.5" rx="2.6" ry="0.9" fill="#62b83a" transform="rotate(50.8 1398.5 590.1)"/>
<ellipse cx="1391.9" cy="588.3" rx="4.6" ry="2.2" fill="#2d8a22" transform="rotate(160.8 1391.9 588.3)"/>
<ellipse cx="1391.9" cy="587.7" rx="2.6" ry="0.9" fill="#62b83a" transform="rotate(160.8 1391.9 588.3)"/>
<ellipse cx="1395.7" cy="596.5" rx="4.6" ry="2.2" fill="#2d8a22" transform="rotate(61.7 1395.7 596.5)"/>
<ellipse cx="1395.7" cy="595.9" rx="2.6" ry="0.9" fill="#62b83a" transform="rotate(61.7 1395.7 596.5)"/>
<ellipse cx="1389.6" cy="593.4" rx="4.6" ry="2.2" fill="#2d8a22" transform="rotate(171.7 1389.6 593.4)"/>
<ellipse cx="1389.6" cy="592.8" rx="2.6" ry="0.9" fill="#62b83a" transform="rotate(171.7 1389.6 593.4)"/>
<ellipse cx="1391.6" cy="602.4" rx="4.6" ry="2.2" fill="#2d8a22" transform="rotate(72.7 1391.6 602.4)"/>
<ellipse cx="1391.6" cy="601.8" rx="2.6" ry="0.9" fill="#62b83a" transform="rotate(72.7 1391.6 602.4)"/>
<ellipse cx="1386.2" cy="598.2" rx="4.6" ry="2.2" fill="#2d8a22" transform="rotate(182.7 1386.2 598.2)"/>
<ellipse cx="1386.2" cy="597.6" rx="2.6" ry="0.9" fill="#62b83a" transform="rotate(182.7 1386.2 598.2)"/>
<ellipse cx="1386.3" cy="607.7" rx="4.6" ry="2.2" fill="#2d8a22" transform="rotate(83.5 1386.3 607.7)"/>
<ellipse cx="1386.3" cy="607.1" rx="2.6" ry="0.9" fill="#62b83a" transform="rotate(83.5 1386.3 607.7)"/>
<ellipse cx="1381.7" cy="602.5" rx="4.6" ry="2.2" fill="#2d8a22" transform="rotate(193.5 1381.7 602.5)"/>
<ellipse cx="1381.7" cy="601.9" rx="2.6" ry="0.9" fill="#62b83a" transform="rotate(193.5 1381.7 602.5)"/>
<ellipse cx="1379.8" cy="612.1" rx="4.6" ry="2.2" fill="#2d8a22" transform="rotate(93.9 1379.8 612.1)"/>
<ellipse cx="1379.8" cy="611.5" rx="2.6" ry="0.9" fill="#62b83a" transform="rotate(93.9 1379.8 612.1)"/>
<ellipse cx="1376.2" cy="606.2" rx="4.6" ry="2.2" fill="#2d8a22" transform="rotate(203.9 1376.2 606.2)"/>
<ellipse cx="1376.2" cy="605.6" rx="2.6" ry="0.9" fill="#62b83a" transform="rotate(203.9 1376.2 606.2)"/>
<ellipse cx="1372.1" cy="615.5" rx="4.6" ry="2.2" fill="#2d8a22" transform="rotate(103.9 1372.1 615.5)"/>
<ellipse cx="1372.1" cy="614.9" rx="2.6" ry="0.9" fill="#62b83a" transform="rotate(103.9 1372.1 615.5)"/>
<ellipse cx="1369.7" cy="609.1" rx="4.6" ry="2.2" fill="#2d8a22" transform="rotate(213.9 1369.7 609.1)"/>
<ellipse cx="1369.7" cy="608.5" rx="2.6" ry="0.9" fill="#62b83a" transform="rotate(213.9 1369.7 609.1)"/>
<ellipse cx="1367.4" cy="610.6" rx="4.6" ry="2.2" fill="#2d8a22" transform="rotate(-55.0 1367.4 610.6)"/>
<ellipse cx="1367.4" cy="610.0" rx="2.6" ry="0.9" fill="#62b83a" transform="rotate(-55.0 1367.4 610.6)"/>
<ellipse cx="1367.4" cy="617.4" rx="4.6" ry="2.2" fill="#2d8a22" transform="rotate(55.0 1367.4 617.4)"/>
<ellipse cx="1367.4" cy="616.8" rx="2.6" ry="0.9" fill="#62b83a" transform="rotate(55.0 1367.4 617.4)"/>
<path d="M1340.0,553.0 C1318.0,570.0 1324.0,606.0 1359.0,614.0" stroke="#5a3a1a" stroke-width="1.6" fill="none" />
<ellipse cx="1340.3" cy="557.2" rx="4.6" ry="2.2" fill="#2d8a22" transform="rotate(86.0 1340.3 557.2)"/>
<ellipse cx="1340.3" cy="556.6" rx="2.6" ry="0.9" fill="#62b83a" transform="rotate(86.0 1340.3 557.2)"/>
<ellipse cx="1336.0" cy="551.8" rx="4.6" ry="2.2" fill="#2d8a22" transform="rotate(196.0 1336.0 551.8)"/>
<ellipse cx="1336.0" cy="551.2" rx="2.6" ry="0.9" fill="#62b83a" transform="rotate(196.0 1336.0 551.8)"/>
<ellipse cx="1336.2" cy="561.7" rx="4.6" ry="2.2" fill="#2d8a22" transform="rotate(74.8 1336.2 561.7)"/>
<ellipse cx="1336.2" cy="561.1" rx="2.6" ry="0.9" fill="#62b83a" transform="rotate(74.8 1336.2 561.7)"/>
<ellipse cx="1330.9" cy="557.3" rx="4.6" ry="2.2" fill="#2d8a22" transform="rotate(184.8 1330.9 557.3)"/>
<ellipse cx="1330.9" cy="556.7" rx="2.6" ry="0.9" fill="#62b83a" transform="rotate(184.8 1330.9 557.3)"/>
<ellipse cx="1333.2" cy="566.6" rx="4.6" ry="2.2" fill="#2d8a22" transform="rotate(63.5 1333.2 566.6)"/>
<ellipse cx="1333.2" cy="566.0" rx="2.6" ry="0.9" fill="#62b83a" transform="rotate(63.5 1333.2 566.6)"/>
<ellipse cx="1327.2" cy="563.3" rx="4.6" ry="2.2" fill="#2d8a22" transform="rotate(173.5 1327.2 563.3)"/>
<ellipse cx="1327.2" cy="562.7" rx="2.6" ry="0.9" fill="#62b83a" transform="rotate(173.5 1327.2 563.3)"/>
<ellipse cx="1331.3" cy="571.9" rx="4.6" ry="2.2" fill="#2d8a22" transform="rotate(52.3 1331.3 571.9)"/>
<ellipse cx="1331.3" cy="571.3" rx="2.6" ry="0.9" fill="#62b83a" transform="rotate(52.3 1331.3 571.9)"/>
<ellipse cx="1324.8" cy="569.9" rx="4.6" ry="2.2" fill="#2d8a22" transform="rotate(162.3 1324.8 569.9)"/>
<ellipse cx="1324.8" cy="569.3" rx="2.6" ry="0.9" fill="#62b83a" transform="rotate(162.3 1324.8 569.9)"/>
<ellipse cx="1330.5" cy="577.4" rx="4.6" ry="2.2" fill="#2d8a22" transform="rotate(41.2 1330.5 577.4)"/>
<ellipse cx="1330.5" cy="576.8" rx="2.6" ry="0.9" fill="#62b83a" transform="rotate(41.2 1330.5 577.4)"/>
<ellipse cx="1323.7" cy="576.6" rx="4.6" ry="2.2" fill="#2d8a22" transform="rotate(151.2 1323.7 576.6)"/>
<ellipse cx="1323.7" cy="576.0" rx="2.6" ry="0.9" fill="#62b83a" transform="rotate(151.2 1323.7 576.6)"/>
<ellipse cx="1330.8" cy="582.9" rx="4.6" ry="2.2" fill="#2d8a22" transform="rotate(30.2 1330.8 582.9)"/>
<ellipse cx="1330.8" cy="582.3" rx="2.6" ry="0.9" fill="#62b83a" transform="rotate(30.2 1330.8 582.9)"/>
<ellipse cx="1323.9" cy="583.4" rx="4.6" ry="2.2" fill="#2d8a22" transform="rotate(140.2 1323.9 583.4)"/>
<ellipse cx="1323.9" cy="582.8" rx="2.6" ry="0.9" fill="#62b83a" transform="rotate(140.2 1323.9 583.4)"/>
<ellipse cx="1332.1" cy="588.3" rx="4.6" ry="2.2" fill="#2d8a22" transform="rotate(19.2 1332.1 588.3)"/>
<ellipse cx="1332.1" cy="587.7" rx="2.6" ry="0.9" fill="#62b83a" transform="rotate(19.2 1332.1 588.3)"/>
<ellipse cx="1325.5" cy="590.1" rx="4.6" ry="2.2" fill="#2d8a22" transform="rotate(129.2 1325.5 590.1)"/>
<ellipse cx="1325.5" cy="589.5" rx="2.6" ry="0.9" fill="#62b83a" transform="rotate(129.2 1325.5 590.1)"/>
<ellipse cx="1334.4" cy="593.4" rx="4.6" ry="2.2" fill="#2d8a22" transform="rotate(8.3 1334.4 593.4)"/>
<ellipse cx="1334.4" cy="592.8" rx="2.6" ry="0.9" fill="#62b83a" transform="rotate(8.3 1334.4 593.4)"/>
<ellipse cx="1328.3" cy="596.5" rx="4.6" ry="2.2" fill="#2d8a22" transform="rotate(118.3 1328.3 596.5)"/>
<ellipse cx="1328.3" cy="595.9" rx="2.6" ry="0.9" fill="#62b83a" transform="rotate(118.3 1328.3 596.5)"/>
<ellipse cx="1337.8" cy="598.2" rx="4.6" ry="2.2" fill="#2d8a22" transform="rotate(-2.7 1337.8 598.2)"/>
<ellipse cx="1337.8" cy="597.6" rx="2.6" ry="0.9" fill="#62b83a" transform="rotate(-2.7 1337.8 598.2)"/>
<ellipse cx="1332.4" cy="602.4" rx="4.6" ry="2.2" fill="#2d8a22" transform="rotate(107.3 1332.4 602.4)"/>
<ellipse cx="1332.4" cy="601.8" rx="2.6" ry="0.9" fill="#62b83a" transform="rotate(107.3 1332.4 602.4)"/>
<ellipse cx="1342.3" cy="602.5" rx="4.6" ry="2.2" fill="#2d8a22" transform="rotate(-13.5 1342.3 602.5)"/>
<ellipse cx="1342.3" cy="601.9" rx="2.6" ry="0.9" fill="#62b83a" transform="rotate(-13.5 1342.3 602.5)"/>
<ellipse cx="1337.7" cy="607.7" rx="4.6" ry="2.2" fill="#2d8a22" transform="rotate(96.5 1337.7 607.7)"/>
<ellipse cx="1337.7" cy="607.1" rx="2.6" ry="0.9" fill="#62b83a" transform="rotate(96.5 1337.7 607.7)"/>
<ellipse cx="1347.8" cy="606.2" rx="4.6" ry="2.2" fill="#2d8a22" transform="rotate(-23.9 1347.8 606.2)"/>
<ellipse cx="1347.8" cy="605.6" rx="2.6" ry="0.9" fill="#62b83a" transform="rotate(-23.9 1347.8 606.2)"/>
<ellipse cx="1344.2" cy="612.1" rx="4.6" ry="2.2" fill="#2d8a22" transform="rotate(86.1 1344.2 612.1)"/>
<ellipse cx="1344.2" cy="611.5" rx="2.6" ry="0.9" fill="#62b83a" transform="rotate(86.1 1344.2 612.1)"/>
<ellipse cx="1354.3" cy="609.1" rx="4.6" ry="2.2" fill="#2d8a22" transform="rotate(-33.9 1354.3 609.1)"/>
<ellipse cx="1354.3" cy="608.5" rx="2.6" ry="0.9" fill="#62b83a" transform="rotate(-33.9 1354.3 609.1)"/>
<ellipse cx="1351.9" cy="615.5" rx="4.6" ry="2.2" fill="#2d8a22" transform="rotate(76.1 1351.9 615.5)"/>
<ellipse cx="1351.9" cy="614.9" rx="2.6" ry="0.9" fill="#62b83a" transform="rotate(76.1 1351.9 615.5)"/>
<ellipse cx="1361.4" cy="610.6" rx="4.6" ry="2.2" fill="#2d8a22" transform="rotate(-55.0 1361.4 610.6)"/>
<ellipse cx="1361.4" cy="610.0" rx="2.6" ry="0.9" fill="#62b83a" transform="rotate(-55.0 1361.4 610.6)"/>
<ellipse cx="1361.4" cy="617.4" rx="4.6" ry="2.2" fill="#2d8a22" transform="rotate(55.0 1361.4 617.4)"/>
<ellipse cx="1361.4" cy="616.8" rx="2.6" ry="0.9" fill="#62b83a" transform="rotate(55.0 1361.4 617.4)"/>
<path d="M1352,612 L1343,626 M1372,612 L1381,626 M1356,608 L1378,624 M1368,608 L1346,624" stroke="#7a4a3a" stroke-width="1.3" fill="none" />
<rect x="1343.7" y="547.1" width="36.3" height="47.2" fill="#e30a0a" stroke="#f0f0f0" stroke-width="0.6"/>
<path d="M1345.5,549 L1378.2,592.5 M1378.2,549 L1345.5,592.5" stroke="#f2e030" stroke-width="4.2" fill="none" />
<line x1="1361.8" y1="560" x2="1361.8" y2="590" stroke="#e8e8e8" stroke-width="1.4" />
<polygon points="1361.8,553.1 1362.6,555.4 1365.03,555.45 1363.09,556.92 1363.8,559.25 1361.8,557.86 1359.8,559.25 1360.51,556.92 1358.57,555.45 1361.0,555.4" fill="#c8c8c8" stroke="none" stroke-width="0" />
<path d="M1342,530 Q1348,528 1351,533 L1355,529 L1358,532 L1362,524 L1366,532 L1369,529 L1373,533 Q1376,528 1382,530 L1377,540 L1347,540 Z" stroke="none" stroke-width="0" fill="#e3c040" />
<rect x="1347" y="536" width="30" height="5" fill="#d6a92a" />
<ellipse cx="1362" cy="542.6" rx="15.5" ry="2" fill="#c8322a"/>
<circle cx="1352" cy="538" r="1.1" fill="#3a9a3a"/>
<circle cx="1362" cy="538" r="1.1" fill="#c83030"/>
<circle cx="1372" cy="538" r="1.1" fill="#3a9a3a"/>
<text x="1362.5" y="641.5" font-family="Liberation Serif" font-size="10.4" font-weight="bold" font-style="normal" fill="#222" text-anchor="middle" >Medaglia d’Oro al Merito Civile</text>
<text x="1362" y="660.3" font-family="Liberation Serif" font-size="16.4" font-weight="normal" font-style="normal" fill="#111" text-anchor="middle" stroke="#111" stroke-width="0.3">COMUNE DI MASSA</text>
<text x="571.5" y="753.5" font-family="Liberation Sans" font-size="19.3" font-weight="normal" font-style="normal" fill="#1e3a8c" text-anchor="start" stroke="#1e3a8c" stroke-width="0.7" textLength="102.5" lengthAdjust="spacingAndGlyphs">COESIONE</text>
<text x="571.5" y="771.5" font-family="Liberation Sans" font-size="19.3" font-weight="normal" font-style="normal" fill="#1e3a8c" text-anchor="start" stroke="#1e3a8c" stroke-width="0.7" textLength="62" lengthAdjust="spacingAndGlyphs">ITALIA</text>
<text x="640" y="768" font-family="Liberation Sans" font-size="10.5" font-weight="bold" font-style="normal" fill="#1e3a8c" text-anchor="start" textLength="34" lengthAdjust="spacingAndGlyphs">21-27</text>
<polygon points="572,780 696,780 680,788 703,795 703,806 572,806" fill="#1c3f99" stroke="none" stroke-width="0" />
<polygon points="690,781 704,781 704,805 690,805 680,793" fill="#fff" stroke="none" stroke-width="0" />
<polygon points="688,793 703,786 703,801" fill="#1c3f99" stroke="none" stroke-width="0" />
<text x="574.5" y="791" font-family="Liberation Sans" font-size="8.6" font-weight="bold" font-style="normal" fill="#fff" text-anchor="start" textLength="100" lengthAdjust="spacingAndGlyphs">INCLUSIONE E LOTTA</text>
<text x="574.5" y="801.5" font-family="Liberation Sans" font-size="8.6" font-weight="bold" font-style="normal" fill="#fff" text-anchor="start" textLength="71" lengthAdjust="spacingAndGlyphs">ALLA POVERTÀ</text>
<polygon points="703,750 718,739 750,757 750,799 734,803 734,768" fill="#e0252b" stroke="none" stroke-width="0" />
<polygon points="690,768 705,759 725,771 725,805 712,810 712,783" fill="#1f9a48" stroke="none" stroke-width="0" />
<rect x="852.5" y="745.3" width="100.3" height="63.7" fill="#0e4aa3" />
<polygon points="924.05,773.95 924.8,776.11 927.09,776.16 925.27,777.55 925.93,779.74 924.05,778.43 922.17,779.74 922.83,777.55 921.01,776.16 923.3,776.11" fill="#f5d800" stroke="none" stroke-width="0" />
<polygon points="921.18,784.65 921.94,786.81 924.23,786.86 922.4,788.25 923.06,790.44 921.18,789.13 919.3,790.44 919.97,788.25 918.14,786.86 920.43,786.81" fill="#f5d800" stroke="none" stroke-width="0" />
<polygon points="913.35,792.48 914.1,794.65 916.39,794.69 914.57,796.08 915.23,798.27 913.35,796.96 911.47,798.27 912.13,796.08 910.31,794.69 912.6,794.65" fill="#f5d800" stroke="none" stroke-width="0" />
<polygon points="902.65,795.35 903.4,797.51 905.69,797.56 903.87,798.95 904.53,801.14 902.65,799.83 900.77,801.14 901.43,798.95 899.61,797.56 901.9,797.51" fill="#f5d800" stroke="none" stroke-width="0" />
<polygon points="891.95,792.48 892.7,794.65 894.99,794.69 893.17,796.08 893.83,798.27 891.95,796.96 890.07,798.27 890.73,796.08 888.91,794.69 891.2,794.65" fill="#f5d800" stroke="none" stroke-width="0" />
<polygon points="884.12,784.65 884.87,786.81 887.16,786.86 885.33,788.25 886.0,790.44 884.12,789.13 882.24,790.44 882.9,788.25 881.07,786.86 883.36,786.81" fill="#f5d800" stroke="none" stroke-width="0" />
<polygon points="881.25,773.95 882.0,776.11 884.29,776.16 882.47,777.55 883.13,779.74 881.25,778.43 879.37,779.74 880.03,777.55 878.21,776.16 880.5,776.11" fill="#f5d800" stroke="none" stroke-width="0" />
<polygon points="884.12,763.25 884.87,765.41 887.16,765.46 885.33,766.85 886.0,769.04 884.12,767.73 882.24,769.04 882.9,766.85 881.07,765.46 883.36,765.41" fill="#f5d800" stroke="none" stroke-width="0" />
<polygon points="891.95,755.42 892.7,757.58 894.99,757.63 893.17,759.01 893.83,761.21 891.95,759.9 890.07,761.21 890.73,759.01 888.91,757.63 891.2,757.58" fill="#f5d800" stroke="none" stroke-width="0" />
<polygon points="902.65,752.55 903.4,754.71 905.69,754.76 903.87,756.15 904.53,758.34 902.65,757.03 900.77,758.34 901.43,756.15 899.61,754.76 901.9,754.71" fill="#f5d800" stroke="none" stroke-width="0" />
<polygon points="913.35,755.42 914.1,757.58 916.39,757.63 914.57,759.01 915.23,761.21 913.35,759.9 911.47,761.21 912.13,759.01 910.31,757.63 912.6,757.58" fill="#f5d800" stroke="none" stroke-width="0" />
<polygon points="921.18,763.25 921.94,765.41 924.23,765.46 922.4,766.85 923.06,769.04 921.18,767.73 919.3,769.04 919.97,766.85 918.14,765.46 920.43,765.41" fill="#f5d800" stroke="none" stroke-width="0" />
<text x="965.5" y="769" font-family="Liberation Sans" font-size="22.4" font-weight="bold" font-style="normal" fill="#2b4a9b" text-anchor="start" >Cofinanziato</text>
<text x="965.5" y="796" font-family="Liberation Sans" font-size="22.4" font-weight="bold" font-style="normal" fill="#2b4a9b" text-anchor="start" >dall'Unione europea</text>
<polygon points="1267,726 1281.4,726 1310.2,785.04 1305.88,787.92" fill="#1a9a49" stroke="none" stroke-width="0" />
<polygon points="1271.32,726 1275.64,726 1275.64,787.92 1271.32,787.92" fill="#1a9a49" stroke="none" stroke-width="0" />
<rect x="1267" y="785.04" width="17.28" height="2.88" fill="#1a9a49" />
<rect x="1267" y="726" width="17.28" height="2.16" fill="#1a9a49" />
<polygon points="1305.88,787.92 1331.8,727.44 1334.68,727.44 1310.2,787.92" fill="#c8c8c8" stroke="none" stroke-width="0" />
<polygon points="1327.48,726 1343.32,726 1343.32,787.92 1327.48,787.92" fill="none" stroke="none" stroke-width="0" />
<rect x="1331.8" y="726" width="5.76" height="61.919999999999995" fill="#c8c8c8" />
<rect x="1324.6" y="726" width="20.16" height="2.16" fill="#c8c8c8" />
<rect x="1321.72" y="785.76" width="25.919999999999998" height="2.16" fill="#c8c8c8" />
<polygon points="1349.08,787.92 1370.68,787.92 1372.12,766.32 1366.36,776.4" fill="#e0262b" stroke="none" stroke-width="0" />
<circle cx="1275" cy="804" r="6.5" fill="none" stroke="#2a8a4a" stroke-width="2"/>
<path d="M1269,809 Q1275,813 1281,809" stroke="#c33" stroke-width="1.5" fill="none"/>
<text x="1290" y="805" font-family="Liberation Serif" font-size="6.5" font-weight="normal" font-style="normal" fill="#333" text-anchor="start" textLength="83" lengthAdjust="spacingAndGlyphs">MINISTERO del LAVORO</text>
<text x="1290" y="813" font-family="Liberation Serif" font-size="6.5" font-weight="normal" font-style="normal" fill="#333" text-anchor="start" textLength="83" lengthAdjust="spacingAndGlyphs">e delle POLITICHE SOCIALI</text>
</svg></body></html>
